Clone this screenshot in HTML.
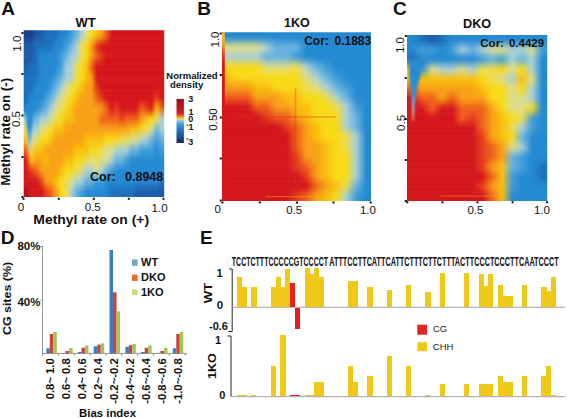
<!DOCTYPE html>
<html><head><meta charset="utf-8"><style>
html,body{margin:0;padding:0;background:#fff;}
svg{display:block;}
text{font-family:"Liberation Sans",sans-serif;}
</style></head><body>
<svg width="567" height="418" viewBox="0 0 567 418">
<rect width="567" height="418" fill="#fff"/>
<defs><linearGradient id="cbar" x1="0" y1="0" x2="0" y2="1"><stop offset="0" stop-color="#9c0e1e"/><stop offset="0.15" stop-color="#b41420"/><stop offset="0.30" stop-color="#cc1a20"/><stop offset="0.34" stop-color="#dc2820"/><stop offset="0.38" stop-color="#f06020"/><stop offset="0.42" stop-color="#f4a028"/><stop offset="0.445" stop-color="#f0d040"/><stop offset="0.47" stop-color="#c8dca0"/><stop offset="0.51" stop-color="#7cc0e4"/><stop offset="0.57" stop-color="#44a0dc"/><stop offset="0.66" stop-color="#2580c8"/><stop offset="0.75" stop-color="#1e6cb8"/><stop offset="0.84" stop-color="#1a56a0"/><stop offset="0.92" stop-color="#14387a"/><stop offset="1" stop-color="#102c68"/></linearGradient><linearGradient id="bstrip" x1="0" y1="0" x2="0" y2="1"><stop offset="0" stop-color="#f8c040"/><stop offset="0.08" stop-color="#f0a020"/><stop offset="0.14" stop-color="#e84018"/><stop offset="0.2" stop-color="#d8161a"/><stop offset="1" stop-color="#d8161a"/></linearGradient></defs>
<defs><linearGradient id="gA0" x1="23.7" x2="164.2" y1="0" y2="0" gradientUnits="userSpaceOnUse"><stop offset="0.018" stop-color="#173f86"/><stop offset="0.054" stop-color="#173f86"/><stop offset="0.089" stop-color="#1b5aa8"/><stop offset="0.125" stop-color="#1b5aa8"/><stop offset="0.161" stop-color="#1c70bc"/><stop offset="0.196" stop-color="#1c70bc"/><stop offset="0.232" stop-color="#1c70bc"/><stop offset="0.268" stop-color="#2489d2"/><stop offset="0.304" stop-color="#2489d2"/><stop offset="0.339" stop-color="#3e9cd8"/><stop offset="0.375" stop-color="#66b2e0"/><stop offset="0.411" stop-color="#a9d0d6"/><stop offset="0.446" stop-color="#dcdc8a"/><stop offset="0.482" stop-color="#f8da14"/><stop offset="0.518" stop-color="#f8c010"/><stop offset="0.554" stop-color="#f8a012"/><stop offset="0.589" stop-color="#f0601a"/><stop offset="0.625" stop-color="#d4141a"/><stop offset="0.661" stop-color="#d4141a"/><stop offset="0.696" stop-color="#d4141a"/><stop offset="0.732" stop-color="#d4141a"/><stop offset="0.768" stop-color="#d4141a"/><stop offset="0.804" stop-color="#d4141a"/><stop offset="0.839" stop-color="#d4141a"/><stop offset="0.875" stop-color="#d4141a"/><stop offset="0.911" stop-color="#d4141a"/><stop offset="0.946" stop-color="#d4141a"/><stop offset="0.982" stop-color="#d4141a"/></linearGradient><linearGradient id="gA1" x1="23.7" x2="164.2" y1="0" y2="0" gradientUnits="userSpaceOnUse"><stop offset="0.018" stop-color="#173f86"/><stop offset="0.054" stop-color="#173f86"/><stop offset="0.089" stop-color="#1b5aa8"/><stop offset="0.125" stop-color="#1b5aa8"/><stop offset="0.161" stop-color="#1c70bc"/><stop offset="0.196" stop-color="#1c70bc"/><stop offset="0.232" stop-color="#1c70bc"/><stop offset="0.268" stop-color="#2489d2"/><stop offset="0.304" stop-color="#2489d2"/><stop offset="0.339" stop-color="#3e9cd8"/><stop offset="0.375" stop-color="#66b2e0"/><stop offset="0.411" stop-color="#a9d0d6"/><stop offset="0.446" stop-color="#dcdc8a"/><stop offset="0.482" stop-color="#f8da14"/><stop offset="0.518" stop-color="#f8c010"/><stop offset="0.554" stop-color="#f8a012"/><stop offset="0.589" stop-color="#f0601a"/><stop offset="0.625" stop-color="#d4141a"/><stop offset="0.661" stop-color="#d4141a"/><stop offset="0.696" stop-color="#d4141a"/><stop offset="0.732" stop-color="#d4141a"/><stop offset="0.768" stop-color="#d4141a"/><stop offset="0.804" stop-color="#d4141a"/><stop offset="0.839" stop-color="#d4141a"/><stop offset="0.875" stop-color="#d4141a"/><stop offset="0.911" stop-color="#d4141a"/><stop offset="0.946" stop-color="#d4141a"/><stop offset="0.982" stop-color="#d4141a"/></linearGradient><linearGradient id="gA2" x1="23.7" x2="164.2" y1="0" y2="0" gradientUnits="userSpaceOnUse"><stop offset="0.018" stop-color="#18428a"/><stop offset="0.054" stop-color="#18428a"/><stop offset="0.089" stop-color="#1b5daa"/><stop offset="0.125" stop-color="#1b5daa"/><stop offset="0.161" stop-color="#1c70bc"/><stop offset="0.196" stop-color="#1c70bc"/><stop offset="0.232" stop-color="#1d73bf"/><stop offset="0.268" stop-color="#2489d2"/><stop offset="0.304" stop-color="#278bd3"/><stop offset="0.339" stop-color="#439fd9"/><stop offset="0.375" stop-color="#6eb6df"/><stop offset="0.411" stop-color="#b2d2c5"/><stop offset="0.446" stop-color="#e0dc7b"/><stop offset="0.482" stop-color="#f8d314"/><stop offset="0.518" stop-color="#f6b011"/><stop offset="0.554" stop-color="#f48e13"/><stop offset="0.589" stop-color="#ec561a"/><stop offset="0.625" stop-color="#d4141a"/><stop offset="0.661" stop-color="#d4141a"/><stop offset="0.696" stop-color="#d4141a"/><stop offset="0.732" stop-color="#d4141a"/><stop offset="0.768" stop-color="#d4141a"/><stop offset="0.804" stop-color="#d4141a"/><stop offset="0.839" stop-color="#d4141a"/><stop offset="0.875" stop-color="#d4141a"/><stop offset="0.911" stop-color="#d4141a"/><stop offset="0.946" stop-color="#d4141a"/><stop offset="0.982" stop-color="#d4141a"/></linearGradient><linearGradient id="gA3" x1="23.7" x2="164.2" y1="0" y2="0" gradientUnits="userSpaceOnUse"><stop offset="0.018" stop-color="#184993"/><stop offset="0.054" stop-color="#184993"/><stop offset="0.089" stop-color="#1b62b0"/><stop offset="0.125" stop-color="#1b62b0"/><stop offset="0.161" stop-color="#1c70bc"/><stop offset="0.196" stop-color="#1c70bc"/><stop offset="0.232" stop-color="#1f79c4"/><stop offset="0.268" stop-color="#2489d2"/><stop offset="0.304" stop-color="#2e90d4"/><stop offset="0.339" stop-color="#4da4db"/><stop offset="0.375" stop-color="#7fbddc"/><stop offset="0.411" stop-color="#c3d4a4"/><stop offset="0.446" stop-color="#e6db5e"/><stop offset="0.482" stop-color="#f8c413"/><stop offset="0.518" stop-color="#f08e14"/><stop offset="0.554" stop-color="#ea6c15"/><stop offset="0.589" stop-color="#e6441a"/><stop offset="0.625" stop-color="#d4141a"/><stop offset="0.661" stop-color="#d4141a"/><stop offset="0.696" stop-color="#d4141a"/><stop offset="0.732" stop-color="#d4141a"/><stop offset="0.768" stop-color="#d4141a"/><stop offset="0.804" stop-color="#d4141a"/><stop offset="0.839" stop-color="#d4141a"/><stop offset="0.875" stop-color="#d4141a"/><stop offset="0.911" stop-color="#d4141a"/><stop offset="0.946" stop-color="#d4141a"/><stop offset="0.982" stop-color="#d4141a"/></linearGradient><linearGradient id="gA4" x1="23.7" x2="164.2" y1="0" y2="0" gradientUnits="userSpaceOnUse"><stop offset="0.018" stop-color="#1a509b"/><stop offset="0.054" stop-color="#1a509b"/><stop offset="0.089" stop-color="#1c68b4"/><stop offset="0.125" stop-color="#1c68b4"/><stop offset="0.161" stop-color="#1c70bc"/><stop offset="0.196" stop-color="#1c70bc"/><stop offset="0.232" stop-color="#2180ca"/><stop offset="0.268" stop-color="#2489d2"/><stop offset="0.304" stop-color="#3495d6"/><stop offset="0.339" stop-color="#57aadd"/><stop offset="0.375" stop-color="#90c5da"/><stop offset="0.411" stop-color="#d4d882"/><stop offset="0.446" stop-color="#eedb40"/><stop offset="0.482" stop-color="#f8b613"/><stop offset="0.518" stop-color="#ec6e16"/><stop offset="0.554" stop-color="#e24817"/><stop offset="0.589" stop-color="#de301a"/><stop offset="0.625" stop-color="#d4141a"/><stop offset="0.661" stop-color="#d4141a"/><stop offset="0.696" stop-color="#d4141a"/><stop offset="0.732" stop-color="#d4141a"/><stop offset="0.768" stop-color="#d4141a"/><stop offset="0.804" stop-color="#d4141a"/><stop offset="0.839" stop-color="#d4141a"/><stop offset="0.875" stop-color="#d4141a"/><stop offset="0.911" stop-color="#d4141a"/><stop offset="0.946" stop-color="#d4141a"/><stop offset="0.982" stop-color="#d4141a"/></linearGradient><linearGradient id="gA5" x1="23.7" x2="164.2" y1="0" y2="0" gradientUnits="userSpaceOnUse"><stop offset="0.018" stop-color="#1a57a4"/><stop offset="0.054" stop-color="#1a57a4"/><stop offset="0.089" stop-color="#1c6dba"/><stop offset="0.125" stop-color="#1c6dba"/><stop offset="0.161" stop-color="#1c70bc"/><stop offset="0.196" stop-color="#1c70bc"/><stop offset="0.232" stop-color="#2386cf"/><stop offset="0.268" stop-color="#2489d2"/><stop offset="0.304" stop-color="#3b9ad7"/><stop offset="0.339" stop-color="#61afdf"/><stop offset="0.375" stop-color="#a1ccd7"/><stop offset="0.411" stop-color="#e5da61"/><stop offset="0.446" stop-color="#f4da23"/><stop offset="0.482" stop-color="#f8a712"/><stop offset="0.518" stop-color="#e64c19"/><stop offset="0.554" stop-color="#d82619"/><stop offset="0.589" stop-color="#d81e1a"/><stop offset="0.625" stop-color="#d4141a"/><stop offset="0.661" stop-color="#d4141a"/><stop offset="0.696" stop-color="#d4141a"/><stop offset="0.732" stop-color="#d4141a"/><stop offset="0.768" stop-color="#d4141a"/><stop offset="0.804" stop-color="#d4141a"/><stop offset="0.839" stop-color="#d4141a"/><stop offset="0.875" stop-color="#d4141a"/><stop offset="0.911" stop-color="#d4141a"/><stop offset="0.946" stop-color="#d4141a"/><stop offset="0.982" stop-color="#d4141a"/></linearGradient><linearGradient id="gA6" x1="23.7" x2="164.2" y1="0" y2="0" gradientUnits="userSpaceOnUse"><stop offset="0.018" stop-color="#1b5aa8"/><stop offset="0.054" stop-color="#1b5aa8"/><stop offset="0.089" stop-color="#1c70bc"/><stop offset="0.125" stop-color="#1d73bf"/><stop offset="0.161" stop-color="#1d73bf"/><stop offset="0.196" stop-color="#1d73bf"/><stop offset="0.232" stop-color="#2489d2"/><stop offset="0.268" stop-color="#278bd3"/><stop offset="0.304" stop-color="#439fd9"/><stop offset="0.339" stop-color="#6eb6df"/><stop offset="0.375" stop-color="#a9d0d6"/><stop offset="0.411" stop-color="#eedc50"/><stop offset="0.446" stop-color="#f8da14"/><stop offset="0.482" stop-color="#f8a012"/><stop offset="0.518" stop-color="#e6401a"/><stop offset="0.554" stop-color="#d6191a"/><stop offset="0.589" stop-color="#d4141a"/><stop offset="0.625" stop-color="#d4141a"/><stop offset="0.661" stop-color="#d4141a"/><stop offset="0.696" stop-color="#d4141a"/><stop offset="0.732" stop-color="#d4141a"/><stop offset="0.768" stop-color="#d4141a"/><stop offset="0.804" stop-color="#d4141a"/><stop offset="0.839" stop-color="#d4141a"/><stop offset="0.875" stop-color="#d4141a"/><stop offset="0.911" stop-color="#d4141a"/><stop offset="0.946" stop-color="#d4141a"/><stop offset="0.982" stop-color="#d4141a"/></linearGradient><linearGradient id="gA7" x1="23.7" x2="164.2" y1="0" y2="0" gradientUnits="userSpaceOnUse"><stop offset="0.018" stop-color="#1b5aa8"/><stop offset="0.054" stop-color="#1b5aa8"/><stop offset="0.089" stop-color="#1c70bc"/><stop offset="0.125" stop-color="#1f79c4"/><stop offset="0.161" stop-color="#1f79c4"/><stop offset="0.196" stop-color="#1f79c4"/><stop offset="0.232" stop-color="#2489d2"/><stop offset="0.268" stop-color="#2e90d4"/><stop offset="0.304" stop-color="#4da4db"/><stop offset="0.339" stop-color="#7fbddc"/><stop offset="0.375" stop-color="#a9d0d6"/><stop offset="0.411" stop-color="#eedc50"/><stop offset="0.446" stop-color="#f8da14"/><stop offset="0.482" stop-color="#f8a012"/><stop offset="0.518" stop-color="#e84a1a"/><stop offset="0.554" stop-color="#da231a"/><stop offset="0.589" stop-color="#d4141a"/><stop offset="0.625" stop-color="#d4141a"/><stop offset="0.661" stop-color="#d4141a"/><stop offset="0.696" stop-color="#d4141a"/><stop offset="0.732" stop-color="#d4141a"/><stop offset="0.768" stop-color="#d4141a"/><stop offset="0.804" stop-color="#d4141a"/><stop offset="0.839" stop-color="#d4141a"/><stop offset="0.875" stop-color="#d4141a"/><stop offset="0.911" stop-color="#d4141a"/><stop offset="0.946" stop-color="#d4141a"/><stop offset="0.982" stop-color="#d4141a"/></linearGradient><linearGradient id="gA8" x1="23.7" x2="164.2" y1="0" y2="0" gradientUnits="userSpaceOnUse"><stop offset="0.018" stop-color="#1b5aa8"/><stop offset="0.054" stop-color="#1b5aa8"/><stop offset="0.089" stop-color="#1c70bc"/><stop offset="0.125" stop-color="#2180ca"/><stop offset="0.161" stop-color="#2180ca"/><stop offset="0.196" stop-color="#2180ca"/><stop offset="0.232" stop-color="#2489d2"/><stop offset="0.268" stop-color="#3495d6"/><stop offset="0.304" stop-color="#57aadd"/><stop offset="0.339" stop-color="#90c5da"/><stop offset="0.375" stop-color="#a9d0d6"/><stop offset="0.411" stop-color="#eedc50"/><stop offset="0.446" stop-color="#f8da14"/><stop offset="0.482" stop-color="#f8a012"/><stop offset="0.518" stop-color="#ec521a"/><stop offset="0.554" stop-color="#de2d1a"/><stop offset="0.589" stop-color="#d4141a"/><stop offset="0.625" stop-color="#d4141a"/><stop offset="0.661" stop-color="#d4141a"/><stop offset="0.696" stop-color="#d4141a"/><stop offset="0.732" stop-color="#d4141a"/><stop offset="0.768" stop-color="#d4141a"/><stop offset="0.804" stop-color="#d4141a"/><stop offset="0.839" stop-color="#d4141a"/><stop offset="0.875" stop-color="#d4141a"/><stop offset="0.911" stop-color="#d4141a"/><stop offset="0.946" stop-color="#d4141a"/><stop offset="0.982" stop-color="#d4141a"/></linearGradient><linearGradient id="gA9" x1="23.7" x2="164.2" y1="0" y2="0" gradientUnits="userSpaceOnUse"><stop offset="0.018" stop-color="#1b5aa8"/><stop offset="0.054" stop-color="#1b5aa8"/><stop offset="0.089" stop-color="#1c70bc"/><stop offset="0.125" stop-color="#2386cf"/><stop offset="0.161" stop-color="#2386cf"/><stop offset="0.196" stop-color="#2386cf"/><stop offset="0.232" stop-color="#2489d2"/><stop offset="0.268" stop-color="#3b9ad7"/><stop offset="0.304" stop-color="#61afdf"/><stop offset="0.339" stop-color="#a1ccd7"/><stop offset="0.375" stop-color="#a9d0d6"/><stop offset="0.411" stop-color="#eedc50"/><stop offset="0.446" stop-color="#f8da14"/><stop offset="0.482" stop-color="#f8a012"/><stop offset="0.518" stop-color="#ee5c1a"/><stop offset="0.554" stop-color="#e2371a"/><stop offset="0.589" stop-color="#d4141a"/><stop offset="0.625" stop-color="#d4141a"/><stop offset="0.661" stop-color="#d4141a"/><stop offset="0.696" stop-color="#d4141a"/><stop offset="0.732" stop-color="#d4141a"/><stop offset="0.768" stop-color="#d4141a"/><stop offset="0.804" stop-color="#d4141a"/><stop offset="0.839" stop-color="#d4141a"/><stop offset="0.875" stop-color="#d4141a"/><stop offset="0.911" stop-color="#d4141a"/><stop offset="0.946" stop-color="#d4141a"/><stop offset="0.982" stop-color="#d4141a"/></linearGradient><linearGradient id="gA10" x1="23.7" x2="164.2" y1="0" y2="0" gradientUnits="userSpaceOnUse"><stop offset="0.018" stop-color="#1b5aa8"/><stop offset="0.054" stop-color="#1b5daa"/><stop offset="0.089" stop-color="#1c70bc"/><stop offset="0.125" stop-color="#2489d2"/><stop offset="0.161" stop-color="#2489d2"/><stop offset="0.196" stop-color="#2489d2"/><stop offset="0.232" stop-color="#2489d2"/><stop offset="0.268" stop-color="#3e9cd8"/><stop offset="0.304" stop-color="#6eb6df"/><stop offset="0.339" stop-color="#a9d0d6"/><stop offset="0.375" stop-color="#b2d2c5"/><stop offset="0.411" stop-color="#efdc48"/><stop offset="0.446" stop-color="#f8d714"/><stop offset="0.482" stop-color="#f79813"/><stop offset="0.518" stop-color="#ec561a"/><stop offset="0.554" stop-color="#e2371a"/><stop offset="0.589" stop-color="#d4141a"/><stop offset="0.625" stop-color="#d4141a"/><stop offset="0.661" stop-color="#d4141a"/><stop offset="0.696" stop-color="#d4141a"/><stop offset="0.732" stop-color="#d4141a"/><stop offset="0.768" stop-color="#d4141a"/><stop offset="0.804" stop-color="#d4141a"/><stop offset="0.839" stop-color="#d4141a"/><stop offset="0.875" stop-color="#d4141a"/><stop offset="0.911" stop-color="#d4141a"/><stop offset="0.946" stop-color="#d4141a"/><stop offset="0.982" stop-color="#d4141a"/></linearGradient><linearGradient id="gA11" x1="23.7" x2="164.2" y1="0" y2="0" gradientUnits="userSpaceOnUse"><stop offset="0.018" stop-color="#1b5aa8"/><stop offset="0.054" stop-color="#1b62b0"/><stop offset="0.089" stop-color="#1c70bc"/><stop offset="0.125" stop-color="#2489d2"/><stop offset="0.161" stop-color="#2489d2"/><stop offset="0.196" stop-color="#2489d2"/><stop offset="0.232" stop-color="#2489d2"/><stop offset="0.268" stop-color="#3e9cd8"/><stop offset="0.304" stop-color="#7fbddc"/><stop offset="0.339" stop-color="#a9d0d6"/><stop offset="0.375" stop-color="#c3d4a4"/><stop offset="0.411" stop-color="#f2db3a"/><stop offset="0.446" stop-color="#f8d012"/><stop offset="0.482" stop-color="#f58815"/><stop offset="0.518" stop-color="#e6441a"/><stop offset="0.554" stop-color="#de2d1a"/><stop offset="0.589" stop-color="#d4141a"/><stop offset="0.625" stop-color="#d4141a"/><stop offset="0.661" stop-color="#d4141a"/><stop offset="0.696" stop-color="#d4141a"/><stop offset="0.732" stop-color="#d4141a"/><stop offset="0.768" stop-color="#d4141a"/><stop offset="0.804" stop-color="#d4141a"/><stop offset="0.839" stop-color="#d4141a"/><stop offset="0.875" stop-color="#d4141a"/><stop offset="0.911" stop-color="#d4141a"/><stop offset="0.946" stop-color="#d4141a"/><stop offset="0.982" stop-color="#d4141a"/></linearGradient><linearGradient id="gA12" x1="23.7" x2="164.2" y1="0" y2="0" gradientUnits="userSpaceOnUse"><stop offset="0.018" stop-color="#1b5aa8"/><stop offset="0.054" stop-color="#1c68b4"/><stop offset="0.089" stop-color="#1c70bc"/><stop offset="0.125" stop-color="#2489d2"/><stop offset="0.161" stop-color="#2489d2"/><stop offset="0.196" stop-color="#2489d2"/><stop offset="0.232" stop-color="#2489d2"/><stop offset="0.268" stop-color="#3e9cd8"/><stop offset="0.304" stop-color="#90c5da"/><stop offset="0.339" stop-color="#a9d0d6"/><stop offset="0.375" stop-color="#d4d882"/><stop offset="0.411" stop-color="#f4db2a"/><stop offset="0.446" stop-color="#f8ca12"/><stop offset="0.482" stop-color="#f37817"/><stop offset="0.518" stop-color="#de301a"/><stop offset="0.554" stop-color="#da231a"/><stop offset="0.589" stop-color="#d4141a"/><stop offset="0.625" stop-color="#d4141a"/><stop offset="0.661" stop-color="#d4141a"/><stop offset="0.696" stop-color="#d4141a"/><stop offset="0.732" stop-color="#d4141a"/><stop offset="0.768" stop-color="#d4141a"/><stop offset="0.804" stop-color="#d4141a"/><stop offset="0.839" stop-color="#d4141a"/><stop offset="0.875" stop-color="#d4141a"/><stop offset="0.911" stop-color="#d4141a"/><stop offset="0.946" stop-color="#d4141a"/><stop offset="0.982" stop-color="#d4141a"/></linearGradient><linearGradient id="gA13" x1="23.7" x2="164.2" y1="0" y2="0" gradientUnits="userSpaceOnUse"><stop offset="0.018" stop-color="#1b5aa8"/><stop offset="0.054" stop-color="#1c6dba"/><stop offset="0.089" stop-color="#1c70bc"/><stop offset="0.125" stop-color="#2489d2"/><stop offset="0.161" stop-color="#2489d2"/><stop offset="0.196" stop-color="#2489d2"/><stop offset="0.232" stop-color="#2489d2"/><stop offset="0.268" stop-color="#3e9cd8"/><stop offset="0.304" stop-color="#a1ccd7"/><stop offset="0.339" stop-color="#a9d0d6"/><stop offset="0.375" stop-color="#e5da61"/><stop offset="0.411" stop-color="#f7da1c"/><stop offset="0.446" stop-color="#f8c310"/><stop offset="0.482" stop-color="#f16819"/><stop offset="0.518" stop-color="#d81e1a"/><stop offset="0.554" stop-color="#d6191a"/><stop offset="0.589" stop-color="#d4141a"/><stop offset="0.625" stop-color="#d4141a"/><stop offset="0.661" stop-color="#d4141a"/><stop offset="0.696" stop-color="#d4141a"/><stop offset="0.732" stop-color="#d4141a"/><stop offset="0.768" stop-color="#d4141a"/><stop offset="0.804" stop-color="#d4141a"/><stop offset="0.839" stop-color="#d4141a"/><stop offset="0.875" stop-color="#d4141a"/><stop offset="0.911" stop-color="#d4141a"/><stop offset="0.946" stop-color="#d4141a"/><stop offset="0.982" stop-color="#d4141a"/></linearGradient><linearGradient id="gA14" x1="23.7" x2="164.2" y1="0" y2="0" gradientUnits="userSpaceOnUse"><stop offset="0.018" stop-color="#1b5daa"/><stop offset="0.054" stop-color="#1c70bc"/><stop offset="0.089" stop-color="#1c70bc"/><stop offset="0.125" stop-color="#2489d2"/><stop offset="0.161" stop-color="#2489d2"/><stop offset="0.196" stop-color="#2489d2"/><stop offset="0.232" stop-color="#278bd3"/><stop offset="0.268" stop-color="#439fd9"/><stop offset="0.304" stop-color="#a9d0d6"/><stop offset="0.339" stop-color="#a9d0d6"/><stop offset="0.375" stop-color="#eedc50"/><stop offset="0.411" stop-color="#f8da14"/><stop offset="0.446" stop-color="#f8c010"/><stop offset="0.482" stop-color="#f16819"/><stop offset="0.518" stop-color="#d4141a"/><stop offset="0.554" stop-color="#d4141a"/><stop offset="0.589" stop-color="#d4141a"/><stop offset="0.625" stop-color="#d4141a"/><stop offset="0.661" stop-color="#d4141a"/><stop offset="0.696" stop-color="#d4141a"/><stop offset="0.732" stop-color="#d4141a"/><stop offset="0.768" stop-color="#d4141a"/><stop offset="0.804" stop-color="#d4141a"/><stop offset="0.839" stop-color="#d4141a"/><stop offset="0.875" stop-color="#d4141a"/><stop offset="0.911" stop-color="#d4141a"/><stop offset="0.946" stop-color="#d4141a"/><stop offset="0.982" stop-color="#d4141a"/></linearGradient><linearGradient id="gA15" x1="23.7" x2="164.2" y1="0" y2="0" gradientUnits="userSpaceOnUse"><stop offset="0.018" stop-color="#1b62b0"/><stop offset="0.054" stop-color="#1c70bc"/><stop offset="0.089" stop-color="#1c70bc"/><stop offset="0.125" stop-color="#2489d2"/><stop offset="0.161" stop-color="#2489d2"/><stop offset="0.196" stop-color="#2489d2"/><stop offset="0.232" stop-color="#2e90d4"/><stop offset="0.268" stop-color="#4da4db"/><stop offset="0.304" stop-color="#a9d0d6"/><stop offset="0.339" stop-color="#a9d0d6"/><stop offset="0.375" stop-color="#eedc50"/><stop offset="0.411" stop-color="#f8da14"/><stop offset="0.446" stop-color="#f8c010"/><stop offset="0.482" stop-color="#f37817"/><stop offset="0.518" stop-color="#d4141a"/><stop offset="0.554" stop-color="#d4141a"/><stop offset="0.589" stop-color="#d4141a"/><stop offset="0.625" stop-color="#d4141a"/><stop offset="0.661" stop-color="#d4141a"/><stop offset="0.696" stop-color="#d4141a"/><stop offset="0.732" stop-color="#d4141a"/><stop offset="0.768" stop-color="#d4141a"/><stop offset="0.804" stop-color="#d4141a"/><stop offset="0.839" stop-color="#d4141a"/><stop offset="0.875" stop-color="#d4141a"/><stop offset="0.911" stop-color="#d4141a"/><stop offset="0.946" stop-color="#d4141a"/><stop offset="0.982" stop-color="#d4141a"/></linearGradient><linearGradient id="gA16" x1="23.7" x2="164.2" y1="0" y2="0" gradientUnits="userSpaceOnUse"><stop offset="0.018" stop-color="#1c68b4"/><stop offset="0.054" stop-color="#1c70bc"/><stop offset="0.089" stop-color="#1c70bc"/><stop offset="0.125" stop-color="#2489d2"/><stop offset="0.161" stop-color="#2489d2"/><stop offset="0.196" stop-color="#2489d2"/><stop offset="0.232" stop-color="#3495d6"/><stop offset="0.268" stop-color="#57aadd"/><stop offset="0.304" stop-color="#a9d0d6"/><stop offset="0.339" stop-color="#a9d0d6"/><stop offset="0.375" stop-color="#eedc50"/><stop offset="0.411" stop-color="#f8da14"/><stop offset="0.446" stop-color="#f8c010"/><stop offset="0.482" stop-color="#f58815"/><stop offset="0.518" stop-color="#d4141a"/><stop offset="0.554" stop-color="#d4141a"/><stop offset="0.589" stop-color="#d4141a"/><stop offset="0.625" stop-color="#d4141a"/><stop offset="0.661" stop-color="#d4141a"/><stop offset="0.696" stop-color="#d4141a"/><stop offset="0.732" stop-color="#d4141a"/><stop offset="0.768" stop-color="#d4141a"/><stop offset="0.804" stop-color="#d4141a"/><stop offset="0.839" stop-color="#d4141a"/><stop offset="0.875" stop-color="#d4141a"/><stop offset="0.911" stop-color="#d4141a"/><stop offset="0.946" stop-color="#d4141a"/><stop offset="0.982" stop-color="#d4141a"/></linearGradient><linearGradient id="gA17" x1="23.7" x2="164.2" y1="0" y2="0" gradientUnits="userSpaceOnUse"><stop offset="0.018" stop-color="#1c6dba"/><stop offset="0.054" stop-color="#1c70bc"/><stop offset="0.089" stop-color="#1c70bc"/><stop offset="0.125" stop-color="#2489d2"/><stop offset="0.161" stop-color="#2489d2"/><stop offset="0.196" stop-color="#2489d2"/><stop offset="0.232" stop-color="#3b9ad7"/><stop offset="0.268" stop-color="#61afdf"/><stop offset="0.304" stop-color="#a9d0d6"/><stop offset="0.339" stop-color="#a9d0d6"/><stop offset="0.375" stop-color="#eedc50"/><stop offset="0.411" stop-color="#f8da14"/><stop offset="0.446" stop-color="#f8c010"/><stop offset="0.482" stop-color="#f79813"/><stop offset="0.518" stop-color="#d4141a"/><stop offset="0.554" stop-color="#d4141a"/><stop offset="0.589" stop-color="#d4141a"/><stop offset="0.625" stop-color="#d4141a"/><stop offset="0.661" stop-color="#d4141a"/><stop offset="0.696" stop-color="#d4141a"/><stop offset="0.732" stop-color="#d4141a"/><stop offset="0.768" stop-color="#d4141a"/><stop offset="0.804" stop-color="#d4141a"/><stop offset="0.839" stop-color="#d4141a"/><stop offset="0.875" stop-color="#d4141a"/><stop offset="0.911" stop-color="#d4141a"/><stop offset="0.946" stop-color="#d4141a"/><stop offset="0.982" stop-color="#d4141a"/></linearGradient><linearGradient id="gA18" x1="23.7" x2="164.2" y1="0" y2="0" gradientUnits="userSpaceOnUse"><stop offset="0.018" stop-color="#1c70bc"/><stop offset="0.054" stop-color="#1c70bc"/><stop offset="0.089" stop-color="#1d73bf"/><stop offset="0.125" stop-color="#2489d2"/><stop offset="0.161" stop-color="#2489d2"/><stop offset="0.196" stop-color="#278bd3"/><stop offset="0.232" stop-color="#439fd9"/><stop offset="0.268" stop-color="#6eb6df"/><stop offset="0.304" stop-color="#afd2cc"/><stop offset="0.339" stop-color="#b2d2c5"/><stop offset="0.375" stop-color="#efdc48"/><stop offset="0.411" stop-color="#f8d714"/><stop offset="0.446" stop-color="#f8bc10"/><stop offset="0.482" stop-color="#f8a012"/><stop offset="0.518" stop-color="#d6191a"/><stop offset="0.554" stop-color="#d4141a"/><stop offset="0.589" stop-color="#d4141a"/><stop offset="0.625" stop-color="#d4141a"/><stop offset="0.661" stop-color="#d4141a"/><stop offset="0.696" stop-color="#d4141a"/><stop offset="0.732" stop-color="#d4141a"/><stop offset="0.768" stop-color="#d4141a"/><stop offset="0.804" stop-color="#d4141a"/><stop offset="0.839" stop-color="#d4141a"/><stop offset="0.875" stop-color="#d4141a"/><stop offset="0.911" stop-color="#d4141a"/><stop offset="0.946" stop-color="#d4141a"/><stop offset="0.982" stop-color="#d4141a"/></linearGradient><linearGradient id="gA19" x1="23.7" x2="164.2" y1="0" y2="0" gradientUnits="userSpaceOnUse"><stop offset="0.018" stop-color="#1c70bc"/><stop offset="0.054" stop-color="#1c70bc"/><stop offset="0.089" stop-color="#1f79c4"/><stop offset="0.125" stop-color="#2489d2"/><stop offset="0.161" stop-color="#2489d2"/><stop offset="0.196" stop-color="#2e90d4"/><stop offset="0.232" stop-color="#4da4db"/><stop offset="0.268" stop-color="#7fbddc"/><stop offset="0.304" stop-color="#bcd4ba"/><stop offset="0.339" stop-color="#c3d4a4"/><stop offset="0.375" stop-color="#f2db3a"/><stop offset="0.411" stop-color="#f8d012"/><stop offset="0.446" stop-color="#f8b411"/><stop offset="0.482" stop-color="#f8a012"/><stop offset="0.518" stop-color="#da231a"/><stop offset="0.554" stop-color="#d4141a"/><stop offset="0.589" stop-color="#d4141a"/><stop offset="0.625" stop-color="#d4141a"/><stop offset="0.661" stop-color="#d4141a"/><stop offset="0.696" stop-color="#d4141a"/><stop offset="0.732" stop-color="#d4141a"/><stop offset="0.768" stop-color="#d4141a"/><stop offset="0.804" stop-color="#d4141a"/><stop offset="0.839" stop-color="#d4141a"/><stop offset="0.875" stop-color="#d4141a"/><stop offset="0.911" stop-color="#d4141a"/><stop offset="0.946" stop-color="#d4141a"/><stop offset="0.982" stop-color="#d4141a"/></linearGradient><linearGradient id="gA20" x1="23.7" x2="164.2" y1="0" y2="0" gradientUnits="userSpaceOnUse"><stop offset="0.018" stop-color="#1c70bc"/><stop offset="0.054" stop-color="#1c70bc"/><stop offset="0.089" stop-color="#2180ca"/><stop offset="0.125" stop-color="#2489d2"/><stop offset="0.161" stop-color="#2489d2"/><stop offset="0.196" stop-color="#3495d6"/><stop offset="0.232" stop-color="#57aadd"/><stop offset="0.268" stop-color="#90c5da"/><stop offset="0.304" stop-color="#c9d8a6"/><stop offset="0.339" stop-color="#d4d882"/><stop offset="0.375" stop-color="#f4db2a"/><stop offset="0.411" stop-color="#f8ca12"/><stop offset="0.446" stop-color="#f8ac11"/><stop offset="0.482" stop-color="#f8a012"/><stop offset="0.518" stop-color="#de2d1a"/><stop offset="0.554" stop-color="#d4141a"/><stop offset="0.589" stop-color="#d4141a"/><stop offset="0.625" stop-color="#d4141a"/><stop offset="0.661" stop-color="#d4141a"/><stop offset="0.696" stop-color="#d4141a"/><stop offset="0.732" stop-color="#d4141a"/><stop offset="0.768" stop-color="#d4141a"/><stop offset="0.804" stop-color="#d4141a"/><stop offset="0.839" stop-color="#d4141a"/><stop offset="0.875" stop-color="#d4141a"/><stop offset="0.911" stop-color="#d4141a"/><stop offset="0.946" stop-color="#d4141a"/><stop offset="0.982" stop-color="#d4141a"/></linearGradient><linearGradient id="gA21" x1="23.7" x2="164.2" y1="0" y2="0" gradientUnits="userSpaceOnUse"><stop offset="0.018" stop-color="#1c70bc"/><stop offset="0.054" stop-color="#1c70bc"/><stop offset="0.089" stop-color="#2386cf"/><stop offset="0.125" stop-color="#2489d2"/><stop offset="0.161" stop-color="#2489d2"/><stop offset="0.196" stop-color="#3b9ad7"/><stop offset="0.232" stop-color="#61afdf"/><stop offset="0.268" stop-color="#a1ccd7"/><stop offset="0.304" stop-color="#d6da94"/><stop offset="0.339" stop-color="#e5da61"/><stop offset="0.375" stop-color="#f7da1c"/><stop offset="0.411" stop-color="#f8c310"/><stop offset="0.446" stop-color="#f8a412"/><stop offset="0.482" stop-color="#f8a012"/><stop offset="0.518" stop-color="#e2371a"/><stop offset="0.554" stop-color="#d4141a"/><stop offset="0.589" stop-color="#d4141a"/><stop offset="0.625" stop-color="#d4141a"/><stop offset="0.661" stop-color="#d4141a"/><stop offset="0.696" stop-color="#d4141a"/><stop offset="0.732" stop-color="#d4141a"/><stop offset="0.768" stop-color="#d4141a"/><stop offset="0.804" stop-color="#d4141a"/><stop offset="0.839" stop-color="#d4141a"/><stop offset="0.875" stop-color="#d4141a"/><stop offset="0.911" stop-color="#d4141a"/><stop offset="0.946" stop-color="#d4141a"/><stop offset="0.982" stop-color="#d4141a"/></linearGradient><linearGradient id="gA22" x1="23.7" x2="164.2" y1="0" y2="0" gradientUnits="userSpaceOnUse"><stop offset="0.018" stop-color="#1c70bc"/><stop offset="0.054" stop-color="#1d73bf"/><stop offset="0.089" stop-color="#2489d2"/><stop offset="0.125" stop-color="#2489d2"/><stop offset="0.161" stop-color="#278bd3"/><stop offset="0.196" stop-color="#439fd9"/><stop offset="0.232" stop-color="#6eb6df"/><stop offset="0.268" stop-color="#afd2cc"/><stop offset="0.304" stop-color="#dedc83"/><stop offset="0.339" stop-color="#efdc48"/><stop offset="0.375" stop-color="#f8d714"/><stop offset="0.411" stop-color="#f8bc10"/><stop offset="0.446" stop-color="#f8a012"/><stop offset="0.482" stop-color="#f8a012"/><stop offset="0.518" stop-color="#e6401a"/><stop offset="0.554" stop-color="#d6191a"/><stop offset="0.589" stop-color="#d4141a"/><stop offset="0.625" stop-color="#d4141a"/><stop offset="0.661" stop-color="#d4141a"/><stop offset="0.696" stop-color="#d4141a"/><stop offset="0.732" stop-color="#d4141a"/><stop offset="0.768" stop-color="#d4141a"/><stop offset="0.804" stop-color="#d4141a"/><stop offset="0.839" stop-color="#d4141a"/><stop offset="0.875" stop-color="#d4141a"/><stop offset="0.911" stop-color="#d4141a"/><stop offset="0.946" stop-color="#d6191a"/><stop offset="0.982" stop-color="#d4141a"/></linearGradient><linearGradient id="gA23" x1="23.7" x2="164.2" y1="0" y2="0" gradientUnits="userSpaceOnUse"><stop offset="0.018" stop-color="#1c70bc"/><stop offset="0.054" stop-color="#1f79c4"/><stop offset="0.089" stop-color="#2489d2"/><stop offset="0.125" stop-color="#2489d2"/><stop offset="0.161" stop-color="#2e90d4"/><stop offset="0.196" stop-color="#4da4db"/><stop offset="0.232" stop-color="#7fbddc"/><stop offset="0.268" stop-color="#bcd4ba"/><stop offset="0.304" stop-color="#e3dc74"/><stop offset="0.339" stop-color="#f2db3a"/><stop offset="0.375" stop-color="#f8d012"/><stop offset="0.411" stop-color="#f8b411"/><stop offset="0.446" stop-color="#f8a012"/><stop offset="0.482" stop-color="#f8a012"/><stop offset="0.518" stop-color="#e84a1a"/><stop offset="0.554" stop-color="#da231a"/><stop offset="0.589" stop-color="#d4141a"/><stop offset="0.625" stop-color="#d4141a"/><stop offset="0.661" stop-color="#d4141a"/><stop offset="0.696" stop-color="#d4141a"/><stop offset="0.732" stop-color="#d4141a"/><stop offset="0.768" stop-color="#d4141a"/><stop offset="0.804" stop-color="#d4141a"/><stop offset="0.839" stop-color="#d4141a"/><stop offset="0.875" stop-color="#d4141a"/><stop offset="0.911" stop-color="#d4141a"/><stop offset="0.946" stop-color="#da231a"/><stop offset="0.982" stop-color="#d4141a"/></linearGradient><linearGradient id="gA24" x1="23.7" x2="164.2" y1="0" y2="0" gradientUnits="userSpaceOnUse"><stop offset="0.018" stop-color="#1c70bc"/><stop offset="0.054" stop-color="#2180ca"/><stop offset="0.089" stop-color="#2489d2"/><stop offset="0.125" stop-color="#2489d2"/><stop offset="0.161" stop-color="#3495d6"/><stop offset="0.196" stop-color="#57aadd"/><stop offset="0.232" stop-color="#90c5da"/><stop offset="0.268" stop-color="#c9d8a6"/><stop offset="0.304" stop-color="#e7dc66"/><stop offset="0.339" stop-color="#f4db2a"/><stop offset="0.375" stop-color="#f8ca12"/><stop offset="0.411" stop-color="#f8ac11"/><stop offset="0.446" stop-color="#f8a012"/><stop offset="0.482" stop-color="#f8a012"/><stop offset="0.518" stop-color="#ec521a"/><stop offset="0.554" stop-color="#de2d1a"/><stop offset="0.589" stop-color="#d4141a"/><stop offset="0.625" stop-color="#d4141a"/><stop offset="0.661" stop-color="#d4141a"/><stop offset="0.696" stop-color="#d4141a"/><stop offset="0.732" stop-color="#d4141a"/><stop offset="0.768" stop-color="#d4141a"/><stop offset="0.804" stop-color="#d4141a"/><stop offset="0.839" stop-color="#d4141a"/><stop offset="0.875" stop-color="#d4141a"/><stop offset="0.911" stop-color="#d4141a"/><stop offset="0.946" stop-color="#de2d1a"/><stop offset="0.982" stop-color="#d4141a"/></linearGradient><linearGradient id="gA25" x1="23.7" x2="164.2" y1="0" y2="0" gradientUnits="userSpaceOnUse"><stop offset="0.018" stop-color="#1c70bc"/><stop offset="0.054" stop-color="#2386cf"/><stop offset="0.089" stop-color="#2489d2"/><stop offset="0.125" stop-color="#2489d2"/><stop offset="0.161" stop-color="#3b9ad7"/><stop offset="0.196" stop-color="#61afdf"/><stop offset="0.232" stop-color="#a1ccd7"/><stop offset="0.268" stop-color="#d6da94"/><stop offset="0.304" stop-color="#ecdc57"/><stop offset="0.339" stop-color="#f7da1c"/><stop offset="0.375" stop-color="#f8c310"/><stop offset="0.411" stop-color="#f8a412"/><stop offset="0.446" stop-color="#f8a012"/><stop offset="0.482" stop-color="#f8a012"/><stop offset="0.518" stop-color="#ee5c1a"/><stop offset="0.554" stop-color="#e2371a"/><stop offset="0.589" stop-color="#d4141a"/><stop offset="0.625" stop-color="#d4141a"/><stop offset="0.661" stop-color="#d4141a"/><stop offset="0.696" stop-color="#d4141a"/><stop offset="0.732" stop-color="#d4141a"/><stop offset="0.768" stop-color="#d4141a"/><stop offset="0.804" stop-color="#d4141a"/><stop offset="0.839" stop-color="#d4141a"/><stop offset="0.875" stop-color="#d4141a"/><stop offset="0.911" stop-color="#d4141a"/><stop offset="0.946" stop-color="#e2371a"/><stop offset="0.982" stop-color="#d4141a"/></linearGradient><linearGradient id="gA26" x1="23.7" x2="164.2" y1="0" y2="0" gradientUnits="userSpaceOnUse"><stop offset="0.018" stop-color="#1c70bc"/><stop offset="0.054" stop-color="#2489d2"/><stop offset="0.089" stop-color="#2489d2"/><stop offset="0.125" stop-color="#278bd3"/><stop offset="0.161" stop-color="#439fd9"/><stop offset="0.196" stop-color="#6eb6df"/><stop offset="0.232" stop-color="#afd1cd"/><stop offset="0.268" stop-color="#dedc83"/><stop offset="0.304" stop-color="#efdc49"/><stop offset="0.339" stop-color="#f8d714"/><stop offset="0.375" stop-color="#f8bc10"/><stop offset="0.411" stop-color="#f8a012"/><stop offset="0.446" stop-color="#f8a012"/><stop offset="0.482" stop-color="#f8a012"/><stop offset="0.518" stop-color="#f16819"/><stop offset="0.554" stop-color="#e64819"/><stop offset="0.589" stop-color="#d81d1a"/><stop offset="0.625" stop-color="#d4141a"/><stop offset="0.661" stop-color="#d6191a"/><stop offset="0.696" stop-color="#d4141a"/><stop offset="0.732" stop-color="#d4141a"/><stop offset="0.768" stop-color="#d4141a"/><stop offset="0.804" stop-color="#d4141a"/><stop offset="0.839" stop-color="#d81d1a"/><stop offset="0.875" stop-color="#d6191a"/><stop offset="0.911" stop-color="#d4141a"/><stop offset="0.946" stop-color="#e64c19"/><stop offset="0.982" stop-color="#d81d1a"/></linearGradient><linearGradient id="gA27" x1="23.7" x2="164.2" y1="0" y2="0" gradientUnits="userSpaceOnUse"><stop offset="0.018" stop-color="#1c70bc"/><stop offset="0.054" stop-color="#2489d2"/><stop offset="0.089" stop-color="#2489d2"/><stop offset="0.125" stop-color="#2e90d4"/><stop offset="0.161" stop-color="#4da4db"/><stop offset="0.196" stop-color="#7fbddc"/><stop offset="0.232" stop-color="#bcd5b9"/><stop offset="0.268" stop-color="#e3dc74"/><stop offset="0.304" stop-color="#f2db39"/><stop offset="0.339" stop-color="#f8d012"/><stop offset="0.375" stop-color="#f8b411"/><stop offset="0.411" stop-color="#f8a012"/><stop offset="0.446" stop-color="#f8a012"/><stop offset="0.482" stop-color="#f8a012"/><stop offset="0.518" stop-color="#f37817"/><stop offset="0.554" stop-color="#ec6217"/><stop offset="0.589" stop-color="#de311a"/><stop offset="0.625" stop-color="#d4141a"/><stop offset="0.661" stop-color="#da231a"/><stop offset="0.696" stop-color="#d4141a"/><stop offset="0.732" stop-color="#d4141a"/><stop offset="0.768" stop-color="#d4141a"/><stop offset="0.804" stop-color="#d4141a"/><stop offset="0.839" stop-color="#de311a"/><stop offset="0.875" stop-color="#da231a"/><stop offset="0.911" stop-color="#d4141a"/><stop offset="0.946" stop-color="#ec6e16"/><stop offset="0.982" stop-color="#de311a"/></linearGradient><linearGradient id="gA28" x1="23.7" x2="164.2" y1="0" y2="0" gradientUnits="userSpaceOnUse"><stop offset="0.018" stop-color="#1c70bc"/><stop offset="0.054" stop-color="#2489d2"/><stop offset="0.089" stop-color="#2489d2"/><stop offset="0.125" stop-color="#3495d6"/><stop offset="0.161" stop-color="#57aadd"/><stop offset="0.196" stop-color="#90c5da"/><stop offset="0.232" stop-color="#c9d8a6"/><stop offset="0.268" stop-color="#e7dc66"/><stop offset="0.304" stop-color="#f4db2a"/><stop offset="0.339" stop-color="#f8ca12"/><stop offset="0.375" stop-color="#f8ac11"/><stop offset="0.411" stop-color="#f8a012"/><stop offset="0.446" stop-color="#f8a012"/><stop offset="0.482" stop-color="#f8a012"/><stop offset="0.518" stop-color="#f58815"/><stop offset="0.554" stop-color="#f07a15"/><stop offset="0.589" stop-color="#e6441a"/><stop offset="0.625" stop-color="#d4141a"/><stop offset="0.661" stop-color="#de2d1a"/><stop offset="0.696" stop-color="#d4141a"/><stop offset="0.732" stop-color="#d4141a"/><stop offset="0.768" stop-color="#d4141a"/><stop offset="0.804" stop-color="#d4141a"/><stop offset="0.839" stop-color="#e6441a"/><stop offset="0.875" stop-color="#de2d1a"/><stop offset="0.911" stop-color="#d4141a"/><stop offset="0.946" stop-color="#f08e14"/><stop offset="0.982" stop-color="#e6441a"/></linearGradient><linearGradient id="gA29" x1="23.7" x2="164.2" y1="0" y2="0" gradientUnits="userSpaceOnUse"><stop offset="0.018" stop-color="#1c70bc"/><stop offset="0.054" stop-color="#2489d2"/><stop offset="0.089" stop-color="#2489d2"/><stop offset="0.125" stop-color="#3b9ad7"/><stop offset="0.161" stop-color="#61afdf"/><stop offset="0.196" stop-color="#a1ccd7"/><stop offset="0.232" stop-color="#d6da94"/><stop offset="0.268" stop-color="#ecdc57"/><stop offset="0.304" stop-color="#f7da1c"/><stop offset="0.339" stop-color="#f8c310"/><stop offset="0.375" stop-color="#f8a412"/><stop offset="0.411" stop-color="#f8a012"/><stop offset="0.446" stop-color="#f8a012"/><stop offset="0.482" stop-color="#f8a012"/><stop offset="0.518" stop-color="#f79813"/><stop offset="0.554" stop-color="#f69413"/><stop offset="0.589" stop-color="#ec561a"/><stop offset="0.625" stop-color="#d4141a"/><stop offset="0.661" stop-color="#e2371a"/><stop offset="0.696" stop-color="#d4141a"/><stop offset="0.732" stop-color="#d4141a"/><stop offset="0.768" stop-color="#d4141a"/><stop offset="0.804" stop-color="#d4141a"/><stop offset="0.839" stop-color="#ec561a"/><stop offset="0.875" stop-color="#e2371a"/><stop offset="0.911" stop-color="#d4141a"/><stop offset="0.946" stop-color="#f6b011"/><stop offset="0.982" stop-color="#ec561a"/></linearGradient><linearGradient id="gA30" x1="23.7" x2="164.2" y1="0" y2="0" gradientUnits="userSpaceOnUse"><stop offset="0.018" stop-color="#2e7cbf"/><stop offset="0.054" stop-color="#2c8ed4"/><stop offset="0.089" stop-color="#2c8ed4"/><stop offset="0.125" stop-color="#4ba2d8"/><stop offset="0.161" stop-color="#6eb6df"/><stop offset="0.196" stop-color="#afd2cc"/><stop offset="0.232" stop-color="#dedc83"/><stop offset="0.268" stop-color="#efdc48"/><stop offset="0.304" stop-color="#f8d714"/><stop offset="0.339" stop-color="#f8c010"/><stop offset="0.375" stop-color="#f8a012"/><stop offset="0.411" stop-color="#f8a012"/><stop offset="0.446" stop-color="#f8a012"/><stop offset="0.482" stop-color="#f8a012"/><stop offset="0.518" stop-color="#f8a012"/><stop offset="0.554" stop-color="#f79813"/><stop offset="0.589" stop-color="#f0601a"/><stop offset="0.625" stop-color="#d81e1a"/><stop offset="0.661" stop-color="#e6401a"/><stop offset="0.696" stop-color="#d6191a"/><stop offset="0.732" stop-color="#d81e1a"/><stop offset="0.768" stop-color="#d81e1a"/><stop offset="0.804" stop-color="#d81e1a"/><stop offset="0.839" stop-color="#f16819"/><stop offset="0.875" stop-color="#e64c19"/><stop offset="0.911" stop-color="#d82d19"/><stop offset="0.946" stop-color="#f7c418"/><stop offset="0.982" stop-color="#e76e32"/></linearGradient><linearGradient id="gA31" x1="23.7" x2="164.2" y1="0" y2="0" gradientUnits="userSpaceOnUse"><stop offset="0.018" stop-color="#5194c6"/><stop offset="0.054" stop-color="#3d98d7"/><stop offset="0.089" stop-color="#3d98d7"/><stop offset="0.125" stop-color="#66afd7"/><stop offset="0.161" stop-color="#7fbddc"/><stop offset="0.196" stop-color="#bcd4ba"/><stop offset="0.232" stop-color="#e3dc74"/><stop offset="0.268" stop-color="#f2db3a"/><stop offset="0.304" stop-color="#f8d013"/><stop offset="0.339" stop-color="#f8c010"/><stop offset="0.375" stop-color="#f8a012"/><stop offset="0.411" stop-color="#f8a012"/><stop offset="0.446" stop-color="#f8a012"/><stop offset="0.482" stop-color="#f8a012"/><stop offset="0.518" stop-color="#f8a012"/><stop offset="0.554" stop-color="#f58815"/><stop offset="0.589" stop-color="#f0601a"/><stop offset="0.625" stop-color="#de301a"/><stop offset="0.661" stop-color="#e8491a"/><stop offset="0.696" stop-color="#da231a"/><stop offset="0.732" stop-color="#de301a"/><stop offset="0.768" stop-color="#de301a"/><stop offset="0.804" stop-color="#de301a"/><stop offset="0.839" stop-color="#f37817"/><stop offset="0.875" stop-color="#eb6d16"/><stop offset="0.911" stop-color="#e15e18"/><stop offset="0.946" stop-color="#f4ca28"/><stop offset="0.982" stop-color="#d58a60"/></linearGradient><linearGradient id="gA32" x1="23.7" x2="164.2" y1="0" y2="0" gradientUnits="userSpaceOnUse"><stop offset="0.018" stop-color="#74accc"/><stop offset="0.054" stop-color="#4da3db"/><stop offset="0.089" stop-color="#4da3db"/><stop offset="0.125" stop-color="#81bcd7"/><stop offset="0.161" stop-color="#90c5da"/><stop offset="0.196" stop-color="#c9d8a6"/><stop offset="0.232" stop-color="#e7dc66"/><stop offset="0.268" stop-color="#f4db2a"/><stop offset="0.304" stop-color="#f8ca12"/><stop offset="0.339" stop-color="#f8c010"/><stop offset="0.375" stop-color="#f8a012"/><stop offset="0.411" stop-color="#f8a012"/><stop offset="0.446" stop-color="#f8a012"/><stop offset="0.482" stop-color="#f8a012"/><stop offset="0.518" stop-color="#f8a012"/><stop offset="0.554" stop-color="#f37817"/><stop offset="0.589" stop-color="#f0601a"/><stop offset="0.625" stop-color="#e6441a"/><stop offset="0.661" stop-color="#ec521a"/><stop offset="0.696" stop-color="#de2d1a"/><stop offset="0.732" stop-color="#e6441a"/><stop offset="0.768" stop-color="#e6441a"/><stop offset="0.804" stop-color="#e6441a"/><stop offset="0.839" stop-color="#f58815"/><stop offset="0.875" stop-color="#f08e14"/><stop offset="0.911" stop-color="#ea9016"/><stop offset="0.946" stop-color="#f2d238"/><stop offset="0.982" stop-color="#c4a690"/></linearGradient><linearGradient id="gA33" x1="23.7" x2="164.2" y1="0" y2="0" gradientUnits="userSpaceOnUse"><stop offset="0.018" stop-color="#97c4d3"/><stop offset="0.054" stop-color="#5eadde"/><stop offset="0.089" stop-color="#5eadde"/><stop offset="0.125" stop-color="#9ccad6"/><stop offset="0.161" stop-color="#a1ccd7"/><stop offset="0.196" stop-color="#d6da94"/><stop offset="0.232" stop-color="#ecdc57"/><stop offset="0.268" stop-color="#f7da1c"/><stop offset="0.304" stop-color="#f8c310"/><stop offset="0.339" stop-color="#f8c010"/><stop offset="0.375" stop-color="#f8a012"/><stop offset="0.411" stop-color="#f8a012"/><stop offset="0.446" stop-color="#f8a012"/><stop offset="0.482" stop-color="#f8a012"/><stop offset="0.518" stop-color="#f8a012"/><stop offset="0.554" stop-color="#f16819"/><stop offset="0.589" stop-color="#f0601a"/><stop offset="0.625" stop-color="#ec561a"/><stop offset="0.661" stop-color="#ee5c1a"/><stop offset="0.696" stop-color="#e2371a"/><stop offset="0.732" stop-color="#ec561a"/><stop offset="0.768" stop-color="#ec561a"/><stop offset="0.804" stop-color="#ec561a"/><stop offset="0.839" stop-color="#f79813"/><stop offset="0.875" stop-color="#f6b011"/><stop offset="0.911" stop-color="#f4c115"/><stop offset="0.946" stop-color="#efd848"/><stop offset="0.982" stop-color="#b2c2be"/></linearGradient><linearGradient id="gA34" x1="23.7" x2="164.2" y1="0" y2="0" gradientUnits="userSpaceOnUse"><stop offset="0.018" stop-color="#b2d2c5"/><stop offset="0.054" stop-color="#6eb6df"/><stop offset="0.089" stop-color="#6eb6df"/><stop offset="0.125" stop-color="#afd2cc"/><stop offset="0.161" stop-color="#b2d2c5"/><stop offset="0.196" stop-color="#e0dc7b"/><stop offset="0.232" stop-color="#efd848"/><stop offset="0.268" stop-color="#f8d714"/><stop offset="0.304" stop-color="#f8bc10"/><stop offset="0.339" stop-color="#f8bc10"/><stop offset="0.375" stop-color="#f8a012"/><stop offset="0.411" stop-color="#f8a012"/><stop offset="0.446" stop-color="#f8a012"/><stop offset="0.482" stop-color="#f8a012"/><stop offset="0.518" stop-color="#f8a012"/><stop offset="0.554" stop-color="#f16819"/><stop offset="0.589" stop-color="#f16819"/><stop offset="0.625" stop-color="#f16819"/><stop offset="0.661" stop-color="#f16819"/><stop offset="0.696" stop-color="#e64819"/><stop offset="0.732" stop-color="#f16819"/><stop offset="0.768" stop-color="#f16c19"/><stop offset="0.804" stop-color="#f16c19"/><stop offset="0.839" stop-color="#f8a712"/><stop offset="0.875" stop-color="#f7c418"/><stop offset="0.911" stop-color="#f4da23"/><stop offset="0.946" stop-color="#ddd762"/><stop offset="0.982" stop-color="#a9d0d6"/></linearGradient><linearGradient id="gA35" x1="23.7" x2="164.2" y1="0" y2="0" gradientUnits="userSpaceOnUse"><stop offset="0.018" stop-color="#c3d4a4"/><stop offset="0.054" stop-color="#7fbddc"/><stop offset="0.089" stop-color="#7fbddc"/><stop offset="0.125" stop-color="#bcd4ba"/><stop offset="0.161" stop-color="#c3d4a4"/><stop offset="0.196" stop-color="#e6db5e"/><stop offset="0.232" stop-color="#f2d238"/><stop offset="0.268" stop-color="#f8d012"/><stop offset="0.304" stop-color="#f8b411"/><stop offset="0.339" stop-color="#f8b411"/><stop offset="0.375" stop-color="#f8a012"/><stop offset="0.411" stop-color="#f8a012"/><stop offset="0.446" stop-color="#f8a012"/><stop offset="0.482" stop-color="#f8a012"/><stop offset="0.518" stop-color="#f8a012"/><stop offset="0.554" stop-color="#f37817"/><stop offset="0.589" stop-color="#f37817"/><stop offset="0.625" stop-color="#f37817"/><stop offset="0.661" stop-color="#f37817"/><stop offset="0.696" stop-color="#ec6217"/><stop offset="0.732" stop-color="#f37817"/><stop offset="0.768" stop-color="#f38416"/><stop offset="0.804" stop-color="#f38416"/><stop offset="0.839" stop-color="#f8b613"/><stop offset="0.875" stop-color="#f4ca28"/><stop offset="0.911" stop-color="#eedb40"/><stop offset="0.946" stop-color="#bbcc86"/><stop offset="0.982" stop-color="#a9d0d6"/></linearGradient><linearGradient id="gA36" x1="23.7" x2="164.2" y1="0" y2="0" gradientUnits="userSpaceOnUse"><stop offset="0.018" stop-color="#d4d882"/><stop offset="0.054" stop-color="#90c5da"/><stop offset="0.089" stop-color="#90c5da"/><stop offset="0.125" stop-color="#c9d8a6"/><stop offset="0.161" stop-color="#d4d882"/><stop offset="0.196" stop-color="#eedb40"/><stop offset="0.232" stop-color="#f4ca28"/><stop offset="0.268" stop-color="#f8ca12"/><stop offset="0.304" stop-color="#f8ac11"/><stop offset="0.339" stop-color="#f8ac11"/><stop offset="0.375" stop-color="#f8a012"/><stop offset="0.411" stop-color="#f8a012"/><stop offset="0.446" stop-color="#f8a012"/><stop offset="0.482" stop-color="#f8a012"/><stop offset="0.518" stop-color="#f8a012"/><stop offset="0.554" stop-color="#f58815"/><stop offset="0.589" stop-color="#f58815"/><stop offset="0.625" stop-color="#f58815"/><stop offset="0.661" stop-color="#f58815"/><stop offset="0.696" stop-color="#f07a15"/><stop offset="0.732" stop-color="#f58815"/><stop offset="0.768" stop-color="#f59c14"/><stop offset="0.804" stop-color="#f59c14"/><stop offset="0.839" stop-color="#f8c413"/><stop offset="0.875" stop-color="#f2d238"/><stop offset="0.911" stop-color="#e6db5e"/><stop offset="0.946" stop-color="#99c2aa"/><stop offset="0.982" stop-color="#a9d0d6"/></linearGradient><linearGradient id="gA37" x1="23.7" x2="164.2" y1="0" y2="0" gradientUnits="userSpaceOnUse"><stop offset="0.018" stop-color="#e5da61"/><stop offset="0.054" stop-color="#a1ccd7"/><stop offset="0.089" stop-color="#a1ccd7"/><stop offset="0.125" stop-color="#d6da94"/><stop offset="0.161" stop-color="#e5da61"/><stop offset="0.196" stop-color="#f4da23"/><stop offset="0.232" stop-color="#f7c418"/><stop offset="0.268" stop-color="#f8c310"/><stop offset="0.304" stop-color="#f8a412"/><stop offset="0.339" stop-color="#f8a412"/><stop offset="0.375" stop-color="#f8a012"/><stop offset="0.411" stop-color="#f8a012"/><stop offset="0.446" stop-color="#f8a012"/><stop offset="0.482" stop-color="#f8a012"/><stop offset="0.518" stop-color="#f8a012"/><stop offset="0.554" stop-color="#f79813"/><stop offset="0.589" stop-color="#f79813"/><stop offset="0.625" stop-color="#f79813"/><stop offset="0.661" stop-color="#f79813"/><stop offset="0.696" stop-color="#f69413"/><stop offset="0.732" stop-color="#f79813"/><stop offset="0.768" stop-color="#f7b411"/><stop offset="0.804" stop-color="#f7b411"/><stop offset="0.839" stop-color="#f8d314"/><stop offset="0.875" stop-color="#efd848"/><stop offset="0.911" stop-color="#e0dc7b"/><stop offset="0.946" stop-color="#77b7ce"/><stop offset="0.982" stop-color="#a9d0d6"/></linearGradient><linearGradient id="gA38" x1="23.7" x2="164.2" y1="0" y2="0" gradientUnits="userSpaceOnUse"><stop offset="0.018" stop-color="#efd848"/><stop offset="0.054" stop-color="#afd2cc"/><stop offset="0.089" stop-color="#afd2cc"/><stop offset="0.125" stop-color="#e0dc7b"/><stop offset="0.161" stop-color="#efdc48"/><stop offset="0.196" stop-color="#f8d714"/><stop offset="0.232" stop-color="#f8bc10"/><stop offset="0.268" stop-color="#f8bc10"/><stop offset="0.304" stop-color="#f8a012"/><stop offset="0.339" stop-color="#f8a012"/><stop offset="0.375" stop-color="#f8a012"/><stop offset="0.411" stop-color="#f8a012"/><stop offset="0.446" stop-color="#f8a412"/><stop offset="0.482" stop-color="#f8a412"/><stop offset="0.518" stop-color="#f8a412"/><stop offset="0.554" stop-color="#f8a412"/><stop offset="0.589" stop-color="#f8a712"/><stop offset="0.625" stop-color="#f8a712"/><stop offset="0.661" stop-color="#f8a712"/><stop offset="0.696" stop-color="#f7a81a"/><stop offset="0.732" stop-color="#f7a81a"/><stop offset="0.768" stop-color="#f4c41f"/><stop offset="0.804" stop-color="#f4c41f"/><stop offset="0.839" stop-color="#eed92c"/><stop offset="0.875" stop-color="#e5da61"/><stop offset="0.911" stop-color="#cdd795"/><stop offset="0.946" stop-color="#61afdf"/><stop offset="0.982" stop-color="#a1ccd7"/></linearGradient><linearGradient id="gA39" x1="23.7" x2="164.2" y1="0" y2="0" gradientUnits="userSpaceOnUse"><stop offset="0.018" stop-color="#f2d238"/><stop offset="0.054" stop-color="#bcd4ba"/><stop offset="0.089" stop-color="#bcd4ba"/><stop offset="0.125" stop-color="#e6db5e"/><stop offset="0.161" stop-color="#f2db3a"/><stop offset="0.196" stop-color="#f8d012"/><stop offset="0.232" stop-color="#f8b411"/><stop offset="0.268" stop-color="#f8b411"/><stop offset="0.304" stop-color="#f8a012"/><stop offset="0.339" stop-color="#f8a012"/><stop offset="0.375" stop-color="#f8a012"/><stop offset="0.411" stop-color="#f8a012"/><stop offset="0.446" stop-color="#f8ac11"/><stop offset="0.482" stop-color="#f8ac11"/><stop offset="0.518" stop-color="#f8ac11"/><stop offset="0.554" stop-color="#f8ac11"/><stop offset="0.589" stop-color="#f8b613"/><stop offset="0.625" stop-color="#f8b613"/><stop offset="0.661" stop-color="#f8b613"/><stop offset="0.696" stop-color="#f4b629"/><stop offset="0.732" stop-color="#f4b629"/><stop offset="0.768" stop-color="#eeca3e"/><stop offset="0.804" stop-color="#eeca3e"/><stop offset="0.839" stop-color="#dad65d"/><stop offset="0.875" stop-color="#d4d882"/><stop offset="0.911" stop-color="#b0ccaa"/><stop offset="0.946" stop-color="#57aadd"/><stop offset="0.982" stop-color="#90c5da"/></linearGradient><linearGradient id="gA40" x1="23.7" x2="164.2" y1="0" y2="0" gradientUnits="userSpaceOnUse"><stop offset="0.018" stop-color="#f4ca28"/><stop offset="0.054" stop-color="#c9d8a6"/><stop offset="0.089" stop-color="#c9d8a6"/><stop offset="0.125" stop-color="#eedb40"/><stop offset="0.161" stop-color="#f4db2a"/><stop offset="0.196" stop-color="#f8ca12"/><stop offset="0.232" stop-color="#f8ac11"/><stop offset="0.268" stop-color="#f8ac11"/><stop offset="0.304" stop-color="#f8a012"/><stop offset="0.339" stop-color="#f8a012"/><stop offset="0.375" stop-color="#f8a012"/><stop offset="0.411" stop-color="#f8a012"/><stop offset="0.446" stop-color="#f8b411"/><stop offset="0.482" stop-color="#f8b411"/><stop offset="0.518" stop-color="#f8b411"/><stop offset="0.554" stop-color="#f8b411"/><stop offset="0.589" stop-color="#f8c413"/><stop offset="0.625" stop-color="#f8c413"/><stop offset="0.661" stop-color="#f8c413"/><stop offset="0.696" stop-color="#f2c639"/><stop offset="0.732" stop-color="#f2c639"/><stop offset="0.768" stop-color="#e6d25c"/><stop offset="0.804" stop-color="#e6d25c"/><stop offset="0.839" stop-color="#c7d48d"/><stop offset="0.875" stop-color="#c3d4a4"/><stop offset="0.911" stop-color="#92c2c0"/><stop offset="0.946" stop-color="#4da4db"/><stop offset="0.982" stop-color="#7fbddc"/></linearGradient><linearGradient id="gA41" x1="23.7" x2="164.2" y1="0" y2="0" gradientUnits="userSpaceOnUse"><stop offset="0.018" stop-color="#f7c418"/><stop offset="0.054" stop-color="#d6da94"/><stop offset="0.089" stop-color="#d6da94"/><stop offset="0.125" stop-color="#f4da23"/><stop offset="0.161" stop-color="#f7da1c"/><stop offset="0.196" stop-color="#f8c310"/><stop offset="0.232" stop-color="#f8a412"/><stop offset="0.268" stop-color="#f8a412"/><stop offset="0.304" stop-color="#f8a012"/><stop offset="0.339" stop-color="#f8a012"/><stop offset="0.375" stop-color="#f8a012"/><stop offset="0.411" stop-color="#f8a012"/><stop offset="0.446" stop-color="#f8bc10"/><stop offset="0.482" stop-color="#f8bc10"/><stop offset="0.518" stop-color="#f8bc10"/><stop offset="0.554" stop-color="#f8bc10"/><stop offset="0.589" stop-color="#f8d314"/><stop offset="0.625" stop-color="#f8d314"/><stop offset="0.661" stop-color="#f8d314"/><stop offset="0.696" stop-color="#efd448"/><stop offset="0.732" stop-color="#efd448"/><stop offset="0.768" stop-color="#e0d87b"/><stop offset="0.804" stop-color="#e0d87b"/><stop offset="0.839" stop-color="#b3d1be"/><stop offset="0.875" stop-color="#b2d2c5"/><stop offset="0.911" stop-color="#75b7d5"/><stop offset="0.946" stop-color="#439fd9"/><stop offset="0.982" stop-color="#6eb6df"/></linearGradient><linearGradient id="gA42" x1="23.7" x2="164.2" y1="0" y2="0" gradientUnits="userSpaceOnUse"><stop offset="0.018" stop-color="#f7b411"/><stop offset="0.054" stop-color="#dedc83"/><stop offset="0.089" stop-color="#e0d87b"/><stop offset="0.125" stop-color="#f8d714"/><stop offset="0.161" stop-color="#f8d314"/><stop offset="0.196" stop-color="#f8bc10"/><stop offset="0.232" stop-color="#f8a012"/><stop offset="0.268" stop-color="#f8a012"/><stop offset="0.304" stop-color="#f8a012"/><stop offset="0.339" stop-color="#f8a012"/><stop offset="0.375" stop-color="#f8a412"/><stop offset="0.411" stop-color="#f8a412"/><stop offset="0.446" stop-color="#f8c010"/><stop offset="0.482" stop-color="#f8c310"/><stop offset="0.518" stop-color="#f8c310"/><stop offset="0.554" stop-color="#f7c418"/><stop offset="0.589" stop-color="#f4da23"/><stop offset="0.625" stop-color="#f4da23"/><stop offset="0.661" stop-color="#eed92c"/><stop offset="0.696" stop-color="#e5da61"/><stop offset="0.732" stop-color="#e5da61"/><stop offset="0.768" stop-color="#cdd795"/><stop offset="0.804" stop-color="#cdd795"/><stop offset="0.839" stop-color="#9ccad6"/><stop offset="0.875" stop-color="#9ccad6"/><stop offset="0.911" stop-color="#61afdf"/><stop offset="0.946" stop-color="#3b9ad7"/><stop offset="0.982" stop-color="#61afdf"/></linearGradient><linearGradient id="gA43" x1="23.7" x2="164.2" y1="0" y2="0" gradientUnits="userSpaceOnUse"><stop offset="0.018" stop-color="#f59c14"/><stop offset="0.054" stop-color="#e3dc74"/><stop offset="0.089" stop-color="#e6d25c"/><stop offset="0.125" stop-color="#f8d012"/><stop offset="0.161" stop-color="#f8c413"/><stop offset="0.196" stop-color="#f8b411"/><stop offset="0.232" stop-color="#f8a012"/><stop offset="0.268" stop-color="#f8a012"/><stop offset="0.304" stop-color="#f8a012"/><stop offset="0.339" stop-color="#f8a012"/><stop offset="0.375" stop-color="#f8ac11"/><stop offset="0.411" stop-color="#f8ac11"/><stop offset="0.446" stop-color="#f8c010"/><stop offset="0.482" stop-color="#f8ca12"/><stop offset="0.518" stop-color="#f8ca12"/><stop offset="0.554" stop-color="#f4ca28"/><stop offset="0.589" stop-color="#eedb40"/><stop offset="0.625" stop-color="#eedb40"/><stop offset="0.661" stop-color="#dad65d"/><stop offset="0.696" stop-color="#d4d882"/><stop offset="0.732" stop-color="#d4d882"/><stop offset="0.768" stop-color="#b0ccaa"/><stop offset="0.804" stop-color="#b0ccaa"/><stop offset="0.839" stop-color="#81bcd7"/><stop offset="0.875" stop-color="#81bcd7"/><stop offset="0.911" stop-color="#57aadd"/><stop offset="0.946" stop-color="#3495d6"/><stop offset="0.982" stop-color="#57aadd"/></linearGradient><linearGradient id="gA44" x1="23.7" x2="164.2" y1="0" y2="0" gradientUnits="userSpaceOnUse"><stop offset="0.018" stop-color="#f38416"/><stop offset="0.054" stop-color="#e7dc66"/><stop offset="0.089" stop-color="#eeca3e"/><stop offset="0.125" stop-color="#f8ca12"/><stop offset="0.161" stop-color="#f8b613"/><stop offset="0.196" stop-color="#f8ac11"/><stop offset="0.232" stop-color="#f8a012"/><stop offset="0.268" stop-color="#f8a012"/><stop offset="0.304" stop-color="#f8a012"/><stop offset="0.339" stop-color="#f8a012"/><stop offset="0.375" stop-color="#f8b411"/><stop offset="0.411" stop-color="#f8b411"/><stop offset="0.446" stop-color="#f8c010"/><stop offset="0.482" stop-color="#f8d012"/><stop offset="0.518" stop-color="#f8d012"/><stop offset="0.554" stop-color="#f2d238"/><stop offset="0.589" stop-color="#e6db5e"/><stop offset="0.625" stop-color="#e6db5e"/><stop offset="0.661" stop-color="#c7d48d"/><stop offset="0.696" stop-color="#c3d4a4"/><stop offset="0.732" stop-color="#c3d4a4"/><stop offset="0.768" stop-color="#92c2c0"/><stop offset="0.804" stop-color="#92c2c0"/><stop offset="0.839" stop-color="#66b0d7"/><stop offset="0.875" stop-color="#66b0d7"/><stop offset="0.911" stop-color="#4da4db"/><stop offset="0.946" stop-color="#2e90d4"/><stop offset="0.982" stop-color="#4da4db"/></linearGradient><linearGradient id="gA45" x1="23.7" x2="164.2" y1="0" y2="0" gradientUnits="userSpaceOnUse"><stop offset="0.018" stop-color="#f16c19"/><stop offset="0.054" stop-color="#ecdc57"/><stop offset="0.089" stop-color="#f4c41f"/><stop offset="0.125" stop-color="#f8c310"/><stop offset="0.161" stop-color="#f8a712"/><stop offset="0.196" stop-color="#f8a412"/><stop offset="0.232" stop-color="#f8a012"/><stop offset="0.268" stop-color="#f8a012"/><stop offset="0.304" stop-color="#f8a012"/><stop offset="0.339" stop-color="#f8a012"/><stop offset="0.375" stop-color="#f8bc10"/><stop offset="0.411" stop-color="#f8bc10"/><stop offset="0.446" stop-color="#f8c010"/><stop offset="0.482" stop-color="#f8d714"/><stop offset="0.518" stop-color="#f8d714"/><stop offset="0.554" stop-color="#efd848"/><stop offset="0.589" stop-color="#e0dc7b"/><stop offset="0.625" stop-color="#e0dc7b"/><stop offset="0.661" stop-color="#b3d1be"/><stop offset="0.696" stop-color="#b2d2c5"/><stop offset="0.732" stop-color="#b2d2c5"/><stop offset="0.768" stop-color="#75b7d5"/><stop offset="0.804" stop-color="#75b7d5"/><stop offset="0.839" stop-color="#4ba2d8"/><stop offset="0.875" stop-color="#4ba2d8"/><stop offset="0.911" stop-color="#439fd9"/><stop offset="0.946" stop-color="#278bd3"/><stop offset="0.982" stop-color="#439fd9"/></linearGradient><linearGradient id="gA46" x1="23.7" x2="164.2" y1="0" y2="0" gradientUnits="userSpaceOnUse"><stop offset="0.018" stop-color="#ec561a"/><stop offset="0.054" stop-color="#efd848"/><stop offset="0.089" stop-color="#f8bc10"/><stop offset="0.125" stop-color="#f8bc10"/><stop offset="0.161" stop-color="#f8a412"/><stop offset="0.196" stop-color="#f8a012"/><stop offset="0.232" stop-color="#f8a012"/><stop offset="0.268" stop-color="#f8a012"/><stop offset="0.304" stop-color="#f8a412"/><stop offset="0.339" stop-color="#f8a412"/><stop offset="0.375" stop-color="#f8c310"/><stop offset="0.411" stop-color="#f8c310"/><stop offset="0.446" stop-color="#f7c418"/><stop offset="0.482" stop-color="#f4da23"/><stop offset="0.518" stop-color="#f7da1c"/><stop offset="0.554" stop-color="#ecdc57"/><stop offset="0.589" stop-color="#dcdc8a"/><stop offset="0.625" stop-color="#d6da94"/><stop offset="0.661" stop-color="#a1ccd7"/><stop offset="0.696" stop-color="#a1ccd7"/><stop offset="0.732" stop-color="#9ccad6"/><stop offset="0.768" stop-color="#5eadde"/><stop offset="0.804" stop-color="#5eadde"/><stop offset="0.839" stop-color="#3b9ad7"/><stop offset="0.875" stop-color="#3b9ad7"/><stop offset="0.911" stop-color="#3b9ad7"/><stop offset="0.946" stop-color="#2489d2"/><stop offset="0.982" stop-color="#3b9ad7"/></linearGradient><linearGradient id="gA47" x1="23.7" x2="164.2" y1="0" y2="0" gradientUnits="userSpaceOnUse"><stop offset="0.018" stop-color="#e6441a"/><stop offset="0.054" stop-color="#f2d238"/><stop offset="0.089" stop-color="#f8b411"/><stop offset="0.125" stop-color="#f8b411"/><stop offset="0.161" stop-color="#f8ac11"/><stop offset="0.196" stop-color="#f8a012"/><stop offset="0.232" stop-color="#f8a012"/><stop offset="0.268" stop-color="#f8a012"/><stop offset="0.304" stop-color="#f8ac11"/><stop offset="0.339" stop-color="#f8ac11"/><stop offset="0.375" stop-color="#f8ca12"/><stop offset="0.411" stop-color="#f8ca12"/><stop offset="0.446" stop-color="#f4ca28"/><stop offset="0.482" stop-color="#eedb40"/><stop offset="0.518" stop-color="#f4db2a"/><stop offset="0.554" stop-color="#e7dc66"/><stop offset="0.589" stop-color="#dcdc8a"/><stop offset="0.625" stop-color="#c9d8a6"/><stop offset="0.661" stop-color="#90c5da"/><stop offset="0.696" stop-color="#90c5da"/><stop offset="0.732" stop-color="#81bcd7"/><stop offset="0.768" stop-color="#4da3db"/><stop offset="0.804" stop-color="#4da3db"/><stop offset="0.839" stop-color="#3495d6"/><stop offset="0.875" stop-color="#3495d6"/><stop offset="0.911" stop-color="#3495d6"/><stop offset="0.946" stop-color="#2489d2"/><stop offset="0.982" stop-color="#3495d6"/></linearGradient><linearGradient id="gA48" x1="23.7" x2="164.2" y1="0" y2="0" gradientUnits="userSpaceOnUse"><stop offset="0.018" stop-color="#de301a"/><stop offset="0.054" stop-color="#f4ca28"/><stop offset="0.089" stop-color="#f8ac11"/><stop offset="0.125" stop-color="#f8ac11"/><stop offset="0.161" stop-color="#f8b411"/><stop offset="0.196" stop-color="#f8a012"/><stop offset="0.232" stop-color="#f8a012"/><stop offset="0.268" stop-color="#f8a012"/><stop offset="0.304" stop-color="#f8b411"/><stop offset="0.339" stop-color="#f8b411"/><stop offset="0.375" stop-color="#f8d012"/><stop offset="0.411" stop-color="#f8d012"/><stop offset="0.446" stop-color="#f2d238"/><stop offset="0.482" stop-color="#e6db5e"/><stop offset="0.518" stop-color="#f2db3a"/><stop offset="0.554" stop-color="#e3dc74"/><stop offset="0.589" stop-color="#dcdc8a"/><stop offset="0.625" stop-color="#bcd4ba"/><stop offset="0.661" stop-color="#7fbddc"/><stop offset="0.696" stop-color="#7fbddc"/><stop offset="0.732" stop-color="#66b0d7"/><stop offset="0.768" stop-color="#3d98d7"/><stop offset="0.804" stop-color="#3d98d7"/><stop offset="0.839" stop-color="#2e90d4"/><stop offset="0.875" stop-color="#2e90d4"/><stop offset="0.911" stop-color="#2e90d4"/><stop offset="0.946" stop-color="#2489d2"/><stop offset="0.982" stop-color="#2e90d4"/></linearGradient><linearGradient id="gA49" x1="23.7" x2="164.2" y1="0" y2="0" gradientUnits="userSpaceOnUse"><stop offset="0.018" stop-color="#d81e1a"/><stop offset="0.054" stop-color="#f7c418"/><stop offset="0.089" stop-color="#f8a412"/><stop offset="0.125" stop-color="#f8a412"/><stop offset="0.161" stop-color="#f8bc10"/><stop offset="0.196" stop-color="#f8a012"/><stop offset="0.232" stop-color="#f8a012"/><stop offset="0.268" stop-color="#f8a012"/><stop offset="0.304" stop-color="#f8bc10"/><stop offset="0.339" stop-color="#f8bc10"/><stop offset="0.375" stop-color="#f8d714"/><stop offset="0.411" stop-color="#f8d714"/><stop offset="0.446" stop-color="#efd848"/><stop offset="0.482" stop-color="#e0dc7b"/><stop offset="0.518" stop-color="#efdc48"/><stop offset="0.554" stop-color="#dedc83"/><stop offset="0.589" stop-color="#dcdc8a"/><stop offset="0.625" stop-color="#afd2cc"/><stop offset="0.661" stop-color="#6eb6df"/><stop offset="0.696" stop-color="#6eb6df"/><stop offset="0.732" stop-color="#4ba2d8"/><stop offset="0.768" stop-color="#2c8ed4"/><stop offset="0.804" stop-color="#2c8ed4"/><stop offset="0.839" stop-color="#278bd3"/><stop offset="0.875" stop-color="#278bd3"/><stop offset="0.911" stop-color="#278bd3"/><stop offset="0.946" stop-color="#2489d2"/><stop offset="0.982" stop-color="#278bd3"/></linearGradient><linearGradient id="gA50" x1="23.7" x2="164.2" y1="0" y2="0" gradientUnits="userSpaceOnUse"><stop offset="0.018" stop-color="#d4141a"/><stop offset="0.054" stop-color="#f6b011"/><stop offset="0.089" stop-color="#f79813"/><stop offset="0.125" stop-color="#f8a012"/><stop offset="0.161" stop-color="#f8bc10"/><stop offset="0.196" stop-color="#f8a012"/><stop offset="0.232" stop-color="#f8a012"/><stop offset="0.268" stop-color="#f8a412"/><stop offset="0.304" stop-color="#f8c310"/><stop offset="0.339" stop-color="#f8c310"/><stop offset="0.375" stop-color="#f7da1b"/><stop offset="0.411" stop-color="#f5da23"/><stop offset="0.446" stop-color="#e5db61"/><stop offset="0.482" stop-color="#d6db93"/><stop offset="0.518" stop-color="#ecdc57"/><stop offset="0.554" stop-color="#d6db93"/><stop offset="0.589" stop-color="#cdd795"/><stop offset="0.625" stop-color="#9ccad6"/><stop offset="0.661" stop-color="#5eadde"/><stop offset="0.696" stop-color="#5eadde"/><stop offset="0.732" stop-color="#3b9ad7"/><stop offset="0.768" stop-color="#2489d2"/><stop offset="0.804" stop-color="#2489d2"/><stop offset="0.839" stop-color="#2489d2"/><stop offset="0.875" stop-color="#2489d2"/><stop offset="0.911" stop-color="#2489d2"/><stop offset="0.946" stop-color="#2489d2"/><stop offset="0.982" stop-color="#2489d2"/></linearGradient><linearGradient id="gA51" x1="23.7" x2="164.2" y1="0" y2="0" gradientUnits="userSpaceOnUse"><stop offset="0.018" stop-color="#d4141a"/><stop offset="0.054" stop-color="#f08e14"/><stop offset="0.089" stop-color="#f58815"/><stop offset="0.125" stop-color="#f8a012"/><stop offset="0.161" stop-color="#f8b411"/><stop offset="0.196" stop-color="#f8a012"/><stop offset="0.232" stop-color="#f8a012"/><stop offset="0.268" stop-color="#f8ac11"/><stop offset="0.304" stop-color="#f8ca12"/><stop offset="0.339" stop-color="#f8ca12"/><stop offset="0.375" stop-color="#f4db2a"/><stop offset="0.411" stop-color="#eedb40"/><stop offset="0.446" stop-color="#d4d882"/><stop offset="0.482" stop-color="#c9d8a6"/><stop offset="0.518" stop-color="#e7dc66"/><stop offset="0.554" stop-color="#c9d8a6"/><stop offset="0.589" stop-color="#b0ccaa"/><stop offset="0.625" stop-color="#81bcd7"/><stop offset="0.661" stop-color="#4da3db"/><stop offset="0.696" stop-color="#4da3db"/><stop offset="0.732" stop-color="#3495d6"/><stop offset="0.768" stop-color="#2489d2"/><stop offset="0.804" stop-color="#2489d2"/><stop offset="0.839" stop-color="#2489d2"/><stop offset="0.875" stop-color="#2489d2"/><stop offset="0.911" stop-color="#2489d2"/><stop offset="0.946" stop-color="#2489d2"/><stop offset="0.982" stop-color="#2489d2"/></linearGradient><linearGradient id="gA52" x1="23.7" x2="164.2" y1="0" y2="0" gradientUnits="userSpaceOnUse"><stop offset="0.018" stop-color="#d4141a"/><stop offset="0.054" stop-color="#eb6d16"/><stop offset="0.089" stop-color="#f37817"/><stop offset="0.125" stop-color="#f8a012"/><stop offset="0.161" stop-color="#f8ac11"/><stop offset="0.196" stop-color="#f8a012"/><stop offset="0.232" stop-color="#f8a012"/><stop offset="0.268" stop-color="#f8b411"/><stop offset="0.304" stop-color="#f8d013"/><stop offset="0.339" stop-color="#f8d013"/><stop offset="0.375" stop-color="#f2db3a"/><stop offset="0.411" stop-color="#e6db5e"/><stop offset="0.446" stop-color="#c3d4a4"/><stop offset="0.482" stop-color="#bcd4ba"/><stop offset="0.518" stop-color="#e3dc74"/><stop offset="0.554" stop-color="#bcd4ba"/><stop offset="0.589" stop-color="#92c2c0"/><stop offset="0.625" stop-color="#66afd7"/><stop offset="0.661" stop-color="#3d98d7"/><stop offset="0.696" stop-color="#3d98d7"/><stop offset="0.732" stop-color="#2e90d4"/><stop offset="0.768" stop-color="#2489d2"/><stop offset="0.804" stop-color="#2489d2"/><stop offset="0.839" stop-color="#2489d2"/><stop offset="0.875" stop-color="#2489d2"/><stop offset="0.911" stop-color="#2489d2"/><stop offset="0.946" stop-color="#2489d2"/><stop offset="0.982" stop-color="#2489d2"/></linearGradient><linearGradient id="gA53" x1="23.7" x2="164.2" y1="0" y2="0" gradientUnits="userSpaceOnUse"><stop offset="0.018" stop-color="#d4141a"/><stop offset="0.054" stop-color="#e64c19"/><stop offset="0.089" stop-color="#f16819"/><stop offset="0.125" stop-color="#f8a012"/><stop offset="0.161" stop-color="#f8a412"/><stop offset="0.196" stop-color="#f8a012"/><stop offset="0.232" stop-color="#f8a012"/><stop offset="0.268" stop-color="#f8bc10"/><stop offset="0.304" stop-color="#f8d714"/><stop offset="0.339" stop-color="#f8d714"/><stop offset="0.375" stop-color="#efdc48"/><stop offset="0.411" stop-color="#e0dc7b"/><stop offset="0.446" stop-color="#b2d2c5"/><stop offset="0.482" stop-color="#afd2cc"/><stop offset="0.518" stop-color="#dedc83"/><stop offset="0.554" stop-color="#afd2cc"/><stop offset="0.589" stop-color="#75b7d5"/><stop offset="0.625" stop-color="#4ba2d8"/><stop offset="0.661" stop-color="#2c8ed4"/><stop offset="0.696" stop-color="#2c8ed4"/><stop offset="0.732" stop-color="#278bd3"/><stop offset="0.768" stop-color="#2489d2"/><stop offset="0.804" stop-color="#2489d2"/><stop offset="0.839" stop-color="#2489d2"/><stop offset="0.875" stop-color="#2489d2"/><stop offset="0.911" stop-color="#2489d2"/><stop offset="0.946" stop-color="#2489d2"/><stop offset="0.982" stop-color="#2489d2"/></linearGradient><linearGradient id="gA54" x1="23.7" x2="164.2" y1="0" y2="0" gradientUnits="userSpaceOnUse"><stop offset="0.018" stop-color="#d4141a"/><stop offset="0.054" stop-color="#e2371a"/><stop offset="0.089" stop-color="#ec561a"/><stop offset="0.125" stop-color="#f69413"/><stop offset="0.161" stop-color="#f8a012"/><stop offset="0.196" stop-color="#f8a012"/><stop offset="0.232" stop-color="#f8a412"/><stop offset="0.268" stop-color="#f8c310"/><stop offset="0.304" stop-color="#f7da1c"/><stop offset="0.339" stop-color="#f4da23"/><stop offset="0.375" stop-color="#e5da61"/><stop offset="0.411" stop-color="#d6da94"/><stop offset="0.446" stop-color="#a1ccd7"/><stop offset="0.482" stop-color="#a1ccd7"/><stop offset="0.518" stop-color="#c8d494"/><stop offset="0.554" stop-color="#9ccad6"/><stop offset="0.589" stop-color="#5eadde"/><stop offset="0.625" stop-color="#3b9ad7"/><stop offset="0.661" stop-color="#2489d2"/><stop offset="0.696" stop-color="#2489d2"/><stop offset="0.732" stop-color="#2489d2"/><stop offset="0.768" stop-color="#2489d2"/><stop offset="0.804" stop-color="#2489d2"/><stop offset="0.839" stop-color="#2489d2"/><stop offset="0.875" stop-color="#2489d2"/><stop offset="0.911" stop-color="#2489d2"/><stop offset="0.946" stop-color="#2489d2"/><stop offset="0.982" stop-color="#2386cf"/></linearGradient><linearGradient id="gA55" x1="23.7" x2="164.2" y1="0" y2="0" gradientUnits="userSpaceOnUse"><stop offset="0.018" stop-color="#d4141a"/><stop offset="0.054" stop-color="#de2d1a"/><stop offset="0.089" stop-color="#e6441a"/><stop offset="0.125" stop-color="#f17b15"/><stop offset="0.161" stop-color="#f8a012"/><stop offset="0.196" stop-color="#f8a012"/><stop offset="0.232" stop-color="#f8ac11"/><stop offset="0.268" stop-color="#f8ca11"/><stop offset="0.304" stop-color="#f4db2a"/><stop offset="0.339" stop-color="#eedb40"/><stop offset="0.375" stop-color="#d4d882"/><stop offset="0.411" stop-color="#c9d8a6"/><stop offset="0.446" stop-color="#90c5da"/><stop offset="0.482" stop-color="#90c5da"/><stop offset="0.518" stop-color="#a1c4a7"/><stop offset="0.554" stop-color="#81bdd7"/><stop offset="0.589" stop-color="#4da3db"/><stop offset="0.625" stop-color="#3495d6"/><stop offset="0.661" stop-color="#2489d2"/><stop offset="0.696" stop-color="#2489d2"/><stop offset="0.732" stop-color="#2489d2"/><stop offset="0.768" stop-color="#2489d2"/><stop offset="0.804" stop-color="#2489d2"/><stop offset="0.839" stop-color="#2489d2"/><stop offset="0.875" stop-color="#2489d2"/><stop offset="0.911" stop-color="#2489d2"/><stop offset="0.946" stop-color="#2489d2"/><stop offset="0.982" stop-color="#2180ca"/></linearGradient><linearGradient id="gA56" x1="23.7" x2="164.2" y1="0" y2="0" gradientUnits="userSpaceOnUse"><stop offset="0.018" stop-color="#d4141a"/><stop offset="0.054" stop-color="#da231a"/><stop offset="0.089" stop-color="#de301a"/><stop offset="0.125" stop-color="#ec6217"/><stop offset="0.161" stop-color="#f8a012"/><stop offset="0.196" stop-color="#f8a012"/><stop offset="0.232" stop-color="#f8b411"/><stop offset="0.268" stop-color="#f8d012"/><stop offset="0.304" stop-color="#f2db3a"/><stop offset="0.339" stop-color="#e6db5e"/><stop offset="0.375" stop-color="#c3d4a4"/><stop offset="0.411" stop-color="#bcd4ba"/><stop offset="0.446" stop-color="#7fbddc"/><stop offset="0.482" stop-color="#7fbddc"/><stop offset="0.518" stop-color="#79b4bb"/><stop offset="0.554" stop-color="#66b0d7"/><stop offset="0.589" stop-color="#3d98d7"/><stop offset="0.625" stop-color="#2e90d4"/><stop offset="0.661" stop-color="#2489d2"/><stop offset="0.696" stop-color="#2489d2"/><stop offset="0.732" stop-color="#2489d2"/><stop offset="0.768" stop-color="#2489d2"/><stop offset="0.804" stop-color="#2489d2"/><stop offset="0.839" stop-color="#2489d2"/><stop offset="0.875" stop-color="#2489d2"/><stop offset="0.911" stop-color="#2489d2"/><stop offset="0.946" stop-color="#2489d2"/><stop offset="0.982" stop-color="#1f79c4"/></linearGradient><linearGradient id="gA57" x1="23.7" x2="164.2" y1="0" y2="0" gradientUnits="userSpaceOnUse"><stop offset="0.018" stop-color="#d4141a"/><stop offset="0.054" stop-color="#d6191a"/><stop offset="0.089" stop-color="#d71d1a"/><stop offset="0.125" stop-color="#e64819"/><stop offset="0.161" stop-color="#f8a012"/><stop offset="0.196" stop-color="#f8a012"/><stop offset="0.232" stop-color="#f8bc10"/><stop offset="0.268" stop-color="#f8d714"/><stop offset="0.304" stop-color="#efdc49"/><stop offset="0.339" stop-color="#dfdc7b"/><stop offset="0.375" stop-color="#b2d1c5"/><stop offset="0.411" stop-color="#afd1cd"/><stop offset="0.446" stop-color="#6eb6df"/><stop offset="0.482" stop-color="#6eb6df"/><stop offset="0.518" stop-color="#52a4ce"/><stop offset="0.554" stop-color="#4ba2d8"/><stop offset="0.589" stop-color="#2c8ed4"/><stop offset="0.625" stop-color="#278bd3"/><stop offset="0.661" stop-color="#2489d2"/><stop offset="0.696" stop-color="#2489d2"/><stop offset="0.732" stop-color="#2489d2"/><stop offset="0.768" stop-color="#2489d2"/><stop offset="0.804" stop-color="#2489d2"/><stop offset="0.839" stop-color="#2489d2"/><stop offset="0.875" stop-color="#2489d2"/><stop offset="0.911" stop-color="#2489d2"/><stop offset="0.946" stop-color="#2489d2"/><stop offset="0.982" stop-color="#1d73bf"/></linearGradient><linearGradient id="gA58" x1="23.7" x2="164.2" y1="0" y2="0" gradientUnits="userSpaceOnUse"><stop offset="0.018" stop-color="#d0141b"/><stop offset="0.054" stop-color="#d4141a"/><stop offset="0.089" stop-color="#d4141a"/><stop offset="0.125" stop-color="#e2371a"/><stop offset="0.161" stop-color="#f69413"/><stop offset="0.196" stop-color="#f79813"/><stop offset="0.232" stop-color="#f8bc10"/><stop offset="0.268" stop-color="#f8da14"/><stop offset="0.304" stop-color="#eedc50"/><stop offset="0.339" stop-color="#d6da94"/><stop offset="0.375" stop-color="#a1ccd7"/><stop offset="0.411" stop-color="#9ccad6"/><stop offset="0.446" stop-color="#5eadde"/><stop offset="0.482" stop-color="#5eadde"/><stop offset="0.518" stop-color="#3b9ad7"/><stop offset="0.554" stop-color="#3b9ad7"/><stop offset="0.589" stop-color="#2489d2"/><stop offset="0.625" stop-color="#2386cf"/><stop offset="0.661" stop-color="#2386cf"/><stop offset="0.696" stop-color="#2386cf"/><stop offset="0.732" stop-color="#2386cf"/><stop offset="0.768" stop-color="#2386cf"/><stop offset="0.804" stop-color="#2383cd"/><stop offset="0.839" stop-color="#2383cd"/><stop offset="0.875" stop-color="#2383cd"/><stop offset="0.911" stop-color="#2383cd"/><stop offset="0.946" stop-color="#2383cd"/><stop offset="0.982" stop-color="#1c6dba"/></linearGradient><linearGradient id="gA59" x1="23.7" x2="164.2" y1="0" y2="0" gradientUnits="userSpaceOnUse"><stop offset="0.018" stop-color="#c8121c"/><stop offset="0.054" stop-color="#d4141a"/><stop offset="0.089" stop-color="#d4141a"/><stop offset="0.125" stop-color="#de2d1a"/><stop offset="0.161" stop-color="#f07a15"/><stop offset="0.196" stop-color="#f58815"/><stop offset="0.232" stop-color="#f8b411"/><stop offset="0.268" stop-color="#f8da14"/><stop offset="0.304" stop-color="#eedc50"/><stop offset="0.339" stop-color="#c9d8a6"/><stop offset="0.375" stop-color="#90c5da"/><stop offset="0.411" stop-color="#81bcd7"/><stop offset="0.446" stop-color="#4da3db"/><stop offset="0.482" stop-color="#4da3db"/><stop offset="0.518" stop-color="#3495d6"/><stop offset="0.554" stop-color="#3495d6"/><stop offset="0.589" stop-color="#2489d2"/><stop offset="0.625" stop-color="#2180ca"/><stop offset="0.661" stop-color="#2180ca"/><stop offset="0.696" stop-color="#2180ca"/><stop offset="0.732" stop-color="#2180ca"/><stop offset="0.768" stop-color="#2180ca"/><stop offset="0.804" stop-color="#2177c2"/><stop offset="0.839" stop-color="#2177c2"/><stop offset="0.875" stop-color="#2177c2"/><stop offset="0.911" stop-color="#2177c2"/><stop offset="0.946" stop-color="#2177c2"/><stop offset="0.982" stop-color="#1c68b4"/></linearGradient><linearGradient id="gA60" x1="23.7" x2="164.2" y1="0" y2="0" gradientUnits="userSpaceOnUse"><stop offset="0.018" stop-color="#c1121e"/><stop offset="0.054" stop-color="#d4141a"/><stop offset="0.089" stop-color="#d4141a"/><stop offset="0.125" stop-color="#da231a"/><stop offset="0.161" stop-color="#ec6217"/><stop offset="0.196" stop-color="#f37817"/><stop offset="0.232" stop-color="#f8ac11"/><stop offset="0.268" stop-color="#f8da14"/><stop offset="0.304" stop-color="#eedc50"/><stop offset="0.339" stop-color="#bcd5b9"/><stop offset="0.375" stop-color="#7fbddc"/><stop offset="0.411" stop-color="#66b0d7"/><stop offset="0.446" stop-color="#3d98d7"/><stop offset="0.482" stop-color="#3d98d7"/><stop offset="0.518" stop-color="#2e90d4"/><stop offset="0.554" stop-color="#2e90d4"/><stop offset="0.589" stop-color="#2489d2"/><stop offset="0.625" stop-color="#1f79c4"/><stop offset="0.661" stop-color="#1f79c4"/><stop offset="0.696" stop-color="#1f79c4"/><stop offset="0.732" stop-color="#1f79c4"/><stop offset="0.768" stop-color="#1f79c4"/><stop offset="0.804" stop-color="#1e6cb8"/><stop offset="0.839" stop-color="#1e6cb8"/><stop offset="0.875" stop-color="#1e6cb8"/><stop offset="0.911" stop-color="#1e6cb8"/><stop offset="0.946" stop-color="#1e6cb8"/><stop offset="0.982" stop-color="#1b62b0"/></linearGradient><linearGradient id="gA61" x1="23.7" x2="164.2" y1="0" y2="0" gradientUnits="userSpaceOnUse"><stop offset="0.018" stop-color="#b9101f"/><stop offset="0.054" stop-color="#d4141a"/><stop offset="0.089" stop-color="#d4141a"/><stop offset="0.125" stop-color="#d6191a"/><stop offset="0.161" stop-color="#e64819"/><stop offset="0.196" stop-color="#f16819"/><stop offset="0.232" stop-color="#f8a412"/><stop offset="0.268" stop-color="#f8da14"/><stop offset="0.304" stop-color="#eedc50"/><stop offset="0.339" stop-color="#afd2cc"/><stop offset="0.375" stop-color="#6eb6df"/><stop offset="0.411" stop-color="#4ba2d8"/><stop offset="0.446" stop-color="#2c8ed4"/><stop offset="0.482" stop-color="#2c8ed4"/><stop offset="0.518" stop-color="#278bd3"/><stop offset="0.554" stop-color="#278bd3"/><stop offset="0.589" stop-color="#2489d2"/><stop offset="0.625" stop-color="#1d73bf"/><stop offset="0.661" stop-color="#1d73bf"/><stop offset="0.696" stop-color="#1d73bf"/><stop offset="0.732" stop-color="#1d73bf"/><stop offset="0.768" stop-color="#1d73bf"/><stop offset="0.804" stop-color="#1c60ad"/><stop offset="0.839" stop-color="#1c60ad"/><stop offset="0.875" stop-color="#1c60ad"/><stop offset="0.911" stop-color="#1c60ad"/><stop offset="0.946" stop-color="#1c60ad"/><stop offset="0.982" stop-color="#1b5daa"/></linearGradient><linearGradient id="gA62" x1="23.7" x2="164.2" y1="0" y2="0" gradientUnits="userSpaceOnUse"><stop offset="0.018" stop-color="#b51020"/><stop offset="0.054" stop-color="#d4141a"/><stop offset="0.089" stop-color="#d4141a"/><stop offset="0.125" stop-color="#d4141a"/><stop offset="0.161" stop-color="#e43c1a"/><stop offset="0.196" stop-color="#f0601a"/><stop offset="0.232" stop-color="#f8a012"/><stop offset="0.268" stop-color="#f8da14"/><stop offset="0.304" stop-color="#eedc50"/><stop offset="0.339" stop-color="#a9d0d6"/><stop offset="0.375" stop-color="#66b2e0"/><stop offset="0.411" stop-color="#3e9cd8"/><stop offset="0.446" stop-color="#2489d2"/><stop offset="0.482" stop-color="#2489d2"/><stop offset="0.518" stop-color="#2489d2"/><stop offset="0.554" stop-color="#2489d2"/><stop offset="0.589" stop-color="#2489d2"/><stop offset="0.625" stop-color="#1c70bc"/><stop offset="0.661" stop-color="#1c70bc"/><stop offset="0.696" stop-color="#1c70bc"/><stop offset="0.732" stop-color="#1c70bc"/><stop offset="0.768" stop-color="#1c70bc"/><stop offset="0.804" stop-color="#1b5aa8"/><stop offset="0.839" stop-color="#1b5aa8"/><stop offset="0.875" stop-color="#1b5aa8"/><stop offset="0.911" stop-color="#1b5aa8"/><stop offset="0.946" stop-color="#1b5aa8"/><stop offset="0.982" stop-color="#1b5aa8"/></linearGradient><linearGradient id="gA63" x1="23.7" x2="164.2" y1="0" y2="0" gradientUnits="userSpaceOnUse"><stop offset="0.018" stop-color="#b51020"/><stop offset="0.054" stop-color="#d4141a"/><stop offset="0.089" stop-color="#d4141a"/><stop offset="0.125" stop-color="#d4141a"/><stop offset="0.161" stop-color="#e43c1a"/><stop offset="0.196" stop-color="#f0601a"/><stop offset="0.232" stop-color="#f8a012"/><stop offset="0.268" stop-color="#f8da14"/><stop offset="0.304" stop-color="#eedc50"/><stop offset="0.339" stop-color="#a9d0d6"/><stop offset="0.375" stop-color="#66b2e0"/><stop offset="0.411" stop-color="#3e9cd8"/><stop offset="0.446" stop-color="#2489d2"/><stop offset="0.482" stop-color="#2489d2"/><stop offset="0.518" stop-color="#2489d2"/><stop offset="0.554" stop-color="#2489d2"/><stop offset="0.589" stop-color="#2489d2"/><stop offset="0.625" stop-color="#1c70bc"/><stop offset="0.661" stop-color="#1c70bc"/><stop offset="0.696" stop-color="#1c70bc"/><stop offset="0.732" stop-color="#1c70bc"/><stop offset="0.768" stop-color="#1c70bc"/><stop offset="0.804" stop-color="#1b5aa8"/><stop offset="0.839" stop-color="#1b5aa8"/><stop offset="0.875" stop-color="#1b5aa8"/><stop offset="0.911" stop-color="#1b5aa8"/><stop offset="0.946" stop-color="#1b5aa8"/><stop offset="0.982" stop-color="#1b5aa8"/></linearGradient><filter id="blurA" x="3.6999999999999993" y="10.3" width="180.5" height="206.7" filterUnits="userSpaceOnUse"><feGaussianBlur stdDeviation="1 1"/></filter></defs>
<clipPath id="cA"><rect x="23.7" y="30.3" width="140.5" height="166.7"/></clipPath>
<g clip-path="url(#cA)"><g filter="url(#blurA)">
<rect x="17.7" y="24.30" width="152.5" height="9.10" fill="url(#gA0)"/>
<rect x="17.7" y="32.90" width="152.5" height="3.10" fill="url(#gA1)"/>
<rect x="17.7" y="35.51" width="152.5" height="3.10" fill="url(#gA2)"/>
<rect x="17.7" y="38.11" width="152.5" height="3.10" fill="url(#gA3)"/>
<rect x="17.7" y="40.72" width="152.5" height="3.10" fill="url(#gA4)"/>
<rect x="17.7" y="43.32" width="152.5" height="3.10" fill="url(#gA5)"/>
<rect x="17.7" y="45.93" width="152.5" height="3.10" fill="url(#gA6)"/>
<rect x="17.7" y="48.53" width="152.5" height="3.10" fill="url(#gA7)"/>
<rect x="17.7" y="51.14" width="152.5" height="3.10" fill="url(#gA8)"/>
<rect x="17.7" y="53.74" width="152.5" height="3.10" fill="url(#gA9)"/>
<rect x="17.7" y="56.35" width="152.5" height="3.10" fill="url(#gA10)"/>
<rect x="17.7" y="58.95" width="152.5" height="3.10" fill="url(#gA11)"/>
<rect x="17.7" y="61.56" width="152.5" height="3.10" fill="url(#gA12)"/>
<rect x="17.7" y="64.16" width="152.5" height="3.10" fill="url(#gA13)"/>
<rect x="17.7" y="66.77" width="152.5" height="3.10" fill="url(#gA14)"/>
<rect x="17.7" y="69.37" width="152.5" height="3.10" fill="url(#gA15)"/>
<rect x="17.7" y="71.97" width="152.5" height="3.10" fill="url(#gA16)"/>
<rect x="17.7" y="74.58" width="152.5" height="3.10" fill="url(#gA17)"/>
<rect x="17.7" y="77.18" width="152.5" height="3.10" fill="url(#gA18)"/>
<rect x="17.7" y="79.79" width="152.5" height="3.10" fill="url(#gA19)"/>
<rect x="17.7" y="82.39" width="152.5" height="3.10" fill="url(#gA20)"/>
<rect x="17.7" y="85.00" width="152.5" height="3.10" fill="url(#gA21)"/>
<rect x="17.7" y="87.60" width="152.5" height="3.10" fill="url(#gA22)"/>
<rect x="17.7" y="90.21" width="152.5" height="3.10" fill="url(#gA23)"/>
<rect x="17.7" y="92.81" width="152.5" height="3.10" fill="url(#gA24)"/>
<rect x="17.7" y="95.42" width="152.5" height="3.10" fill="url(#gA25)"/>
<rect x="17.7" y="98.02" width="152.5" height="3.10" fill="url(#gA26)"/>
<rect x="17.7" y="100.63" width="152.5" height="3.10" fill="url(#gA27)"/>
<rect x="17.7" y="103.23" width="152.5" height="3.10" fill="url(#gA28)"/>
<rect x="17.7" y="105.84" width="152.5" height="3.10" fill="url(#gA29)"/>
<rect x="17.7" y="108.44" width="152.5" height="3.10" fill="url(#gA30)"/>
<rect x="17.7" y="111.05" width="152.5" height="3.10" fill="url(#gA31)"/>
<rect x="17.7" y="113.65" width="152.5" height="3.10" fill="url(#gA32)"/>
<rect x="17.7" y="116.25" width="152.5" height="3.10" fill="url(#gA33)"/>
<rect x="17.7" y="118.86" width="152.5" height="3.10" fill="url(#gA34)"/>
<rect x="17.7" y="121.46" width="152.5" height="3.10" fill="url(#gA35)"/>
<rect x="17.7" y="124.07" width="152.5" height="3.10" fill="url(#gA36)"/>
<rect x="17.7" y="126.67" width="152.5" height="3.10" fill="url(#gA37)"/>
<rect x="17.7" y="129.28" width="152.5" height="3.10" fill="url(#gA38)"/>
<rect x="17.7" y="131.88" width="152.5" height="3.10" fill="url(#gA39)"/>
<rect x="17.7" y="134.49" width="152.5" height="3.10" fill="url(#gA40)"/>
<rect x="17.7" y="137.09" width="152.5" height="3.10" fill="url(#gA41)"/>
<rect x="17.7" y="139.70" width="152.5" height="3.10" fill="url(#gA42)"/>
<rect x="17.7" y="142.30" width="152.5" height="3.10" fill="url(#gA43)"/>
<rect x="17.7" y="144.91" width="152.5" height="3.10" fill="url(#gA44)"/>
<rect x="17.7" y="147.51" width="152.5" height="3.10" fill="url(#gA45)"/>
<rect x="17.7" y="150.12" width="152.5" height="3.10" fill="url(#gA46)"/>
<rect x="17.7" y="152.72" width="152.5" height="3.10" fill="url(#gA47)"/>
<rect x="17.7" y="155.32" width="152.5" height="3.10" fill="url(#gA48)"/>
<rect x="17.7" y="157.93" width="152.5" height="3.10" fill="url(#gA49)"/>
<rect x="17.7" y="160.53" width="152.5" height="3.10" fill="url(#gA50)"/>
<rect x="17.7" y="163.14" width="152.5" height="3.10" fill="url(#gA51)"/>
<rect x="17.7" y="165.74" width="152.5" height="3.10" fill="url(#gA52)"/>
<rect x="17.7" y="168.35" width="152.5" height="3.10" fill="url(#gA53)"/>
<rect x="17.7" y="170.95" width="152.5" height="3.10" fill="url(#gA54)"/>
<rect x="17.7" y="173.56" width="152.5" height="3.10" fill="url(#gA55)"/>
<rect x="17.7" y="176.16" width="152.5" height="3.10" fill="url(#gA56)"/>
<rect x="17.7" y="178.77" width="152.5" height="3.10" fill="url(#gA57)"/>
<rect x="17.7" y="181.37" width="152.5" height="3.10" fill="url(#gA58)"/>
<rect x="17.7" y="183.98" width="152.5" height="3.10" fill="url(#gA59)"/>
<rect x="17.7" y="186.58" width="152.5" height="3.10" fill="url(#gA60)"/>
<rect x="17.7" y="189.19" width="152.5" height="3.10" fill="url(#gA61)"/>
<rect x="17.7" y="191.79" width="152.5" height="3.10" fill="url(#gA62)"/>
<rect x="17.7" y="194.40" width="152.5" height="9.10" fill="url(#gA63)"/>
</g>
<linearGradient id="vA" x1="0" y1="105" x2="0" y2="153" gradientUnits="userSpaceOnUse"><stop offset="0" stop-color="#2489d2"/><stop offset="0.45" stop-color="#2e90d4"/><stop offset="0.7" stop-color="#66b2e0"/><stop offset="0.88" stop-color="#a9d0d6"/><stop offset="1" stop-color="#e8dc70"/></linearGradient><filter id="fv"><feGaussianBlur stdDeviation="0.8"/></filter><polygon points="25,104 34,104 30.2,153 29,153" fill="url(#vA)" filter="url(#fv)"/>
</g>
<defs><linearGradient id="gB0" x1="222.0" x2="371.0" y1="0" y2="0" gradientUnits="userSpaceOnUse"><stop offset="0.033" stop-color="#2489d2"/><stop offset="0.100" stop-color="#2489d2"/><stop offset="0.167" stop-color="#2489d2"/><stop offset="0.233" stop-color="#2489d2"/><stop offset="0.300" stop-color="#2489d2"/><stop offset="0.367" stop-color="#2489d2"/><stop offset="0.433" stop-color="#2489d2"/><stop offset="0.500" stop-color="#2489d2"/><stop offset="0.567" stop-color="#2489d2"/><stop offset="0.633" stop-color="#2489d2"/><stop offset="0.700" stop-color="#2489d2"/><stop offset="0.767" stop-color="#2489d2"/><stop offset="0.833" stop-color="#2489d2"/><stop offset="0.900" stop-color="#2489d2"/><stop offset="0.967" stop-color="#2489d2"/></linearGradient><linearGradient id="gB1" x1="222.0" x2="371.0" y1="0" y2="0" gradientUnits="userSpaceOnUse"><stop offset="0.033" stop-color="#2489d2"/><stop offset="0.100" stop-color="#2489d2"/><stop offset="0.167" stop-color="#2489d2"/><stop offset="0.233" stop-color="#2489d2"/><stop offset="0.300" stop-color="#2489d2"/><stop offset="0.367" stop-color="#2489d2"/><stop offset="0.433" stop-color="#2489d2"/><stop offset="0.500" stop-color="#2489d2"/><stop offset="0.567" stop-color="#2489d2"/><stop offset="0.633" stop-color="#2489d2"/><stop offset="0.700" stop-color="#2489d2"/><stop offset="0.767" stop-color="#2489d2"/><stop offset="0.833" stop-color="#2489d2"/><stop offset="0.900" stop-color="#2489d2"/><stop offset="0.967" stop-color="#2489d2"/></linearGradient><linearGradient id="gB2" x1="222.0" x2="371.0" y1="0" y2="0" gradientUnits="userSpaceOnUse"><stop offset="0.033" stop-color="#3b93c9"/><stop offset="0.100" stop-color="#3b93c9"/><stop offset="0.167" stop-color="#3b93c9"/><stop offset="0.233" stop-color="#3b93c9"/><stop offset="0.300" stop-color="#3592d2"/><stop offset="0.367" stop-color="#2c8ed4"/><stop offset="0.433" stop-color="#2c8ed4"/><stop offset="0.500" stop-color="#2c8ed4"/><stop offset="0.567" stop-color="#2489d2"/><stop offset="0.633" stop-color="#2489d2"/><stop offset="0.700" stop-color="#2489d2"/><stop offset="0.767" stop-color="#2489d2"/><stop offset="0.833" stop-color="#2489d2"/><stop offset="0.900" stop-color="#2489d2"/><stop offset="0.967" stop-color="#2489d2"/></linearGradient><linearGradient id="gB3" x1="222.0" x2="371.0" y1="0" y2="0" gradientUnits="userSpaceOnUse"><stop offset="0.033" stop-color="#69a8b7"/><stop offset="0.100" stop-color="#69a8b7"/><stop offset="0.167" stop-color="#69a8b7"/><stop offset="0.233" stop-color="#69a8b7"/><stop offset="0.300" stop-color="#56a4d4"/><stop offset="0.367" stop-color="#3d98d7"/><stop offset="0.433" stop-color="#3d98d7"/><stop offset="0.500" stop-color="#3d98d7"/><stop offset="0.567" stop-color="#2489d2"/><stop offset="0.633" stop-color="#2489d2"/><stop offset="0.700" stop-color="#2489d2"/><stop offset="0.767" stop-color="#2489d2"/><stop offset="0.833" stop-color="#2489d2"/><stop offset="0.900" stop-color="#2489d2"/><stop offset="0.967" stop-color="#2489d2"/></linearGradient><linearGradient id="gB4" x1="222.0" x2="371.0" y1="0" y2="0" gradientUnits="userSpaceOnUse"><stop offset="0.033" stop-color="#97bda5"/><stop offset="0.100" stop-color="#97bda5"/><stop offset="0.167" stop-color="#97bda5"/><stop offset="0.233" stop-color="#97bda5"/><stop offset="0.300" stop-color="#77b5d4"/><stop offset="0.367" stop-color="#4da3db"/><stop offset="0.433" stop-color="#4da3db"/><stop offset="0.500" stop-color="#4da3db"/><stop offset="0.567" stop-color="#2489d2"/><stop offset="0.633" stop-color="#2489d2"/><stop offset="0.700" stop-color="#2489d2"/><stop offset="0.767" stop-color="#2489d2"/><stop offset="0.833" stop-color="#2489d2"/><stop offset="0.900" stop-color="#2489d2"/><stop offset="0.967" stop-color="#2489d2"/></linearGradient><linearGradient id="gB5" x1="222.0" x2="371.0" y1="0" y2="0" gradientUnits="userSpaceOnUse"><stop offset="0.033" stop-color="#c5d293"/><stop offset="0.100" stop-color="#c5d293"/><stop offset="0.167" stop-color="#c5d293"/><stop offset="0.233" stop-color="#c5d293"/><stop offset="0.300" stop-color="#98c7d6"/><stop offset="0.367" stop-color="#5eadde"/><stop offset="0.433" stop-color="#5eadde"/><stop offset="0.500" stop-color="#5eadde"/><stop offset="0.567" stop-color="#2489d2"/><stop offset="0.633" stop-color="#2489d2"/><stop offset="0.700" stop-color="#2489d2"/><stop offset="0.767" stop-color="#2489d2"/><stop offset="0.833" stop-color="#2489d2"/><stop offset="0.900" stop-color="#2489d2"/><stop offset="0.967" stop-color="#2489d2"/></linearGradient><linearGradient id="gB6" x1="222.0" x2="371.0" y1="0" y2="0" gradientUnits="userSpaceOnUse"><stop offset="0.033" stop-color="#d6da94"/><stop offset="0.100" stop-color="#d6da94"/><stop offset="0.167" stop-color="#d6da94"/><stop offset="0.233" stop-color="#d6da94"/><stop offset="0.300" stop-color="#a1ccd7"/><stop offset="0.367" stop-color="#66b2e0"/><stop offset="0.433" stop-color="#66b2e0"/><stop offset="0.500" stop-color="#61afdf"/><stop offset="0.567" stop-color="#2489d2"/><stop offset="0.633" stop-color="#2489d2"/><stop offset="0.700" stop-color="#2489d2"/><stop offset="0.767" stop-color="#2489d2"/><stop offset="0.833" stop-color="#2489d2"/><stop offset="0.900" stop-color="#2489d2"/><stop offset="0.967" stop-color="#2489d2"/></linearGradient><linearGradient id="gB7" x1="222.0" x2="371.0" y1="0" y2="0" gradientUnits="userSpaceOnUse"><stop offset="0.033" stop-color="#c9d8a6"/><stop offset="0.100" stop-color="#c9d8a6"/><stop offset="0.167" stop-color="#c9d8a6"/><stop offset="0.233" stop-color="#c9d8a6"/><stop offset="0.300" stop-color="#90c5da"/><stop offset="0.367" stop-color="#66b2e0"/><stop offset="0.433" stop-color="#66b2e0"/><stop offset="0.500" stop-color="#57aadd"/><stop offset="0.567" stop-color="#2489d2"/><stop offset="0.633" stop-color="#2489d2"/><stop offset="0.700" stop-color="#2489d2"/><stop offset="0.767" stop-color="#2489d2"/><stop offset="0.833" stop-color="#2489d2"/><stop offset="0.900" stop-color="#2489d2"/><stop offset="0.967" stop-color="#2489d2"/></linearGradient><linearGradient id="gB8" x1="222.0" x2="371.0" y1="0" y2="0" gradientUnits="userSpaceOnUse"><stop offset="0.033" stop-color="#bcd4ba"/><stop offset="0.100" stop-color="#bcd4ba"/><stop offset="0.167" stop-color="#bcd4ba"/><stop offset="0.233" stop-color="#bcd4ba"/><stop offset="0.300" stop-color="#7fbddc"/><stop offset="0.367" stop-color="#66b2e0"/><stop offset="0.433" stop-color="#66b2e0"/><stop offset="0.500" stop-color="#4da4db"/><stop offset="0.567" stop-color="#2489d2"/><stop offset="0.633" stop-color="#2489d2"/><stop offset="0.700" stop-color="#2489d2"/><stop offset="0.767" stop-color="#2489d2"/><stop offset="0.833" stop-color="#2489d2"/><stop offset="0.900" stop-color="#2489d2"/><stop offset="0.967" stop-color="#2489d2"/></linearGradient><linearGradient id="gB9" x1="222.0" x2="371.0" y1="0" y2="0" gradientUnits="userSpaceOnUse"><stop offset="0.033" stop-color="#afd2cc"/><stop offset="0.100" stop-color="#afd2cc"/><stop offset="0.167" stop-color="#afd2cc"/><stop offset="0.233" stop-color="#afd2cc"/><stop offset="0.300" stop-color="#6eb6df"/><stop offset="0.367" stop-color="#66b2e0"/><stop offset="0.433" stop-color="#66b2e0"/><stop offset="0.500" stop-color="#439fd9"/><stop offset="0.567" stop-color="#2489d2"/><stop offset="0.633" stop-color="#2489d2"/><stop offset="0.700" stop-color="#2489d2"/><stop offset="0.767" stop-color="#2489d2"/><stop offset="0.833" stop-color="#2489d2"/><stop offset="0.900" stop-color="#2489d2"/><stop offset="0.967" stop-color="#2489d2"/></linearGradient><linearGradient id="gB10" x1="222.0" x2="371.0" y1="0" y2="0" gradientUnits="userSpaceOnUse"><stop offset="0.033" stop-color="#b3d1be"/><stop offset="0.100" stop-color="#b3d1be"/><stop offset="0.167" stop-color="#b3d1be"/><stop offset="0.233" stop-color="#b3d1be"/><stop offset="0.300" stop-color="#75b7d5"/><stop offset="0.367" stop-color="#75b7d5"/><stop offset="0.433" stop-color="#75b7d5"/><stop offset="0.500" stop-color="#54a4c7"/><stop offset="0.567" stop-color="#3592d2"/><stop offset="0.633" stop-color="#2c8ed4"/><stop offset="0.700" stop-color="#278bd3"/><stop offset="0.767" stop-color="#2489d2"/><stop offset="0.833" stop-color="#2489d2"/><stop offset="0.900" stop-color="#2489d2"/><stop offset="0.967" stop-color="#2489d2"/></linearGradient><linearGradient id="gB11" x1="222.0" x2="371.0" y1="0" y2="0" gradientUnits="userSpaceOnUse"><stop offset="0.033" stop-color="#c7d48d"/><stop offset="0.100" stop-color="#c7d48d"/><stop offset="0.167" stop-color="#c7d48d"/><stop offset="0.233" stop-color="#c7d48d"/><stop offset="0.300" stop-color="#92c2c0"/><stop offset="0.367" stop-color="#92c2c0"/><stop offset="0.433" stop-color="#92c2c0"/><stop offset="0.500" stop-color="#80b4a5"/><stop offset="0.567" stop-color="#56a4d4"/><stop offset="0.633" stop-color="#3d98d7"/><stop offset="0.700" stop-color="#2e90d4"/><stop offset="0.767" stop-color="#2489d2"/><stop offset="0.833" stop-color="#2489d2"/><stop offset="0.900" stop-color="#2489d2"/><stop offset="0.967" stop-color="#2489d2"/></linearGradient><linearGradient id="gB12" x1="222.0" x2="371.0" y1="0" y2="0" gradientUnits="userSpaceOnUse"><stop offset="0.033" stop-color="#dad65d"/><stop offset="0.100" stop-color="#dad65d"/><stop offset="0.167" stop-color="#dad65d"/><stop offset="0.233" stop-color="#dad65d"/><stop offset="0.300" stop-color="#b0ccaa"/><stop offset="0.367" stop-color="#b0ccaa"/><stop offset="0.433" stop-color="#b0ccaa"/><stop offset="0.500" stop-color="#acc483"/><stop offset="0.567" stop-color="#77b5d4"/><stop offset="0.633" stop-color="#4da3db"/><stop offset="0.700" stop-color="#3495d6"/><stop offset="0.767" stop-color="#2489d2"/><stop offset="0.833" stop-color="#2489d2"/><stop offset="0.900" stop-color="#2489d2"/><stop offset="0.967" stop-color="#2489d2"/></linearGradient><linearGradient id="gB13" x1="222.0" x2="371.0" y1="0" y2="0" gradientUnits="userSpaceOnUse"><stop offset="0.033" stop-color="#eed92c"/><stop offset="0.100" stop-color="#eed92c"/><stop offset="0.167" stop-color="#eed92c"/><stop offset="0.233" stop-color="#eed92c"/><stop offset="0.300" stop-color="#cdd795"/><stop offset="0.367" stop-color="#cdd795"/><stop offset="0.433" stop-color="#cdd795"/><stop offset="0.500" stop-color="#d8d461"/><stop offset="0.567" stop-color="#98c7d6"/><stop offset="0.633" stop-color="#5eadde"/><stop offset="0.700" stop-color="#3b9ad7"/><stop offset="0.767" stop-color="#2489d2"/><stop offset="0.833" stop-color="#2489d2"/><stop offset="0.900" stop-color="#2489d2"/><stop offset="0.967" stop-color="#2489d2"/></linearGradient><linearGradient id="gB14" x1="222.0" x2="371.0" y1="0" y2="0" gradientUnits="userSpaceOnUse"><stop offset="0.033" stop-color="#f8d714"/><stop offset="0.100" stop-color="#f8da14"/><stop offset="0.167" stop-color="#f8da14"/><stop offset="0.233" stop-color="#f8da14"/><stop offset="0.300" stop-color="#dfdc7b"/><stop offset="0.367" stop-color="#dfdc7b"/><stop offset="0.433" stop-color="#dfdc7b"/><stop offset="0.500" stop-color="#efdc49"/><stop offset="0.567" stop-color="#afd2cd"/><stop offset="0.633" stop-color="#6eb6df"/><stop offset="0.700" stop-color="#439fd9"/><stop offset="0.767" stop-color="#278bd3"/><stop offset="0.833" stop-color="#2489d2"/><stop offset="0.900" stop-color="#2489d2"/><stop offset="0.967" stop-color="#2489d2"/></linearGradient><linearGradient id="gB15" x1="222.0" x2="371.0" y1="0" y2="0" gradientUnits="userSpaceOnUse"><stop offset="0.033" stop-color="#f8d012"/><stop offset="0.100" stop-color="#f8da14"/><stop offset="0.167" stop-color="#f8da14"/><stop offset="0.233" stop-color="#f8da14"/><stop offset="0.300" stop-color="#e6db5e"/><stop offset="0.367" stop-color="#e6db5e"/><stop offset="0.433" stop-color="#e6db5e"/><stop offset="0.500" stop-color="#f2db3a"/><stop offset="0.567" stop-color="#bcd4ba"/><stop offset="0.633" stop-color="#7fbddc"/><stop offset="0.700" stop-color="#4da4db"/><stop offset="0.767" stop-color="#2e90d4"/><stop offset="0.833" stop-color="#2489d2"/><stop offset="0.900" stop-color="#2489d2"/><stop offset="0.967" stop-color="#2489d2"/></linearGradient><linearGradient id="gB16" x1="222.0" x2="371.0" y1="0" y2="0" gradientUnits="userSpaceOnUse"><stop offset="0.033" stop-color="#f8ca12"/><stop offset="0.100" stop-color="#f8da14"/><stop offset="0.167" stop-color="#f8da14"/><stop offset="0.233" stop-color="#f8da14"/><stop offset="0.300" stop-color="#eedb40"/><stop offset="0.367" stop-color="#eedb40"/><stop offset="0.433" stop-color="#eedb40"/><stop offset="0.500" stop-color="#f4db2a"/><stop offset="0.567" stop-color="#c9d8a6"/><stop offset="0.633" stop-color="#90c5da"/><stop offset="0.700" stop-color="#57aadd"/><stop offset="0.767" stop-color="#3495d6"/><stop offset="0.833" stop-color="#2489d2"/><stop offset="0.900" stop-color="#2489d2"/><stop offset="0.967" stop-color="#2489d2"/></linearGradient><linearGradient id="gB17" x1="222.0" x2="371.0" y1="0" y2="0" gradientUnits="userSpaceOnUse"><stop offset="0.033" stop-color="#f8c310"/><stop offset="0.100" stop-color="#f8da14"/><stop offset="0.167" stop-color="#f8da14"/><stop offset="0.233" stop-color="#f8da14"/><stop offset="0.300" stop-color="#f4da23"/><stop offset="0.367" stop-color="#f4da23"/><stop offset="0.433" stop-color="#f4da23"/><stop offset="0.500" stop-color="#f7da1c"/><stop offset="0.567" stop-color="#d6da94"/><stop offset="0.633" stop-color="#a1ccd7"/><stop offset="0.700" stop-color="#61afdf"/><stop offset="0.767" stop-color="#3b9ad7"/><stop offset="0.833" stop-color="#2489d2"/><stop offset="0.900" stop-color="#2489d2"/><stop offset="0.967" stop-color="#2489d2"/></linearGradient><linearGradient id="gB18" x1="222.0" x2="371.0" y1="0" y2="0" gradientUnits="userSpaceOnUse"><stop offset="0.033" stop-color="#f8bc10"/><stop offset="0.100" stop-color="#f8d314"/><stop offset="0.167" stop-color="#f8d314"/><stop offset="0.233" stop-color="#f8d714"/><stop offset="0.300" stop-color="#f8d714"/><stop offset="0.367" stop-color="#f8da14"/><stop offset="0.433" stop-color="#f8da14"/><stop offset="0.500" stop-color="#f8da14"/><stop offset="0.567" stop-color="#dedc83"/><stop offset="0.633" stop-color="#afd2cc"/><stop offset="0.700" stop-color="#6eb6df"/><stop offset="0.767" stop-color="#439fd9"/><stop offset="0.833" stop-color="#278bd3"/><stop offset="0.900" stop-color="#2489d2"/><stop offset="0.967" stop-color="#2489d2"/></linearGradient><linearGradient id="gB19" x1="222.0" x2="371.0" y1="0" y2="0" gradientUnits="userSpaceOnUse"><stop offset="0.033" stop-color="#f8b411"/><stop offset="0.100" stop-color="#f8c413"/><stop offset="0.167" stop-color="#f8c413"/><stop offset="0.233" stop-color="#f8d012"/><stop offset="0.300" stop-color="#f8d012"/><stop offset="0.367" stop-color="#f8da14"/><stop offset="0.433" stop-color="#f8da14"/><stop offset="0.500" stop-color="#f8da14"/><stop offset="0.567" stop-color="#e3dc74"/><stop offset="0.633" stop-color="#bcd4ba"/><stop offset="0.700" stop-color="#7fbddc"/><stop offset="0.767" stop-color="#4da4db"/><stop offset="0.833" stop-color="#2e90d4"/><stop offset="0.900" stop-color="#2489d2"/><stop offset="0.967" stop-color="#2489d2"/></linearGradient><linearGradient id="gB20" x1="222.0" x2="371.0" y1="0" y2="0" gradientUnits="userSpaceOnUse"><stop offset="0.033" stop-color="#f8ac11"/><stop offset="0.100" stop-color="#f8b613"/><stop offset="0.167" stop-color="#f8b613"/><stop offset="0.233" stop-color="#f8ca12"/><stop offset="0.300" stop-color="#f8ca12"/><stop offset="0.367" stop-color="#f8da14"/><stop offset="0.433" stop-color="#f8da14"/><stop offset="0.500" stop-color="#f8da14"/><stop offset="0.567" stop-color="#e7dc66"/><stop offset="0.633" stop-color="#c9d8a6"/><stop offset="0.700" stop-color="#90c5da"/><stop offset="0.767" stop-color="#57aadd"/><stop offset="0.833" stop-color="#3495d6"/><stop offset="0.900" stop-color="#2489d2"/><stop offset="0.967" stop-color="#2489d2"/></linearGradient><linearGradient id="gB21" x1="222.0" x2="371.0" y1="0" y2="0" gradientUnits="userSpaceOnUse"><stop offset="0.033" stop-color="#f8a412"/><stop offset="0.100" stop-color="#f8a712"/><stop offset="0.167" stop-color="#f8a712"/><stop offset="0.233" stop-color="#f8c310"/><stop offset="0.300" stop-color="#f8c310"/><stop offset="0.367" stop-color="#f8da14"/><stop offset="0.433" stop-color="#f8da14"/><stop offset="0.500" stop-color="#f8da14"/><stop offset="0.567" stop-color="#ecdc57"/><stop offset="0.633" stop-color="#d6da94"/><stop offset="0.700" stop-color="#a1ccd7"/><stop offset="0.767" stop-color="#61afdf"/><stop offset="0.833" stop-color="#3b9ad7"/><stop offset="0.900" stop-color="#2489d2"/><stop offset="0.967" stop-color="#2489d2"/></linearGradient><linearGradient id="gB22" x1="222.0" x2="371.0" y1="0" y2="0" gradientUnits="userSpaceOnUse"><stop offset="0.033" stop-color="#f79813"/><stop offset="0.100" stop-color="#f79813"/><stop offset="0.167" stop-color="#f79813"/><stop offset="0.233" stop-color="#f8bc10"/><stop offset="0.300" stop-color="#f8bc10"/><stop offset="0.367" stop-color="#f8d314"/><stop offset="0.433" stop-color="#f8d714"/><stop offset="0.500" stop-color="#f8d714"/><stop offset="0.567" stop-color="#efdc48"/><stop offset="0.633" stop-color="#e0dc7b"/><stop offset="0.700" stop-color="#b2d2c5"/><stop offset="0.767" stop-color="#6eb6df"/><stop offset="0.833" stop-color="#439fd9"/><stop offset="0.900" stop-color="#2489d2"/><stop offset="0.967" stop-color="#2489d2"/></linearGradient><linearGradient id="gB23" x1="222.0" x2="371.0" y1="0" y2="0" gradientUnits="userSpaceOnUse"><stop offset="0.033" stop-color="#f58815"/><stop offset="0.100" stop-color="#f58815"/><stop offset="0.167" stop-color="#f58815"/><stop offset="0.233" stop-color="#f8b411"/><stop offset="0.300" stop-color="#f8b411"/><stop offset="0.367" stop-color="#f8c413"/><stop offset="0.433" stop-color="#f8d012"/><stop offset="0.500" stop-color="#f8d012"/><stop offset="0.567" stop-color="#f2db3a"/><stop offset="0.633" stop-color="#e6db5e"/><stop offset="0.700" stop-color="#c3d4a4"/><stop offset="0.767" stop-color="#7fbddc"/><stop offset="0.833" stop-color="#4da4db"/><stop offset="0.900" stop-color="#2489d2"/><stop offset="0.967" stop-color="#2489d2"/></linearGradient><linearGradient id="gB24" x1="222.0" x2="371.0" y1="0" y2="0" gradientUnits="userSpaceOnUse"><stop offset="0.033" stop-color="#f37817"/><stop offset="0.100" stop-color="#f37817"/><stop offset="0.167" stop-color="#f37817"/><stop offset="0.233" stop-color="#f8ac11"/><stop offset="0.300" stop-color="#f8ac11"/><stop offset="0.367" stop-color="#f8b613"/><stop offset="0.433" stop-color="#f8ca12"/><stop offset="0.500" stop-color="#f8ca12"/><stop offset="0.567" stop-color="#f4db2a"/><stop offset="0.633" stop-color="#eedb40"/><stop offset="0.700" stop-color="#d4d882"/><stop offset="0.767" stop-color="#90c5da"/><stop offset="0.833" stop-color="#57aadd"/><stop offset="0.900" stop-color="#2489d2"/><stop offset="0.967" stop-color="#2489d2"/></linearGradient><linearGradient id="gB25" x1="222.0" x2="371.0" y1="0" y2="0" gradientUnits="userSpaceOnUse"><stop offset="0.033" stop-color="#f16819"/><stop offset="0.100" stop-color="#f16819"/><stop offset="0.167" stop-color="#f16819"/><stop offset="0.233" stop-color="#f8a412"/><stop offset="0.300" stop-color="#f8a412"/><stop offset="0.367" stop-color="#f8a712"/><stop offset="0.433" stop-color="#f8c310"/><stop offset="0.500" stop-color="#f8c310"/><stop offset="0.567" stop-color="#f7da1c"/><stop offset="0.633" stop-color="#f4da23"/><stop offset="0.700" stop-color="#e5da61"/><stop offset="0.767" stop-color="#a1ccd7"/><stop offset="0.833" stop-color="#61afdf"/><stop offset="0.900" stop-color="#2489d2"/><stop offset="0.967" stop-color="#2489d2"/></linearGradient><linearGradient id="gB26" x1="222.0" x2="371.0" y1="0" y2="0" gradientUnits="userSpaceOnUse"><stop offset="0.033" stop-color="#ec561a"/><stop offset="0.100" stop-color="#ec561a"/><stop offset="0.167" stop-color="#ec561a"/><stop offset="0.233" stop-color="#f79813"/><stop offset="0.300" stop-color="#f79813"/><stop offset="0.367" stop-color="#f8a012"/><stop offset="0.433" stop-color="#f8bc10"/><stop offset="0.500" stop-color="#f8c010"/><stop offset="0.567" stop-color="#f8d714"/><stop offset="0.633" stop-color="#f8da14"/><stop offset="0.700" stop-color="#efdc48"/><stop offset="0.767" stop-color="#b2d2c5"/><stop offset="0.833" stop-color="#6eb6df"/><stop offset="0.900" stop-color="#278bd3"/><stop offset="0.967" stop-color="#2489d2"/></linearGradient><linearGradient id="gB27" x1="222.0" x2="371.0" y1="0" y2="0" gradientUnits="userSpaceOnUse"><stop offset="0.033" stop-color="#e6441a"/><stop offset="0.100" stop-color="#e6441a"/><stop offset="0.167" stop-color="#e6441a"/><stop offset="0.233" stop-color="#f58815"/><stop offset="0.300" stop-color="#f58815"/><stop offset="0.367" stop-color="#f8a012"/><stop offset="0.433" stop-color="#f8b411"/><stop offset="0.500" stop-color="#f8c010"/><stop offset="0.567" stop-color="#f8d012"/><stop offset="0.633" stop-color="#f8da14"/><stop offset="0.700" stop-color="#f2db3a"/><stop offset="0.767" stop-color="#c3d4a4"/><stop offset="0.833" stop-color="#7fbddc"/><stop offset="0.900" stop-color="#2e90d4"/><stop offset="0.967" stop-color="#2489d2"/></linearGradient><linearGradient id="gB28" x1="222.0" x2="371.0" y1="0" y2="0" gradientUnits="userSpaceOnUse"><stop offset="0.033" stop-color="#de301a"/><stop offset="0.100" stop-color="#de301a"/><stop offset="0.167" stop-color="#de301a"/><stop offset="0.233" stop-color="#f37817"/><stop offset="0.300" stop-color="#f37817"/><stop offset="0.367" stop-color="#f8a012"/><stop offset="0.433" stop-color="#f8ac11"/><stop offset="0.500" stop-color="#f8c010"/><stop offset="0.567" stop-color="#f8ca12"/><stop offset="0.633" stop-color="#f8da14"/><stop offset="0.700" stop-color="#f4db2a"/><stop offset="0.767" stop-color="#d4d882"/><stop offset="0.833" stop-color="#90c5da"/><stop offset="0.900" stop-color="#3495d6"/><stop offset="0.967" stop-color="#2489d2"/></linearGradient><linearGradient id="gB29" x1="222.0" x2="371.0" y1="0" y2="0" gradientUnits="userSpaceOnUse"><stop offset="0.033" stop-color="#d81e1a"/><stop offset="0.100" stop-color="#d81e1a"/><stop offset="0.167" stop-color="#d81e1a"/><stop offset="0.233" stop-color="#f16819"/><stop offset="0.300" stop-color="#f16819"/><stop offset="0.367" stop-color="#f8a012"/><stop offset="0.433" stop-color="#f8a412"/><stop offset="0.500" stop-color="#f8c010"/><stop offset="0.567" stop-color="#f8c310"/><stop offset="0.633" stop-color="#f8da14"/><stop offset="0.700" stop-color="#f7da1c"/><stop offset="0.767" stop-color="#e5da61"/><stop offset="0.833" stop-color="#a1ccd7"/><stop offset="0.900" stop-color="#3b9ad7"/><stop offset="0.967" stop-color="#2489d2"/></linearGradient><linearGradient id="gB30" x1="222.0" x2="371.0" y1="0" y2="0" gradientUnits="userSpaceOnUse"><stop offset="0.033" stop-color="#d4141a"/><stop offset="0.100" stop-color="#d4141a"/><stop offset="0.167" stop-color="#d4141a"/><stop offset="0.233" stop-color="#ec561a"/><stop offset="0.300" stop-color="#ee5b1a"/><stop offset="0.367" stop-color="#f79813"/><stop offset="0.433" stop-color="#f79813"/><stop offset="0.500" stop-color="#f8bc10"/><stop offset="0.567" stop-color="#f8c010"/><stop offset="0.633" stop-color="#f8da14"/><stop offset="0.700" stop-color="#f8da14"/><stop offset="0.767" stop-color="#efdc48"/><stop offset="0.833" stop-color="#a9d0d6"/><stop offset="0.900" stop-color="#439fd9"/><stop offset="0.967" stop-color="#2489d2"/></linearGradient><linearGradient id="gB31" x1="222.0" x2="371.0" y1="0" y2="0" gradientUnits="userSpaceOnUse"><stop offset="0.033" stop-color="#d4141a"/><stop offset="0.100" stop-color="#d4141a"/><stop offset="0.167" stop-color="#d4141a"/><stop offset="0.233" stop-color="#e5431a"/><stop offset="0.300" stop-color="#eb521a"/><stop offset="0.367" stop-color="#f58815"/><stop offset="0.433" stop-color="#f58815"/><stop offset="0.500" stop-color="#f8b411"/><stop offset="0.567" stop-color="#f8c010"/><stop offset="0.633" stop-color="#f8da14"/><stop offset="0.700" stop-color="#f8da14"/><stop offset="0.767" stop-color="#f2db39"/><stop offset="0.833" stop-color="#a9d0d6"/><stop offset="0.900" stop-color="#4da4db"/><stop offset="0.967" stop-color="#2489d2"/></linearGradient><linearGradient id="gB32" x1="222.0" x2="371.0" y1="0" y2="0" gradientUnits="userSpaceOnUse"><stop offset="0.033" stop-color="#d4141a"/><stop offset="0.100" stop-color="#d4141a"/><stop offset="0.167" stop-color="#d4141a"/><stop offset="0.233" stop-color="#de301a"/><stop offset="0.300" stop-color="#e84a1a"/><stop offset="0.367" stop-color="#f37817"/><stop offset="0.433" stop-color="#f37817"/><stop offset="0.500" stop-color="#f8ac11"/><stop offset="0.567" stop-color="#f8c010"/><stop offset="0.633" stop-color="#f8da14"/><stop offset="0.700" stop-color="#f8da14"/><stop offset="0.767" stop-color="#f4db2a"/><stop offset="0.833" stop-color="#a9d0d6"/><stop offset="0.900" stop-color="#57aadd"/><stop offset="0.967" stop-color="#2489d2"/></linearGradient><linearGradient id="gB33" x1="222.0" x2="371.0" y1="0" y2="0" gradientUnits="userSpaceOnUse"><stop offset="0.033" stop-color="#d4141a"/><stop offset="0.100" stop-color="#d4141a"/><stop offset="0.167" stop-color="#d4141a"/><stop offset="0.233" stop-color="#d81e1a"/><stop offset="0.300" stop-color="#e6401a"/><stop offset="0.367" stop-color="#f16819"/><stop offset="0.433" stop-color="#f16819"/><stop offset="0.500" stop-color="#f8a412"/><stop offset="0.567" stop-color="#f8c010"/><stop offset="0.633" stop-color="#f8da14"/><stop offset="0.700" stop-color="#f8da14"/><stop offset="0.767" stop-color="#f7da1c"/><stop offset="0.833" stop-color="#a9d0d6"/><stop offset="0.900" stop-color="#61afdf"/><stop offset="0.967" stop-color="#2489d2"/></linearGradient><linearGradient id="gB34" x1="222.0" x2="371.0" y1="0" y2="0" gradientUnits="userSpaceOnUse"><stop offset="0.033" stop-color="#d4141a"/><stop offset="0.100" stop-color="#d4141a"/><stop offset="0.167" stop-color="#d4141a"/><stop offset="0.233" stop-color="#d4141a"/><stop offset="0.300" stop-color="#e2371a"/><stop offset="0.367" stop-color="#ec561a"/><stop offset="0.433" stop-color="#ee5c1a"/><stop offset="0.500" stop-color="#f79813"/><stop offset="0.567" stop-color="#f8bc10"/><stop offset="0.633" stop-color="#f8d714"/><stop offset="0.700" stop-color="#f8da14"/><stop offset="0.767" stop-color="#f8da14"/><stop offset="0.833" stop-color="#a9d0d6"/><stop offset="0.900" stop-color="#66b2e0"/><stop offset="0.967" stop-color="#2489d2"/></linearGradient><linearGradient id="gB35" x1="222.0" x2="371.0" y1="0" y2="0" gradientUnits="userSpaceOnUse"><stop offset="0.033" stop-color="#d4141a"/><stop offset="0.100" stop-color="#d4141a"/><stop offset="0.167" stop-color="#d4141a"/><stop offset="0.233" stop-color="#d4141a"/><stop offset="0.300" stop-color="#de2d1a"/><stop offset="0.367" stop-color="#e6441a"/><stop offset="0.433" stop-color="#ec521a"/><stop offset="0.500" stop-color="#f58815"/><stop offset="0.567" stop-color="#f8b411"/><stop offset="0.633" stop-color="#f8d012"/><stop offset="0.700" stop-color="#f8da14"/><stop offset="0.767" stop-color="#f8da14"/><stop offset="0.833" stop-color="#a9d0d6"/><stop offset="0.900" stop-color="#66b2e0"/><stop offset="0.967" stop-color="#2489d2"/></linearGradient><linearGradient id="gB36" x1="222.0" x2="371.0" y1="0" y2="0" gradientUnits="userSpaceOnUse"><stop offset="0.033" stop-color="#d4141a"/><stop offset="0.100" stop-color="#d4141a"/><stop offset="0.167" stop-color="#d4141a"/><stop offset="0.233" stop-color="#d4141a"/><stop offset="0.300" stop-color="#da231a"/><stop offset="0.367" stop-color="#de301a"/><stop offset="0.433" stop-color="#e84a1a"/><stop offset="0.500" stop-color="#f37817"/><stop offset="0.567" stop-color="#f8ac11"/><stop offset="0.633" stop-color="#f8ca12"/><stop offset="0.700" stop-color="#f8da14"/><stop offset="0.767" stop-color="#f8da14"/><stop offset="0.833" stop-color="#a9d0d6"/><stop offset="0.900" stop-color="#66b2e0"/><stop offset="0.967" stop-color="#2489d2"/></linearGradient><linearGradient id="gB37" x1="222.0" x2="371.0" y1="0" y2="0" gradientUnits="userSpaceOnUse"><stop offset="0.033" stop-color="#d4141a"/><stop offset="0.100" stop-color="#d4141a"/><stop offset="0.167" stop-color="#d4141a"/><stop offset="0.233" stop-color="#d4141a"/><stop offset="0.300" stop-color="#d6191a"/><stop offset="0.367" stop-color="#d81e1a"/><stop offset="0.433" stop-color="#e6401a"/><stop offset="0.500" stop-color="#f16819"/><stop offset="0.567" stop-color="#f8a412"/><stop offset="0.633" stop-color="#f8c310"/><stop offset="0.700" stop-color="#f8da14"/><stop offset="0.767" stop-color="#f8da14"/><stop offset="0.833" stop-color="#a9d0d6"/><stop offset="0.900" stop-color="#66b2e0"/><stop offset="0.967" stop-color="#2489d2"/></linearGradient><linearGradient id="gB38" x1="222.0" x2="371.0" y1="0" y2="0" gradientUnits="userSpaceOnUse"><stop offset="0.033" stop-color="#d4141a"/><stop offset="0.100" stop-color="#d4141a"/><stop offset="0.167" stop-color="#d4141a"/><stop offset="0.233" stop-color="#d4141a"/><stop offset="0.300" stop-color="#d4141a"/><stop offset="0.367" stop-color="#d4141a"/><stop offset="0.433" stop-color="#e2371a"/><stop offset="0.500" stop-color="#f0601a"/><stop offset="0.567" stop-color="#f8a012"/><stop offset="0.633" stop-color="#f8c010"/><stop offset="0.700" stop-color="#f8da14"/><stop offset="0.767" stop-color="#f8da14"/><stop offset="0.833" stop-color="#b2d2c5"/><stop offset="0.900" stop-color="#6eb6df"/><stop offset="0.967" stop-color="#2489d2"/></linearGradient><linearGradient id="gB39" x1="222.0" x2="371.0" y1="0" y2="0" gradientUnits="userSpaceOnUse"><stop offset="0.033" stop-color="#d4141a"/><stop offset="0.100" stop-color="#d4141a"/><stop offset="0.167" stop-color="#d4141a"/><stop offset="0.233" stop-color="#d4141a"/><stop offset="0.300" stop-color="#d4141a"/><stop offset="0.367" stop-color="#d4141a"/><stop offset="0.433" stop-color="#de2d1a"/><stop offset="0.500" stop-color="#f0601a"/><stop offset="0.567" stop-color="#f8a012"/><stop offset="0.633" stop-color="#f8c010"/><stop offset="0.700" stop-color="#f8da14"/><stop offset="0.767" stop-color="#f8da14"/><stop offset="0.833" stop-color="#c3d4a4"/><stop offset="0.900" stop-color="#7fbddc"/><stop offset="0.967" stop-color="#2489d2"/></linearGradient><linearGradient id="gB40" x1="222.0" x2="371.0" y1="0" y2="0" gradientUnits="userSpaceOnUse"><stop offset="0.033" stop-color="#d4141a"/><stop offset="0.100" stop-color="#d4141a"/><stop offset="0.167" stop-color="#d4141a"/><stop offset="0.233" stop-color="#d4141a"/><stop offset="0.300" stop-color="#d4141a"/><stop offset="0.367" stop-color="#d4141a"/><stop offset="0.433" stop-color="#da231a"/><stop offset="0.500" stop-color="#f0601a"/><stop offset="0.567" stop-color="#f8a012"/><stop offset="0.633" stop-color="#f8c010"/><stop offset="0.700" stop-color="#f8da14"/><stop offset="0.767" stop-color="#f8da14"/><stop offset="0.833" stop-color="#d4d882"/><stop offset="0.900" stop-color="#90c5da"/><stop offset="0.967" stop-color="#2489d2"/></linearGradient><linearGradient id="gB41" x1="222.0" x2="371.0" y1="0" y2="0" gradientUnits="userSpaceOnUse"><stop offset="0.033" stop-color="#d4141a"/><stop offset="0.100" stop-color="#d4141a"/><stop offset="0.167" stop-color="#d4141a"/><stop offset="0.233" stop-color="#d4141a"/><stop offset="0.300" stop-color="#d4141a"/><stop offset="0.367" stop-color="#d4141a"/><stop offset="0.433" stop-color="#d6191a"/><stop offset="0.500" stop-color="#f0601a"/><stop offset="0.567" stop-color="#f8a012"/><stop offset="0.633" stop-color="#f8c010"/><stop offset="0.700" stop-color="#f8da14"/><stop offset="0.767" stop-color="#f8da14"/><stop offset="0.833" stop-color="#e5da61"/><stop offset="0.900" stop-color="#a1ccd7"/><stop offset="0.967" stop-color="#2489d2"/></linearGradient><linearGradient id="gB42" x1="222.0" x2="371.0" y1="0" y2="0" gradientUnits="userSpaceOnUse"><stop offset="0.033" stop-color="#d4141a"/><stop offset="0.100" stop-color="#d4141a"/><stop offset="0.167" stop-color="#d4141a"/><stop offset="0.233" stop-color="#d4141a"/><stop offset="0.300" stop-color="#d4141a"/><stop offset="0.367" stop-color="#d4141a"/><stop offset="0.433" stop-color="#d4141a"/><stop offset="0.500" stop-color="#f0601a"/><stop offset="0.567" stop-color="#f8a012"/><stop offset="0.633" stop-color="#f8bc10"/><stop offset="0.700" stop-color="#f8d714"/><stop offset="0.767" stop-color="#f8da14"/><stop offset="0.833" stop-color="#eedc50"/><stop offset="0.900" stop-color="#a9d0d6"/><stop offset="0.967" stop-color="#2489d2"/></linearGradient><linearGradient id="gB43" x1="222.0" x2="371.0" y1="0" y2="0" gradientUnits="userSpaceOnUse"><stop offset="0.033" stop-color="#d4141a"/><stop offset="0.100" stop-color="#d4141a"/><stop offset="0.167" stop-color="#d4141a"/><stop offset="0.233" stop-color="#d4141a"/><stop offset="0.300" stop-color="#d4141a"/><stop offset="0.367" stop-color="#d4141a"/><stop offset="0.433" stop-color="#d4141a"/><stop offset="0.500" stop-color="#f0601a"/><stop offset="0.567" stop-color="#f8a012"/><stop offset="0.633" stop-color="#f8b411"/><stop offset="0.700" stop-color="#f8d012"/><stop offset="0.767" stop-color="#f8da14"/><stop offset="0.833" stop-color="#eedc50"/><stop offset="0.900" stop-color="#a9d0d6"/><stop offset="0.967" stop-color="#2489d2"/></linearGradient><linearGradient id="gB44" x1="222.0" x2="371.0" y1="0" y2="0" gradientUnits="userSpaceOnUse"><stop offset="0.033" stop-color="#d4141a"/><stop offset="0.100" stop-color="#d4141a"/><stop offset="0.167" stop-color="#d4141a"/><stop offset="0.233" stop-color="#d4141a"/><stop offset="0.300" stop-color="#d4141a"/><stop offset="0.367" stop-color="#d4141a"/><stop offset="0.433" stop-color="#d4141a"/><stop offset="0.500" stop-color="#f0601a"/><stop offset="0.567" stop-color="#f8a012"/><stop offset="0.633" stop-color="#f8ac11"/><stop offset="0.700" stop-color="#f8ca12"/><stop offset="0.767" stop-color="#f8da14"/><stop offset="0.833" stop-color="#eedc50"/><stop offset="0.900" stop-color="#a9d0d6"/><stop offset="0.967" stop-color="#2489d2"/></linearGradient><linearGradient id="gB45" x1="222.0" x2="371.0" y1="0" y2="0" gradientUnits="userSpaceOnUse"><stop offset="0.033" stop-color="#d4141a"/><stop offset="0.100" stop-color="#d4141a"/><stop offset="0.167" stop-color="#d4141a"/><stop offset="0.233" stop-color="#d4141a"/><stop offset="0.300" stop-color="#d4141a"/><stop offset="0.367" stop-color="#d4141a"/><stop offset="0.433" stop-color="#d4141a"/><stop offset="0.500" stop-color="#f0601a"/><stop offset="0.567" stop-color="#f8a012"/><stop offset="0.633" stop-color="#f8a412"/><stop offset="0.700" stop-color="#f8c310"/><stop offset="0.767" stop-color="#f8da14"/><stop offset="0.833" stop-color="#eedc50"/><stop offset="0.900" stop-color="#a9d0d6"/><stop offset="0.967" stop-color="#2489d2"/></linearGradient><linearGradient id="gB46" x1="222.0" x2="371.0" y1="0" y2="0" gradientUnits="userSpaceOnUse"><stop offset="0.033" stop-color="#d4141a"/><stop offset="0.100" stop-color="#d4141a"/><stop offset="0.167" stop-color="#d4141a"/><stop offset="0.233" stop-color="#d4141a"/><stop offset="0.300" stop-color="#d4141a"/><stop offset="0.367" stop-color="#d4141a"/><stop offset="0.433" stop-color="#d4141a"/><stop offset="0.500" stop-color="#ee5c1a"/><stop offset="0.567" stop-color="#f8a012"/><stop offset="0.633" stop-color="#f8a012"/><stop offset="0.700" stop-color="#f8c010"/><stop offset="0.767" stop-color="#f8da14"/><stop offset="0.833" stop-color="#efdc48"/><stop offset="0.900" stop-color="#a9d0d6"/><stop offset="0.967" stop-color="#2489d2"/></linearGradient><linearGradient id="gB47" x1="222.0" x2="371.0" y1="0" y2="0" gradientUnits="userSpaceOnUse"><stop offset="0.033" stop-color="#d4141a"/><stop offset="0.100" stop-color="#d4141a"/><stop offset="0.167" stop-color="#d4141a"/><stop offset="0.233" stop-color="#d4141a"/><stop offset="0.300" stop-color="#d4141a"/><stop offset="0.367" stop-color="#d4141a"/><stop offset="0.433" stop-color="#d4141a"/><stop offset="0.500" stop-color="#ec521a"/><stop offset="0.567" stop-color="#f8a012"/><stop offset="0.633" stop-color="#f8a012"/><stop offset="0.700" stop-color="#f8c010"/><stop offset="0.767" stop-color="#f8da14"/><stop offset="0.833" stop-color="#f2db3a"/><stop offset="0.900" stop-color="#a9d0d6"/><stop offset="0.967" stop-color="#2489d2"/></linearGradient><linearGradient id="gB48" x1="222.0" x2="371.0" y1="0" y2="0" gradientUnits="userSpaceOnUse"><stop offset="0.033" stop-color="#d4141a"/><stop offset="0.100" stop-color="#d4141a"/><stop offset="0.167" stop-color="#d4141a"/><stop offset="0.233" stop-color="#d4141a"/><stop offset="0.300" stop-color="#d4141a"/><stop offset="0.367" stop-color="#d4141a"/><stop offset="0.433" stop-color="#d4141a"/><stop offset="0.500" stop-color="#e84a1a"/><stop offset="0.567" stop-color="#f8a012"/><stop offset="0.633" stop-color="#f8a012"/><stop offset="0.700" stop-color="#f8c010"/><stop offset="0.767" stop-color="#f8da14"/><stop offset="0.833" stop-color="#f4db2a"/><stop offset="0.900" stop-color="#a9d0d6"/><stop offset="0.967" stop-color="#2489d2"/></linearGradient><linearGradient id="gB49" x1="222.0" x2="371.0" y1="0" y2="0" gradientUnits="userSpaceOnUse"><stop offset="0.033" stop-color="#d4141a"/><stop offset="0.100" stop-color="#d4141a"/><stop offset="0.167" stop-color="#d4141a"/><stop offset="0.233" stop-color="#d4141a"/><stop offset="0.300" stop-color="#d4141a"/><stop offset="0.367" stop-color="#d4141a"/><stop offset="0.433" stop-color="#d4141a"/><stop offset="0.500" stop-color="#e6401a"/><stop offset="0.567" stop-color="#f8a012"/><stop offset="0.633" stop-color="#f8a012"/><stop offset="0.700" stop-color="#f8c010"/><stop offset="0.767" stop-color="#f8da14"/><stop offset="0.833" stop-color="#f7da1c"/><stop offset="0.900" stop-color="#a9d0d6"/><stop offset="0.967" stop-color="#2489d2"/></linearGradient><linearGradient id="gB50" x1="222.0" x2="371.0" y1="0" y2="0" gradientUnits="userSpaceOnUse"><stop offset="0.033" stop-color="#d4141a"/><stop offset="0.100" stop-color="#d4141a"/><stop offset="0.167" stop-color="#d4141a"/><stop offset="0.233" stop-color="#d4141a"/><stop offset="0.300" stop-color="#d4141a"/><stop offset="0.367" stop-color="#d4141a"/><stop offset="0.433" stop-color="#d4141a"/><stop offset="0.500" stop-color="#e43c1a"/><stop offset="0.567" stop-color="#f79813"/><stop offset="0.633" stop-color="#f8a012"/><stop offset="0.700" stop-color="#f8c010"/><stop offset="0.767" stop-color="#f8da14"/><stop offset="0.833" stop-color="#f8da14"/><stop offset="0.900" stop-color="#a9d0d6"/><stop offset="0.967" stop-color="#2489d2"/></linearGradient><linearGradient id="gB51" x1="222.0" x2="371.0" y1="0" y2="0" gradientUnits="userSpaceOnUse"><stop offset="0.033" stop-color="#d4141a"/><stop offset="0.100" stop-color="#d4141a"/><stop offset="0.167" stop-color="#d4141a"/><stop offset="0.233" stop-color="#d4141a"/><stop offset="0.300" stop-color="#d4141a"/><stop offset="0.367" stop-color="#d4141a"/><stop offset="0.433" stop-color="#d4141a"/><stop offset="0.500" stop-color="#e43c1a"/><stop offset="0.567" stop-color="#f58815"/><stop offset="0.633" stop-color="#f8a012"/><stop offset="0.700" stop-color="#f8c010"/><stop offset="0.767" stop-color="#f8da14"/><stop offset="0.833" stop-color="#f8da14"/><stop offset="0.900" stop-color="#a9d0d6"/><stop offset="0.967" stop-color="#2489d2"/></linearGradient><linearGradient id="gB52" x1="222.0" x2="371.0" y1="0" y2="0" gradientUnits="userSpaceOnUse"><stop offset="0.033" stop-color="#d4141a"/><stop offset="0.100" stop-color="#d4141a"/><stop offset="0.167" stop-color="#d4141a"/><stop offset="0.233" stop-color="#d4141a"/><stop offset="0.300" stop-color="#d4141a"/><stop offset="0.367" stop-color="#d4141a"/><stop offset="0.433" stop-color="#d4141a"/><stop offset="0.500" stop-color="#e43c1a"/><stop offset="0.567" stop-color="#f37817"/><stop offset="0.633" stop-color="#f8a012"/><stop offset="0.700" stop-color="#f8c010"/><stop offset="0.767" stop-color="#f8da14"/><stop offset="0.833" stop-color="#f8da14"/><stop offset="0.900" stop-color="#a9d0d6"/><stop offset="0.967" stop-color="#2489d2"/></linearGradient><linearGradient id="gB53" x1="222.0" x2="371.0" y1="0" y2="0" gradientUnits="userSpaceOnUse"><stop offset="0.033" stop-color="#d4141a"/><stop offset="0.100" stop-color="#d4141a"/><stop offset="0.167" stop-color="#d4141a"/><stop offset="0.233" stop-color="#d4141a"/><stop offset="0.300" stop-color="#d4141a"/><stop offset="0.367" stop-color="#d4141a"/><stop offset="0.433" stop-color="#d4141a"/><stop offset="0.500" stop-color="#e43c1a"/><stop offset="0.567" stop-color="#f16819"/><stop offset="0.633" stop-color="#f8a012"/><stop offset="0.700" stop-color="#f8c010"/><stop offset="0.767" stop-color="#f8da14"/><stop offset="0.833" stop-color="#f8da14"/><stop offset="0.900" stop-color="#a9d0d6"/><stop offset="0.967" stop-color="#2489d2"/></linearGradient><linearGradient id="gB54" x1="222.0" x2="371.0" y1="0" y2="0" gradientUnits="userSpaceOnUse"><stop offset="0.033" stop-color="#d4141a"/><stop offset="0.100" stop-color="#d4141a"/><stop offset="0.167" stop-color="#d4141a"/><stop offset="0.233" stop-color="#d4141a"/><stop offset="0.300" stop-color="#d4141a"/><stop offset="0.367" stop-color="#d4141a"/><stop offset="0.433" stop-color="#d4141a"/><stop offset="0.500" stop-color="#e2371a"/><stop offset="0.567" stop-color="#ef5c1a"/><stop offset="0.633" stop-color="#f8a012"/><stop offset="0.700" stop-color="#f8c010"/><stop offset="0.767" stop-color="#f8da14"/><stop offset="0.833" stop-color="#f8da14"/><stop offset="0.900" stop-color="#a9d0d6"/><stop offset="0.967" stop-color="#2489d2"/></linearGradient><linearGradient id="gB55" x1="222.0" x2="371.0" y1="0" y2="0" gradientUnits="userSpaceOnUse"><stop offset="0.033" stop-color="#d4141a"/><stop offset="0.100" stop-color="#d4141a"/><stop offset="0.167" stop-color="#d4141a"/><stop offset="0.233" stop-color="#d4141a"/><stop offset="0.300" stop-color="#d4141a"/><stop offset="0.367" stop-color="#d4141a"/><stop offset="0.433" stop-color="#d4141a"/><stop offset="0.500" stop-color="#de2d1a"/><stop offset="0.567" stop-color="#ec521a"/><stop offset="0.633" stop-color="#f8a012"/><stop offset="0.700" stop-color="#f8c010"/><stop offset="0.767" stop-color="#f8da14"/><stop offset="0.833" stop-color="#f8da14"/><stop offset="0.900" stop-color="#a9d0d6"/><stop offset="0.967" stop-color="#2489d2"/></linearGradient><linearGradient id="gB56" x1="222.0" x2="371.0" y1="0" y2="0" gradientUnits="userSpaceOnUse"><stop offset="0.033" stop-color="#d4141a"/><stop offset="0.100" stop-color="#d4141a"/><stop offset="0.167" stop-color="#d4141a"/><stop offset="0.233" stop-color="#d4141a"/><stop offset="0.300" stop-color="#d4141a"/><stop offset="0.367" stop-color="#d4141a"/><stop offset="0.433" stop-color="#d4141a"/><stop offset="0.500" stop-color="#da231a"/><stop offset="0.567" stop-color="#e84a1a"/><stop offset="0.633" stop-color="#f8a012"/><stop offset="0.700" stop-color="#f8c010"/><stop offset="0.767" stop-color="#f8da14"/><stop offset="0.833" stop-color="#f8da14"/><stop offset="0.900" stop-color="#a9d0d6"/><stop offset="0.967" stop-color="#2489d2"/></linearGradient><linearGradient id="gB57" x1="222.0" x2="371.0" y1="0" y2="0" gradientUnits="userSpaceOnUse"><stop offset="0.033" stop-color="#d4141a"/><stop offset="0.100" stop-color="#d4141a"/><stop offset="0.167" stop-color="#d4141a"/><stop offset="0.233" stop-color="#d4141a"/><stop offset="0.300" stop-color="#d4141a"/><stop offset="0.367" stop-color="#d4141a"/><stop offset="0.433" stop-color="#d4141a"/><stop offset="0.500" stop-color="#d6191a"/><stop offset="0.567" stop-color="#e5401a"/><stop offset="0.633" stop-color="#f8a012"/><stop offset="0.700" stop-color="#f8c010"/><stop offset="0.767" stop-color="#f8da14"/><stop offset="0.833" stop-color="#f8da14"/><stop offset="0.900" stop-color="#a9d0d6"/><stop offset="0.967" stop-color="#2489d2"/></linearGradient><linearGradient id="gB58" x1="222.0" x2="371.0" y1="0" y2="0" gradientUnits="userSpaceOnUse"><stop offset="0.033" stop-color="#d4141a"/><stop offset="0.100" stop-color="#d4141a"/><stop offset="0.167" stop-color="#d4141a"/><stop offset="0.233" stop-color="#d4141a"/><stop offset="0.300" stop-color="#d4141a"/><stop offset="0.367" stop-color="#d4141a"/><stop offset="0.433" stop-color="#d4141a"/><stop offset="0.500" stop-color="#d4141a"/><stop offset="0.567" stop-color="#e2371a"/><stop offset="0.633" stop-color="#f79813"/><stop offset="0.700" stop-color="#f8bc10"/><stop offset="0.767" stop-color="#f8d714"/><stop offset="0.833" stop-color="#f7da1c"/><stop offset="0.900" stop-color="#a1ccd7"/><stop offset="0.967" stop-color="#2489d2"/></linearGradient><linearGradient id="gB59" x1="222.0" x2="371.0" y1="0" y2="0" gradientUnits="userSpaceOnUse"><stop offset="0.033" stop-color="#d4141a"/><stop offset="0.100" stop-color="#d4141a"/><stop offset="0.167" stop-color="#d4141a"/><stop offset="0.233" stop-color="#d4141a"/><stop offset="0.300" stop-color="#d4141a"/><stop offset="0.367" stop-color="#d4141a"/><stop offset="0.433" stop-color="#d4141a"/><stop offset="0.500" stop-color="#d4141a"/><stop offset="0.567" stop-color="#de2d1a"/><stop offset="0.633" stop-color="#f58815"/><stop offset="0.700" stop-color="#f8b411"/><stop offset="0.767" stop-color="#f8d012"/><stop offset="0.833" stop-color="#f4db2b"/><stop offset="0.900" stop-color="#90c5da"/><stop offset="0.967" stop-color="#2489d2"/></linearGradient><linearGradient id="gB60" x1="222.0" x2="371.0" y1="0" y2="0" gradientUnits="userSpaceOnUse"><stop offset="0.033" stop-color="#d4141a"/><stop offset="0.100" stop-color="#d4141a"/><stop offset="0.167" stop-color="#d4141a"/><stop offset="0.233" stop-color="#d4141a"/><stop offset="0.300" stop-color="#d4141a"/><stop offset="0.367" stop-color="#d4141a"/><stop offset="0.433" stop-color="#d4141a"/><stop offset="0.500" stop-color="#d4141a"/><stop offset="0.567" stop-color="#da231a"/><stop offset="0.633" stop-color="#f37817"/><stop offset="0.700" stop-color="#f8ac11"/><stop offset="0.767" stop-color="#f8ca12"/><stop offset="0.833" stop-color="#f2db3a"/><stop offset="0.900" stop-color="#7fbddc"/><stop offset="0.967" stop-color="#2489d2"/></linearGradient><linearGradient id="gB61" x1="222.0" x2="371.0" y1="0" y2="0" gradientUnits="userSpaceOnUse"><stop offset="0.033" stop-color="#d4141a"/><stop offset="0.100" stop-color="#d4141a"/><stop offset="0.167" stop-color="#d4141a"/><stop offset="0.233" stop-color="#d4141a"/><stop offset="0.300" stop-color="#d4141a"/><stop offset="0.367" stop-color="#d4141a"/><stop offset="0.433" stop-color="#d4141a"/><stop offset="0.500" stop-color="#d4141a"/><stop offset="0.567" stop-color="#d6191a"/><stop offset="0.633" stop-color="#f16819"/><stop offset="0.700" stop-color="#f8a412"/><stop offset="0.767" stop-color="#f8c311"/><stop offset="0.833" stop-color="#efdc48"/><stop offset="0.900" stop-color="#6eb6df"/><stop offset="0.967" stop-color="#2489d2"/></linearGradient><linearGradient id="gB62" x1="222.0" x2="371.0" y1="0" y2="0" gradientUnits="userSpaceOnUse"><stop offset="0.033" stop-color="#d4141a"/><stop offset="0.100" stop-color="#d4141a"/><stop offset="0.167" stop-color="#d4141a"/><stop offset="0.233" stop-color="#d4141a"/><stop offset="0.300" stop-color="#d4141a"/><stop offset="0.367" stop-color="#d4141a"/><stop offset="0.433" stop-color="#d4141a"/><stop offset="0.500" stop-color="#d6191a"/><stop offset="0.567" stop-color="#d81e1a"/><stop offset="0.633" stop-color="#f16819"/><stop offset="0.700" stop-color="#f8a412"/><stop offset="0.767" stop-color="#f8c310"/><stop offset="0.833" stop-color="#e5da61"/><stop offset="0.900" stop-color="#61afdf"/><stop offset="0.967" stop-color="#2489d2"/></linearGradient><linearGradient id="gB63" x1="222.0" x2="371.0" y1="0" y2="0" gradientUnits="userSpaceOnUse"><stop offset="0.033" stop-color="#d4141a"/><stop offset="0.100" stop-color="#d4141a"/><stop offset="0.167" stop-color="#d4141a"/><stop offset="0.233" stop-color="#d4141a"/><stop offset="0.300" stop-color="#d4141a"/><stop offset="0.367" stop-color="#d4141a"/><stop offset="0.433" stop-color="#d4141a"/><stop offset="0.500" stop-color="#da231a"/><stop offset="0.567" stop-color="#de301a"/><stop offset="0.633" stop-color="#f37817"/><stop offset="0.700" stop-color="#f8ac11"/><stop offset="0.767" stop-color="#f8ca12"/><stop offset="0.833" stop-color="#d4d882"/><stop offset="0.900" stop-color="#57aadd"/><stop offset="0.967" stop-color="#2489d2"/></linearGradient><linearGradient id="gB64" x1="222.0" x2="371.0" y1="0" y2="0" gradientUnits="userSpaceOnUse"><stop offset="0.033" stop-color="#d4141a"/><stop offset="0.100" stop-color="#d4141a"/><stop offset="0.167" stop-color="#d4141a"/><stop offset="0.233" stop-color="#d4141a"/><stop offset="0.300" stop-color="#d4141a"/><stop offset="0.367" stop-color="#d4141a"/><stop offset="0.433" stop-color="#d4141a"/><stop offset="0.500" stop-color="#de2d1a"/><stop offset="0.567" stop-color="#e6441a"/><stop offset="0.633" stop-color="#f58815"/><stop offset="0.700" stop-color="#f8b411"/><stop offset="0.767" stop-color="#f8d012"/><stop offset="0.833" stop-color="#c3d4a4"/><stop offset="0.900" stop-color="#4da4db"/><stop offset="0.967" stop-color="#2489d2"/></linearGradient><linearGradient id="gB65" x1="222.0" x2="371.0" y1="0" y2="0" gradientUnits="userSpaceOnUse"><stop offset="0.033" stop-color="#d4141a"/><stop offset="0.100" stop-color="#d4141a"/><stop offset="0.167" stop-color="#d4141a"/><stop offset="0.233" stop-color="#d4141a"/><stop offset="0.300" stop-color="#d4141a"/><stop offset="0.367" stop-color="#d4141a"/><stop offset="0.433" stop-color="#d4141a"/><stop offset="0.500" stop-color="#e2371a"/><stop offset="0.567" stop-color="#ec561a"/><stop offset="0.633" stop-color="#f79813"/><stop offset="0.700" stop-color="#f8bc10"/><stop offset="0.767" stop-color="#f8d714"/><stop offset="0.833" stop-color="#b2d2c5"/><stop offset="0.900" stop-color="#439fd9"/><stop offset="0.967" stop-color="#2489d2"/></linearGradient><linearGradient id="gB66" x1="222.0" x2="371.0" y1="0" y2="0" gradientUnits="userSpaceOnUse"><stop offset="0.033" stop-color="#d4141a"/><stop offset="0.100" stop-color="#d4141a"/><stop offset="0.167" stop-color="#d4141a"/><stop offset="0.233" stop-color="#d4141a"/><stop offset="0.300" stop-color="#d4141a"/><stop offset="0.367" stop-color="#d4141a"/><stop offset="0.433" stop-color="#d4141a"/><stop offset="0.500" stop-color="#e43c1a"/><stop offset="0.567" stop-color="#f0601a"/><stop offset="0.633" stop-color="#f8a012"/><stop offset="0.700" stop-color="#f8c010"/><stop offset="0.767" stop-color="#f8da14"/><stop offset="0.833" stop-color="#a9d0d6"/><stop offset="0.900" stop-color="#3e9cd8"/><stop offset="0.967" stop-color="#2489d2"/></linearGradient><linearGradient id="gB67" x1="222.0" x2="371.0" y1="0" y2="0" gradientUnits="userSpaceOnUse"><stop offset="0.033" stop-color="#d4141a"/><stop offset="0.100" stop-color="#d4141a"/><stop offset="0.167" stop-color="#d4141a"/><stop offset="0.233" stop-color="#d4141a"/><stop offset="0.300" stop-color="#d4141a"/><stop offset="0.367" stop-color="#d4141a"/><stop offset="0.433" stop-color="#d4141a"/><stop offset="0.500" stop-color="#e43c1a"/><stop offset="0.567" stop-color="#f0601a"/><stop offset="0.633" stop-color="#f8a012"/><stop offset="0.700" stop-color="#f8c010"/><stop offset="0.767" stop-color="#f8da14"/><stop offset="0.833" stop-color="#a9d0d6"/><stop offset="0.900" stop-color="#3e9cd8"/><stop offset="0.967" stop-color="#2489d2"/></linearGradient><filter id="blurB" x="202.0" y="12.200000000000003" width="189.0" height="208.8" filterUnits="userSpaceOnUse"><feGaussianBlur stdDeviation="0.8 0.8"/></filter></defs>
<clipPath id="cB"><rect x="222.0" y="32.2" width="149.0" height="168.8"/></clipPath>
<g clip-path="url(#cB)"><g filter="url(#blurB)">
<rect x="216.0" y="26.20" width="161.0" height="8.98" fill="url(#gB0)"/>
<rect x="216.0" y="34.68" width="161.0" height="2.98" fill="url(#gB1)"/>
<rect x="216.0" y="37.16" width="161.0" height="2.98" fill="url(#gB2)"/>
<rect x="216.0" y="39.65" width="161.0" height="2.98" fill="url(#gB3)"/>
<rect x="216.0" y="42.13" width="161.0" height="2.98" fill="url(#gB4)"/>
<rect x="216.0" y="44.61" width="161.0" height="2.98" fill="url(#gB5)"/>
<rect x="216.0" y="47.09" width="161.0" height="2.98" fill="url(#gB6)"/>
<rect x="216.0" y="49.58" width="161.0" height="2.98" fill="url(#gB7)"/>
<rect x="216.0" y="52.06" width="161.0" height="2.98" fill="url(#gB8)"/>
<rect x="216.0" y="54.54" width="161.0" height="2.98" fill="url(#gB9)"/>
<rect x="216.0" y="57.02" width="161.0" height="2.98" fill="url(#gB10)"/>
<rect x="216.0" y="59.51" width="161.0" height="2.98" fill="url(#gB11)"/>
<rect x="216.0" y="61.99" width="161.0" height="2.98" fill="url(#gB12)"/>
<rect x="216.0" y="64.47" width="161.0" height="2.98" fill="url(#gB13)"/>
<rect x="216.0" y="66.95" width="161.0" height="2.98" fill="url(#gB14)"/>
<rect x="216.0" y="69.44" width="161.0" height="2.98" fill="url(#gB15)"/>
<rect x="216.0" y="71.92" width="161.0" height="2.98" fill="url(#gB16)"/>
<rect x="216.0" y="74.40" width="161.0" height="2.98" fill="url(#gB17)"/>
<rect x="216.0" y="76.88" width="161.0" height="2.98" fill="url(#gB18)"/>
<rect x="216.0" y="79.36" width="161.0" height="2.98" fill="url(#gB19)"/>
<rect x="216.0" y="81.85" width="161.0" height="2.98" fill="url(#gB20)"/>
<rect x="216.0" y="84.33" width="161.0" height="2.98" fill="url(#gB21)"/>
<rect x="216.0" y="86.81" width="161.0" height="2.98" fill="url(#gB22)"/>
<rect x="216.0" y="89.29" width="161.0" height="2.98" fill="url(#gB23)"/>
<rect x="216.0" y="91.78" width="161.0" height="2.98" fill="url(#gB24)"/>
<rect x="216.0" y="94.26" width="161.0" height="2.98" fill="url(#gB25)"/>
<rect x="216.0" y="96.74" width="161.0" height="2.98" fill="url(#gB26)"/>
<rect x="216.0" y="99.22" width="161.0" height="2.98" fill="url(#gB27)"/>
<rect x="216.0" y="101.71" width="161.0" height="2.98" fill="url(#gB28)"/>
<rect x="216.0" y="104.19" width="161.0" height="2.98" fill="url(#gB29)"/>
<rect x="216.0" y="106.67" width="161.0" height="2.98" fill="url(#gB30)"/>
<rect x="216.0" y="109.15" width="161.0" height="2.98" fill="url(#gB31)"/>
<rect x="216.0" y="111.64" width="161.0" height="2.98" fill="url(#gB32)"/>
<rect x="216.0" y="114.12" width="161.0" height="2.98" fill="url(#gB33)"/>
<rect x="216.0" y="116.60" width="161.0" height="2.98" fill="url(#gB34)"/>
<rect x="216.0" y="119.08" width="161.0" height="2.98" fill="url(#gB35)"/>
<rect x="216.0" y="121.56" width="161.0" height="2.98" fill="url(#gB36)"/>
<rect x="216.0" y="124.05" width="161.0" height="2.98" fill="url(#gB37)"/>
<rect x="216.0" y="126.53" width="161.0" height="2.98" fill="url(#gB38)"/>
<rect x="216.0" y="129.01" width="161.0" height="2.98" fill="url(#gB39)"/>
<rect x="216.0" y="131.49" width="161.0" height="2.98" fill="url(#gB40)"/>
<rect x="216.0" y="133.98" width="161.0" height="2.98" fill="url(#gB41)"/>
<rect x="216.0" y="136.46" width="161.0" height="2.98" fill="url(#gB42)"/>
<rect x="216.0" y="138.94" width="161.0" height="2.98" fill="url(#gB43)"/>
<rect x="216.0" y="141.42" width="161.0" height="2.98" fill="url(#gB44)"/>
<rect x="216.0" y="143.91" width="161.0" height="2.98" fill="url(#gB45)"/>
<rect x="216.0" y="146.39" width="161.0" height="2.98" fill="url(#gB46)"/>
<rect x="216.0" y="148.87" width="161.0" height="2.98" fill="url(#gB47)"/>
<rect x="216.0" y="151.35" width="161.0" height="2.98" fill="url(#gB48)"/>
<rect x="216.0" y="153.84" width="161.0" height="2.98" fill="url(#gB49)"/>
<rect x="216.0" y="156.32" width="161.0" height="2.98" fill="url(#gB50)"/>
<rect x="216.0" y="158.80" width="161.0" height="2.98" fill="url(#gB51)"/>
<rect x="216.0" y="161.28" width="161.0" height="2.98" fill="url(#gB52)"/>
<rect x="216.0" y="163.76" width="161.0" height="2.98" fill="url(#gB53)"/>
<rect x="216.0" y="166.25" width="161.0" height="2.98" fill="url(#gB54)"/>
<rect x="216.0" y="168.73" width="161.0" height="2.98" fill="url(#gB55)"/>
<rect x="216.0" y="171.21" width="161.0" height="2.98" fill="url(#gB56)"/>
<rect x="216.0" y="173.69" width="161.0" height="2.98" fill="url(#gB57)"/>
<rect x="216.0" y="176.18" width="161.0" height="2.98" fill="url(#gB58)"/>
<rect x="216.0" y="178.66" width="161.0" height="2.98" fill="url(#gB59)"/>
<rect x="216.0" y="181.14" width="161.0" height="2.98" fill="url(#gB60)"/>
<rect x="216.0" y="183.62" width="161.0" height="2.98" fill="url(#gB61)"/>
<rect x="216.0" y="186.11" width="161.0" height="2.98" fill="url(#gB62)"/>
<rect x="216.0" y="188.59" width="161.0" height="2.98" fill="url(#gB63)"/>
<rect x="216.0" y="191.07" width="161.0" height="2.98" fill="url(#gB64)"/>
<rect x="216.0" y="193.55" width="161.0" height="2.98" fill="url(#gB65)"/>
<rect x="216.0" y="196.04" width="161.0" height="2.98" fill="url(#gB66)"/>
<rect x="216.0" y="198.52" width="161.0" height="8.98" fill="url(#gB67)"/>
</g>
<rect x="221" y="30" width="3.8" height="175" fill="url(#bstrip)"/><rect x="266" y="196.2" width="66" height="1" fill="#f0b020" opacity="0.55"/><rect x="294.6" y="88" width="1.8" height="108" fill="#e03018" opacity="0.3"/><rect x="236" y="116" width="100" height="1.8" fill="#e03018" opacity="0.3"/>
</g>
<defs><linearGradient id="gC0" x1="407.0" x2="547.2" y1="0" y2="0" gradientUnits="userSpaceOnUse"><stop offset="0.036" stop-color="#2489d2"/><stop offset="0.107" stop-color="#1c70bc"/><stop offset="0.179" stop-color="#1b5aa8"/><stop offset="0.250" stop-color="#1c70bc"/><stop offset="0.321" stop-color="#2489d2"/><stop offset="0.393" stop-color="#2489d2"/><stop offset="0.464" stop-color="#2489d2"/><stop offset="0.536" stop-color="#2489d2"/><stop offset="0.607" stop-color="#2489d2"/><stop offset="0.679" stop-color="#2489d2"/><stop offset="0.750" stop-color="#2489d2"/><stop offset="0.821" stop-color="#2489d2"/><stop offset="0.893" stop-color="#2489d2"/><stop offset="0.964" stop-color="#2489d2"/></linearGradient><linearGradient id="gC1" x1="407.0" x2="547.2" y1="0" y2="0" gradientUnits="userSpaceOnUse"><stop offset="0.036" stop-color="#2489d2"/><stop offset="0.107" stop-color="#1c70bc"/><stop offset="0.179" stop-color="#1b5aa8"/><stop offset="0.250" stop-color="#1c70bc"/><stop offset="0.321" stop-color="#2489d2"/><stop offset="0.393" stop-color="#2489d2"/><stop offset="0.464" stop-color="#2489d2"/><stop offset="0.536" stop-color="#2489d2"/><stop offset="0.607" stop-color="#2489d2"/><stop offset="0.679" stop-color="#2489d2"/><stop offset="0.750" stop-color="#2489d2"/><stop offset="0.821" stop-color="#2489d2"/><stop offset="0.893" stop-color="#2489d2"/><stop offset="0.964" stop-color="#2489d2"/></linearGradient><linearGradient id="gC2" x1="407.0" x2="547.2" y1="0" y2="0" gradientUnits="userSpaceOnUse"><stop offset="0.036" stop-color="#2489d2"/><stop offset="0.107" stop-color="#2076c0"/><stop offset="0.179" stop-color="#1f62ae"/><stop offset="0.250" stop-color="#1d73bf"/><stop offset="0.321" stop-color="#278bd3"/><stop offset="0.393" stop-color="#3592d2"/><stop offset="0.464" stop-color="#2c8ed4"/><stop offset="0.536" stop-color="#3592d2"/><stop offset="0.607" stop-color="#3b93c9"/><stop offset="0.679" stop-color="#3b93c9"/><stop offset="0.750" stop-color="#3592d2"/><stop offset="0.821" stop-color="#3592d2"/><stop offset="0.893" stop-color="#3b93c9"/><stop offset="0.964" stop-color="#278bd3"/></linearGradient><linearGradient id="gC3" x1="407.0" x2="547.2" y1="0" y2="0" gradientUnits="userSpaceOnUse"><stop offset="0.036" stop-color="#2489d2"/><stop offset="0.107" stop-color="#2980c6"/><stop offset="0.179" stop-color="#2873ba"/><stop offset="0.250" stop-color="#1f79c4"/><stop offset="0.321" stop-color="#2e90d4"/><stop offset="0.393" stop-color="#56a4d4"/><stop offset="0.464" stop-color="#3d98d7"/><stop offset="0.536" stop-color="#56a4d4"/><stop offset="0.607" stop-color="#69a8b7"/><stop offset="0.679" stop-color="#69a8b7"/><stop offset="0.750" stop-color="#56a4d4"/><stop offset="0.821" stop-color="#56a4d4"/><stop offset="0.893" stop-color="#69a8b7"/><stop offset="0.964" stop-color="#2e90d4"/></linearGradient><linearGradient id="gC4" x1="407.0" x2="547.2" y1="0" y2="0" gradientUnits="userSpaceOnUse"><stop offset="0.036" stop-color="#2489d2"/><stop offset="0.107" stop-color="#318cce"/><stop offset="0.179" stop-color="#3183c6"/><stop offset="0.250" stop-color="#2180ca"/><stop offset="0.321" stop-color="#3495d6"/><stop offset="0.393" stop-color="#77b5d4"/><stop offset="0.464" stop-color="#4da3db"/><stop offset="0.536" stop-color="#77b5d4"/><stop offset="0.607" stop-color="#97bda5"/><stop offset="0.679" stop-color="#97bda5"/><stop offset="0.750" stop-color="#77b5d4"/><stop offset="0.821" stop-color="#77b5d4"/><stop offset="0.893" stop-color="#97bda5"/><stop offset="0.964" stop-color="#3495d6"/></linearGradient><linearGradient id="gC5" x1="407.0" x2="547.2" y1="0" y2="0" gradientUnits="userSpaceOnUse"><stop offset="0.036" stop-color="#2489d2"/><stop offset="0.107" stop-color="#3a96d4"/><stop offset="0.179" stop-color="#3a94d2"/><stop offset="0.250" stop-color="#2386cf"/><stop offset="0.321" stop-color="#3b9ad7"/><stop offset="0.393" stop-color="#98c7d6"/><stop offset="0.464" stop-color="#5eadde"/><stop offset="0.536" stop-color="#98c7d6"/><stop offset="0.607" stop-color="#c5d293"/><stop offset="0.679" stop-color="#c5d293"/><stop offset="0.750" stop-color="#98c7d6"/><stop offset="0.821" stop-color="#98c7d6"/><stop offset="0.893" stop-color="#c5d293"/><stop offset="0.964" stop-color="#3b9ad7"/></linearGradient><linearGradient id="gC6" x1="407.0" x2="547.2" y1="0" y2="0" gradientUnits="userSpaceOnUse"><stop offset="0.036" stop-color="#2386cf"/><stop offset="0.107" stop-color="#3b9ad7"/><stop offset="0.179" stop-color="#3b9ad7"/><stop offset="0.250" stop-color="#2489d2"/><stop offset="0.321" stop-color="#3b9ad7"/><stop offset="0.393" stop-color="#98c7d6"/><stop offset="0.464" stop-color="#5eadde"/><stop offset="0.536" stop-color="#9ccad6"/><stop offset="0.607" stop-color="#cdd795"/><stop offset="0.679" stop-color="#c8d494"/><stop offset="0.750" stop-color="#a9d0d6"/><stop offset="0.821" stop-color="#a1ccd7"/><stop offset="0.893" stop-color="#d6da94"/><stop offset="0.964" stop-color="#3b9ad7"/></linearGradient><linearGradient id="gC7" x1="407.0" x2="547.2" y1="0" y2="0" gradientUnits="userSpaceOnUse"><stop offset="0.036" stop-color="#2180ca"/><stop offset="0.107" stop-color="#3495d6"/><stop offset="0.179" stop-color="#3495d6"/><stop offset="0.250" stop-color="#2489d2"/><stop offset="0.321" stop-color="#3495d6"/><stop offset="0.393" stop-color="#77b5d4"/><stop offset="0.464" stop-color="#4da3db"/><stop offset="0.536" stop-color="#81bcd7"/><stop offset="0.607" stop-color="#b0ccaa"/><stop offset="0.679" stop-color="#a1c4a7"/><stop offset="0.750" stop-color="#a9d0d6"/><stop offset="0.821" stop-color="#90c5da"/><stop offset="0.893" stop-color="#c9d8a6"/><stop offset="0.964" stop-color="#3495d6"/></linearGradient><linearGradient id="gC8" x1="407.0" x2="547.2" y1="0" y2="0" gradientUnits="userSpaceOnUse"><stop offset="0.036" stop-color="#1f79c4"/><stop offset="0.107" stop-color="#2e90d4"/><stop offset="0.179" stop-color="#2e90d4"/><stop offset="0.250" stop-color="#2489d2"/><stop offset="0.321" stop-color="#2e90d4"/><stop offset="0.393" stop-color="#56a4d4"/><stop offset="0.464" stop-color="#3d98d7"/><stop offset="0.536" stop-color="#66b0d7"/><stop offset="0.607" stop-color="#92c2c0"/><stop offset="0.679" stop-color="#79b4bb"/><stop offset="0.750" stop-color="#a9d0d6"/><stop offset="0.821" stop-color="#7fbddc"/><stop offset="0.893" stop-color="#bcd4ba"/><stop offset="0.964" stop-color="#2e90d4"/></linearGradient><linearGradient id="gC9" x1="407.0" x2="547.2" y1="0" y2="0" gradientUnits="userSpaceOnUse"><stop offset="0.036" stop-color="#1d73bf"/><stop offset="0.107" stop-color="#278bd3"/><stop offset="0.179" stop-color="#278bd3"/><stop offset="0.250" stop-color="#2489d2"/><stop offset="0.321" stop-color="#278bd3"/><stop offset="0.393" stop-color="#3592d2"/><stop offset="0.464" stop-color="#2c8ed4"/><stop offset="0.536" stop-color="#4ba2d8"/><stop offset="0.607" stop-color="#75b7d5"/><stop offset="0.679" stop-color="#52a4ce"/><stop offset="0.750" stop-color="#a9d0d6"/><stop offset="0.821" stop-color="#6eb6df"/><stop offset="0.893" stop-color="#afd2cc"/><stop offset="0.964" stop-color="#278bd3"/></linearGradient><linearGradient id="gC10" x1="407.0" x2="547.2" y1="0" y2="0" gradientUnits="userSpaceOnUse"><stop offset="0.036" stop-color="#387aa6"/><stop offset="0.107" stop-color="#2489d2"/><stop offset="0.179" stop-color="#3b93c9"/><stop offset="0.250" stop-color="#3592d2"/><stop offset="0.321" stop-color="#3592d2"/><stop offset="0.393" stop-color="#3b93c9"/><stop offset="0.464" stop-color="#3592d2"/><stop offset="0.536" stop-color="#54a4c7"/><stop offset="0.607" stop-color="#77b7ce"/><stop offset="0.679" stop-color="#55a4c0"/><stop offset="0.750" stop-color="#afd2cc"/><stop offset="0.821" stop-color="#78b7c6"/><stop offset="0.893" stop-color="#a9d0d6"/><stop offset="0.964" stop-color="#2489d2"/></linearGradient><linearGradient id="gC11" x1="407.0" x2="547.2" y1="0" y2="0" gradientUnits="userSpaceOnUse"><stop offset="0.036" stop-color="#6e8e7c"/><stop offset="0.107" stop-color="#2489d2"/><stop offset="0.179" stop-color="#69a8b7"/><stop offset="0.250" stop-color="#56a4d4"/><stop offset="0.321" stop-color="#56a4d4"/><stop offset="0.393" stop-color="#69a8b7"/><stop offset="0.464" stop-color="#56a4d4"/><stop offset="0.536" stop-color="#80b4a5"/><stop offset="0.607" stop-color="#99c2aa"/><stop offset="0.679" stop-color="#84b38e"/><stop offset="0.750" stop-color="#bcd4ba"/><stop offset="0.821" stop-color="#9dc194"/><stop offset="0.893" stop-color="#a9d0d6"/><stop offset="0.964" stop-color="#2489d2"/></linearGradient><linearGradient id="gC12" x1="407.0" x2="547.2" y1="0" y2="0" gradientUnits="userSpaceOnUse"><stop offset="0.036" stop-color="#a6a250"/><stop offset="0.107" stop-color="#2489d2"/><stop offset="0.179" stop-color="#97bda5"/><stop offset="0.250" stop-color="#77b5d4"/><stop offset="0.321" stop-color="#77b5d4"/><stop offset="0.393" stop-color="#97bda5"/><stop offset="0.464" stop-color="#77b5d4"/><stop offset="0.536" stop-color="#acc483"/><stop offset="0.607" stop-color="#bbcc86"/><stop offset="0.679" stop-color="#b2c35e"/><stop offset="0.750" stop-color="#c9d8a6"/><stop offset="0.821" stop-color="#c1cb60"/><stop offset="0.893" stop-color="#a9d0d6"/><stop offset="0.964" stop-color="#2489d2"/></linearGradient><linearGradient id="gC13" x1="407.0" x2="547.2" y1="0" y2="0" gradientUnits="userSpaceOnUse"><stop offset="0.036" stop-color="#dcb626"/><stop offset="0.107" stop-color="#2489d2"/><stop offset="0.179" stop-color="#c5d293"/><stop offset="0.250" stop-color="#98c7d6"/><stop offset="0.321" stop-color="#98c7d6"/><stop offset="0.393" stop-color="#c5d293"/><stop offset="0.464" stop-color="#98c7d6"/><stop offset="0.536" stop-color="#d8d461"/><stop offset="0.607" stop-color="#ddd762"/><stop offset="0.679" stop-color="#e1d22c"/><stop offset="0.750" stop-color="#d6da94"/><stop offset="0.821" stop-color="#e6d52e"/><stop offset="0.893" stop-color="#a9d0d6"/><stop offset="0.964" stop-color="#2489d2"/></linearGradient><linearGradient id="gC14" x1="407.0" x2="547.2" y1="0" y2="0" gradientUnits="userSpaceOnUse"><stop offset="0.036" stop-color="#f8c010"/><stop offset="0.107" stop-color="#3e90ba"/><stop offset="0.179" stop-color="#e0d87b"/><stop offset="0.250" stop-color="#b3cebd"/><stop offset="0.321" stop-color="#b3cebd"/><stop offset="0.393" stop-color="#e0d87b"/><stop offset="0.464" stop-color="#b3cebd"/><stop offset="0.536" stop-color="#efdc48"/><stop offset="0.607" stop-color="#eedc50"/><stop offset="0.679" stop-color="#f4da23"/><stop offset="0.750" stop-color="#d6da94"/><stop offset="0.821" stop-color="#f8d714"/><stop offset="0.893" stop-color="#afd2cc"/><stop offset="0.964" stop-color="#2489d2"/></linearGradient><linearGradient id="gC15" x1="407.0" x2="547.2" y1="0" y2="0" gradientUnits="userSpaceOnUse"><stop offset="0.036" stop-color="#f8c010"/><stop offset="0.107" stop-color="#749e89"/><stop offset="0.179" stop-color="#e6d25c"/><stop offset="0.250" stop-color="#c7ca8c"/><stop offset="0.321" stop-color="#c7ca8c"/><stop offset="0.393" stop-color="#e6d25c"/><stop offset="0.464" stop-color="#c7ca8c"/><stop offset="0.536" stop-color="#f2db3a"/><stop offset="0.607" stop-color="#eedc50"/><stop offset="0.679" stop-color="#eedb40"/><stop offset="0.750" stop-color="#c9d8a6"/><stop offset="0.821" stop-color="#f8d012"/><stop offset="0.893" stop-color="#bcd4ba"/><stop offset="0.964" stop-color="#2489d2"/></linearGradient><linearGradient id="gC16" x1="407.0" x2="547.2" y1="0" y2="0" gradientUnits="userSpaceOnUse"><stop offset="0.036" stop-color="#f8c010"/><stop offset="0.107" stop-color="#a8ab59"/><stop offset="0.179" stop-color="#eeca3e"/><stop offset="0.250" stop-color="#dac65a"/><stop offset="0.321" stop-color="#dac65a"/><stop offset="0.393" stop-color="#eeca3e"/><stop offset="0.464" stop-color="#dac65a"/><stop offset="0.536" stop-color="#f4db2a"/><stop offset="0.607" stop-color="#eedc50"/><stop offset="0.679" stop-color="#e6db5e"/><stop offset="0.750" stop-color="#bcd4ba"/><stop offset="0.821" stop-color="#f8ca12"/><stop offset="0.893" stop-color="#c9d8a6"/><stop offset="0.964" stop-color="#2489d2"/></linearGradient><linearGradient id="gC17" x1="407.0" x2="547.2" y1="0" y2="0" gradientUnits="userSpaceOnUse"><stop offset="0.036" stop-color="#f8c010"/><stop offset="0.107" stop-color="#deb928"/><stop offset="0.179" stop-color="#f4c41f"/><stop offset="0.250" stop-color="#eec229"/><stop offset="0.321" stop-color="#eec229"/><stop offset="0.393" stop-color="#f4c41f"/><stop offset="0.464" stop-color="#eec229"/><stop offset="0.536" stop-color="#f7da1c"/><stop offset="0.607" stop-color="#eedc50"/><stop offset="0.679" stop-color="#e0dc7b"/><stop offset="0.750" stop-color="#afd2cc"/><stop offset="0.821" stop-color="#f8c310"/><stop offset="0.893" stop-color="#d6da94"/><stop offset="0.964" stop-color="#2489d2"/></linearGradient><linearGradient id="gC18" x1="407.0" x2="547.2" y1="0" y2="0" gradientUnits="userSpaceOnUse"><stop offset="0.036" stop-color="#f7b411"/><stop offset="0.107" stop-color="#f8bc10"/><stop offset="0.179" stop-color="#f8bc10"/><stop offset="0.250" stop-color="#f8bc10"/><stop offset="0.321" stop-color="#f8bc10"/><stop offset="0.393" stop-color="#f8bc10"/><stop offset="0.464" stop-color="#f8bc10"/><stop offset="0.536" stop-color="#f8d714"/><stop offset="0.607" stop-color="#efdc48"/><stop offset="0.679" stop-color="#e0dc7b"/><stop offset="0.750" stop-color="#afd2cc"/><stop offset="0.821" stop-color="#f8c310"/><stop offset="0.893" stop-color="#d6da94"/><stop offset="0.964" stop-color="#2489d2"/></linearGradient><linearGradient id="gC19" x1="407.0" x2="547.2" y1="0" y2="0" gradientUnits="userSpaceOnUse"><stop offset="0.036" stop-color="#f59c14"/><stop offset="0.107" stop-color="#f8b411"/><stop offset="0.179" stop-color="#f8b411"/><stop offset="0.250" stop-color="#f8b411"/><stop offset="0.321" stop-color="#f8b411"/><stop offset="0.393" stop-color="#f8b411"/><stop offset="0.464" stop-color="#f8b411"/><stop offset="0.536" stop-color="#f8d012"/><stop offset="0.607" stop-color="#f2db3a"/><stop offset="0.679" stop-color="#e6db5e"/><stop offset="0.750" stop-color="#bcd4ba"/><stop offset="0.821" stop-color="#f8ca12"/><stop offset="0.893" stop-color="#c9d8a6"/><stop offset="0.964" stop-color="#2489d2"/></linearGradient><linearGradient id="gC20" x1="407.0" x2="547.2" y1="0" y2="0" gradientUnits="userSpaceOnUse"><stop offset="0.036" stop-color="#f38416"/><stop offset="0.107" stop-color="#f8ac11"/><stop offset="0.179" stop-color="#f8ac11"/><stop offset="0.250" stop-color="#f8ac11"/><stop offset="0.321" stop-color="#f8ac11"/><stop offset="0.393" stop-color="#f8ac11"/><stop offset="0.464" stop-color="#f8ac11"/><stop offset="0.536" stop-color="#f8ca12"/><stop offset="0.607" stop-color="#f4db2a"/><stop offset="0.679" stop-color="#eedb40"/><stop offset="0.750" stop-color="#c9d8a6"/><stop offset="0.821" stop-color="#f8d012"/><stop offset="0.893" stop-color="#bcd4ba"/><stop offset="0.964" stop-color="#2489d2"/></linearGradient><linearGradient id="gC21" x1="407.0" x2="547.2" y1="0" y2="0" gradientUnits="userSpaceOnUse"><stop offset="0.036" stop-color="#f16c19"/><stop offset="0.107" stop-color="#f8a412"/><stop offset="0.179" stop-color="#f8a412"/><stop offset="0.250" stop-color="#f8a412"/><stop offset="0.321" stop-color="#f8a412"/><stop offset="0.393" stop-color="#f8a412"/><stop offset="0.464" stop-color="#f8a412"/><stop offset="0.536" stop-color="#f8c310"/><stop offset="0.607" stop-color="#f7da1c"/><stop offset="0.679" stop-color="#f4da23"/><stop offset="0.750" stop-color="#d6da94"/><stop offset="0.821" stop-color="#f8d714"/><stop offset="0.893" stop-color="#afd2cc"/><stop offset="0.964" stop-color="#2489d2"/></linearGradient><linearGradient id="gC22" x1="407.0" x2="547.2" y1="0" y2="0" gradientUnits="userSpaceOnUse"><stop offset="0.036" stop-color="#ec561a"/><stop offset="0.107" stop-color="#f79813"/><stop offset="0.179" stop-color="#f79813"/><stop offset="0.250" stop-color="#f8a012"/><stop offset="0.321" stop-color="#f79813"/><stop offset="0.393" stop-color="#f8a012"/><stop offset="0.464" stop-color="#f8a012"/><stop offset="0.536" stop-color="#f8bc10"/><stop offset="0.607" stop-color="#f8da14"/><stop offset="0.679" stop-color="#f8da14"/><stop offset="0.750" stop-color="#dcdc8a"/><stop offset="0.821" stop-color="#f4da23"/><stop offset="0.893" stop-color="#a9d0d6"/><stop offset="0.964" stop-color="#2489d2"/></linearGradient><linearGradient id="gC23" x1="407.0" x2="547.2" y1="0" y2="0" gradientUnits="userSpaceOnUse"><stop offset="0.036" stop-color="#e6441a"/><stop offset="0.107" stop-color="#f58815"/><stop offset="0.179" stop-color="#f58815"/><stop offset="0.250" stop-color="#f8a012"/><stop offset="0.321" stop-color="#f58815"/><stop offset="0.393" stop-color="#f8a012"/><stop offset="0.464" stop-color="#f8a012"/><stop offset="0.536" stop-color="#f8b411"/><stop offset="0.607" stop-color="#f8da14"/><stop offset="0.679" stop-color="#f8da14"/><stop offset="0.750" stop-color="#dcdc8a"/><stop offset="0.821" stop-color="#eedb40"/><stop offset="0.893" stop-color="#a9d0d6"/><stop offset="0.964" stop-color="#2489d2"/></linearGradient><linearGradient id="gC24" x1="407.0" x2="547.2" y1="0" y2="0" gradientUnits="userSpaceOnUse"><stop offset="0.036" stop-color="#de301a"/><stop offset="0.107" stop-color="#f37817"/><stop offset="0.179" stop-color="#f37817"/><stop offset="0.250" stop-color="#f8a012"/><stop offset="0.321" stop-color="#f37817"/><stop offset="0.393" stop-color="#f8a012"/><stop offset="0.464" stop-color="#f8a012"/><stop offset="0.536" stop-color="#f8ac11"/><stop offset="0.607" stop-color="#f8da14"/><stop offset="0.679" stop-color="#f8da14"/><stop offset="0.750" stop-color="#dcdc8a"/><stop offset="0.821" stop-color="#e6db5e"/><stop offset="0.893" stop-color="#a9d0d6"/><stop offset="0.964" stop-color="#2489d2"/></linearGradient><linearGradient id="gC25" x1="407.0" x2="547.2" y1="0" y2="0" gradientUnits="userSpaceOnUse"><stop offset="0.036" stop-color="#d81e1a"/><stop offset="0.107" stop-color="#f16819"/><stop offset="0.179" stop-color="#f16819"/><stop offset="0.250" stop-color="#f8a012"/><stop offset="0.321" stop-color="#f16819"/><stop offset="0.393" stop-color="#f8a012"/><stop offset="0.464" stop-color="#f8a012"/><stop offset="0.536" stop-color="#f8a412"/><stop offset="0.607" stop-color="#f8da14"/><stop offset="0.679" stop-color="#f8da14"/><stop offset="0.750" stop-color="#dcdc8a"/><stop offset="0.821" stop-color="#e0dc7b"/><stop offset="0.893" stop-color="#a9d0d6"/><stop offset="0.964" stop-color="#2489d2"/></linearGradient><linearGradient id="gC26" x1="407.0" x2="547.2" y1="0" y2="0" gradientUnits="userSpaceOnUse"><stop offset="0.036" stop-color="#d4141a"/><stop offset="0.107" stop-color="#ec561a"/><stop offset="0.179" stop-color="#f0601a"/><stop offset="0.250" stop-color="#f38e13"/><stop offset="0.321" stop-color="#ec561a"/><stop offset="0.393" stop-color="#f79813"/><stop offset="0.464" stop-color="#f79813"/><stop offset="0.536" stop-color="#f79813"/><stop offset="0.607" stop-color="#f8d314"/><stop offset="0.679" stop-color="#f8da14"/><stop offset="0.750" stop-color="#dcdc8a"/><stop offset="0.821" stop-color="#dcdc8a"/><stop offset="0.893" stop-color="#b3d1be"/><stop offset="0.964" stop-color="#2489d2"/></linearGradient><linearGradient id="gC27" x1="407.0" x2="547.2" y1="0" y2="0" gradientUnits="userSpaceOnUse"><stop offset="0.036" stop-color="#d4141a"/><stop offset="0.107" stop-color="#e6441a"/><stop offset="0.179" stop-color="#f0601a"/><stop offset="0.250" stop-color="#ea6c15"/><stop offset="0.321" stop-color="#e6441a"/><stop offset="0.393" stop-color="#f58815"/><stop offset="0.464" stop-color="#f58815"/><stop offset="0.536" stop-color="#f58815"/><stop offset="0.607" stop-color="#f8c413"/><stop offset="0.679" stop-color="#f8da14"/><stop offset="0.750" stop-color="#dcdc8a"/><stop offset="0.821" stop-color="#dcdc8a"/><stop offset="0.893" stop-color="#c7d48d"/><stop offset="0.964" stop-color="#2489d2"/></linearGradient><linearGradient id="gC28" x1="407.0" x2="547.2" y1="0" y2="0" gradientUnits="userSpaceOnUse"><stop offset="0.036" stop-color="#d4141a"/><stop offset="0.107" stop-color="#de301a"/><stop offset="0.179" stop-color="#f0601a"/><stop offset="0.250" stop-color="#e24817"/><stop offset="0.321" stop-color="#de301a"/><stop offset="0.393" stop-color="#f37817"/><stop offset="0.464" stop-color="#f37817"/><stop offset="0.536" stop-color="#f37817"/><stop offset="0.607" stop-color="#f8b613"/><stop offset="0.679" stop-color="#f8da14"/><stop offset="0.750" stop-color="#dcdc8a"/><stop offset="0.821" stop-color="#dcdc8a"/><stop offset="0.893" stop-color="#dad65d"/><stop offset="0.964" stop-color="#2489d2"/></linearGradient><linearGradient id="gC29" x1="407.0" x2="547.2" y1="0" y2="0" gradientUnits="userSpaceOnUse"><stop offset="0.036" stop-color="#d4141a"/><stop offset="0.107" stop-color="#d81e1a"/><stop offset="0.179" stop-color="#f0601a"/><stop offset="0.250" stop-color="#d92619"/><stop offset="0.321" stop-color="#d81e1a"/><stop offset="0.393" stop-color="#f16819"/><stop offset="0.464" stop-color="#f16819"/><stop offset="0.536" stop-color="#f16819"/><stop offset="0.607" stop-color="#f8a712"/><stop offset="0.679" stop-color="#f8da14"/><stop offset="0.750" stop-color="#dcdc8a"/><stop offset="0.821" stop-color="#dcdc8a"/><stop offset="0.893" stop-color="#eed92c"/><stop offset="0.964" stop-color="#2489d2"/></linearGradient><linearGradient id="gC30" x1="407.0" x2="547.2" y1="0" y2="0" gradientUnits="userSpaceOnUse"><stop offset="0.036" stop-color="#d4141a"/><stop offset="0.107" stop-color="#d4141a"/><stop offset="0.179" stop-color="#ec561a"/><stop offset="0.250" stop-color="#d4141a"/><stop offset="0.321" stop-color="#d4141a"/><stop offset="0.393" stop-color="#f0601a"/><stop offset="0.464" stop-color="#ee5b1a"/><stop offset="0.536" stop-color="#f0601a"/><stop offset="0.607" stop-color="#f8a012"/><stop offset="0.679" stop-color="#f8d713"/><stop offset="0.750" stop-color="#e0dc7b"/><stop offset="0.821" stop-color="#dedc83"/><stop offset="0.893" stop-color="#e1d22d"/><stop offset="0.964" stop-color="#2489d2"/></linearGradient><linearGradient id="gC31" x1="407.0" x2="547.2" y1="0" y2="0" gradientUnits="userSpaceOnUse"><stop offset="0.036" stop-color="#d4141a"/><stop offset="0.107" stop-color="#d4141a"/><stop offset="0.179" stop-color="#e6441a"/><stop offset="0.250" stop-color="#d4141a"/><stop offset="0.321" stop-color="#d4141a"/><stop offset="0.393" stop-color="#f0601a"/><stop offset="0.464" stop-color="#ec521a"/><stop offset="0.536" stop-color="#f0601a"/><stop offset="0.607" stop-color="#f8a012"/><stop offset="0.679" stop-color="#f8d012"/><stop offset="0.750" stop-color="#e6db5e"/><stop offset="0.821" stop-color="#e3dc74"/><stop offset="0.893" stop-color="#b2c35e"/><stop offset="0.964" stop-color="#2489d2"/></linearGradient><linearGradient id="gC32" x1="407.0" x2="547.2" y1="0" y2="0" gradientUnits="userSpaceOnUse"><stop offset="0.036" stop-color="#d4141a"/><stop offset="0.107" stop-color="#d4141a"/><stop offset="0.179" stop-color="#de301a"/><stop offset="0.250" stop-color="#d4141a"/><stop offset="0.321" stop-color="#d4141a"/><stop offset="0.393" stop-color="#f0601a"/><stop offset="0.464" stop-color="#e84a1a"/><stop offset="0.536" stop-color="#f0601a"/><stop offset="0.607" stop-color="#f8a012"/><stop offset="0.679" stop-color="#f8ca12"/><stop offset="0.750" stop-color="#eedb40"/><stop offset="0.821" stop-color="#e7dc66"/><stop offset="0.893" stop-color="#84b38e"/><stop offset="0.964" stop-color="#2489d2"/></linearGradient><linearGradient id="gC33" x1="407.0" x2="547.2" y1="0" y2="0" gradientUnits="userSpaceOnUse"><stop offset="0.036" stop-color="#d4141a"/><stop offset="0.107" stop-color="#d4141a"/><stop offset="0.179" stop-color="#d81e1a"/><stop offset="0.250" stop-color="#d4141a"/><stop offset="0.321" stop-color="#d4141a"/><stop offset="0.393" stop-color="#f0601a"/><stop offset="0.464" stop-color="#e6401a"/><stop offset="0.536" stop-color="#f0601a"/><stop offset="0.607" stop-color="#f8a012"/><stop offset="0.679" stop-color="#f8c310"/><stop offset="0.750" stop-color="#f4da23"/><stop offset="0.821" stop-color="#ecdc57"/><stop offset="0.893" stop-color="#55a4c0"/><stop offset="0.964" stop-color="#2489d2"/></linearGradient><linearGradient id="gC34" x1="407.0" x2="547.2" y1="0" y2="0" gradientUnits="userSpaceOnUse"><stop offset="0.036" stop-color="#d4141a"/><stop offset="0.107" stop-color="#d4141a"/><stop offset="0.179" stop-color="#d4141a"/><stop offset="0.250" stop-color="#d4141a"/><stop offset="0.321" stop-color="#d4141a"/><stop offset="0.393" stop-color="#ec561a"/><stop offset="0.464" stop-color="#e2371a"/><stop offset="0.536" stop-color="#f0601a"/><stop offset="0.607" stop-color="#f8a012"/><stop offset="0.679" stop-color="#f8c010"/><stop offset="0.750" stop-color="#f7da1c"/><stop offset="0.821" stop-color="#e5da61"/><stop offset="0.893" stop-color="#3e9cd8"/><stop offset="0.964" stop-color="#2489d2"/></linearGradient><linearGradient id="gC35" x1="407.0" x2="547.2" y1="0" y2="0" gradientUnits="userSpaceOnUse"><stop offset="0.036" stop-color="#d4141a"/><stop offset="0.107" stop-color="#d4141a"/><stop offset="0.179" stop-color="#d4141a"/><stop offset="0.250" stop-color="#d4141a"/><stop offset="0.321" stop-color="#d4141a"/><stop offset="0.393" stop-color="#e6441a"/><stop offset="0.464" stop-color="#de2d1a"/><stop offset="0.536" stop-color="#f0601a"/><stop offset="0.607" stop-color="#f8a012"/><stop offset="0.679" stop-color="#f8c010"/><stop offset="0.750" stop-color="#f4db2a"/><stop offset="0.821" stop-color="#d4d882"/><stop offset="0.893" stop-color="#3e9cd8"/><stop offset="0.964" stop-color="#2489d2"/></linearGradient><linearGradient id="gC36" x1="407.0" x2="547.2" y1="0" y2="0" gradientUnits="userSpaceOnUse"><stop offset="0.036" stop-color="#d4141a"/><stop offset="0.107" stop-color="#d4141a"/><stop offset="0.179" stop-color="#d4141a"/><stop offset="0.250" stop-color="#d4141a"/><stop offset="0.321" stop-color="#d4141a"/><stop offset="0.393" stop-color="#de301a"/><stop offset="0.464" stop-color="#da231a"/><stop offset="0.536" stop-color="#f0601a"/><stop offset="0.607" stop-color="#f8a012"/><stop offset="0.679" stop-color="#f8c010"/><stop offset="0.750" stop-color="#f2db3a"/><stop offset="0.821" stop-color="#c3d4a4"/><stop offset="0.893" stop-color="#3e9cd8"/><stop offset="0.964" stop-color="#2489d2"/></linearGradient><linearGradient id="gC37" x1="407.0" x2="547.2" y1="0" y2="0" gradientUnits="userSpaceOnUse"><stop offset="0.036" stop-color="#d4141a"/><stop offset="0.107" stop-color="#d4141a"/><stop offset="0.179" stop-color="#d4141a"/><stop offset="0.250" stop-color="#d4141a"/><stop offset="0.321" stop-color="#d4141a"/><stop offset="0.393" stop-color="#d81e1a"/><stop offset="0.464" stop-color="#d6191a"/><stop offset="0.536" stop-color="#f0601a"/><stop offset="0.607" stop-color="#f8a012"/><stop offset="0.679" stop-color="#f8c010"/><stop offset="0.750" stop-color="#efdc48"/><stop offset="0.821" stop-color="#b2d2c5"/><stop offset="0.893" stop-color="#3e9cd8"/><stop offset="0.964" stop-color="#2489d2"/></linearGradient><linearGradient id="gC38" x1="407.0" x2="547.2" y1="0" y2="0" gradientUnits="userSpaceOnUse"><stop offset="0.036" stop-color="#d4141a"/><stop offset="0.107" stop-color="#d4141a"/><stop offset="0.179" stop-color="#d4141a"/><stop offset="0.250" stop-color="#d4141a"/><stop offset="0.321" stop-color="#d4141a"/><stop offset="0.393" stop-color="#d4141a"/><stop offset="0.464" stop-color="#d4141a"/><stop offset="0.536" stop-color="#ee5c1a"/><stop offset="0.607" stop-color="#f8a012"/><stop offset="0.679" stop-color="#f8c010"/><stop offset="0.750" stop-color="#efdc48"/><stop offset="0.821" stop-color="#a1ccd7"/><stop offset="0.893" stop-color="#3b9ad7"/><stop offset="0.964" stop-color="#2489d2"/></linearGradient><linearGradient id="gC39" x1="407.0" x2="547.2" y1="0" y2="0" gradientUnits="userSpaceOnUse"><stop offset="0.036" stop-color="#d4141a"/><stop offset="0.107" stop-color="#d4141a"/><stop offset="0.179" stop-color="#d4141a"/><stop offset="0.250" stop-color="#d4141a"/><stop offset="0.321" stop-color="#d4141a"/><stop offset="0.393" stop-color="#d4141a"/><stop offset="0.464" stop-color="#d4141a"/><stop offset="0.536" stop-color="#ec521a"/><stop offset="0.607" stop-color="#f8a012"/><stop offset="0.679" stop-color="#f8c010"/><stop offset="0.750" stop-color="#f2db3a"/><stop offset="0.821" stop-color="#90c5da"/><stop offset="0.893" stop-color="#3495d6"/><stop offset="0.964" stop-color="#2489d2"/></linearGradient><linearGradient id="gC40" x1="407.0" x2="547.2" y1="0" y2="0" gradientUnits="userSpaceOnUse"><stop offset="0.036" stop-color="#d4141a"/><stop offset="0.107" stop-color="#d4141a"/><stop offset="0.179" stop-color="#d4141a"/><stop offset="0.250" stop-color="#d4141a"/><stop offset="0.321" stop-color="#d4141a"/><stop offset="0.393" stop-color="#d4141a"/><stop offset="0.464" stop-color="#d4141a"/><stop offset="0.536" stop-color="#e84a1a"/><stop offset="0.607" stop-color="#f8a012"/><stop offset="0.679" stop-color="#f8c010"/><stop offset="0.750" stop-color="#f4db2a"/><stop offset="0.821" stop-color="#7fbddc"/><stop offset="0.893" stop-color="#2e90d4"/><stop offset="0.964" stop-color="#2489d2"/></linearGradient><linearGradient id="gC41" x1="407.0" x2="547.2" y1="0" y2="0" gradientUnits="userSpaceOnUse"><stop offset="0.036" stop-color="#d4141a"/><stop offset="0.107" stop-color="#d4141a"/><stop offset="0.179" stop-color="#d4141a"/><stop offset="0.250" stop-color="#d4141a"/><stop offset="0.321" stop-color="#d4141a"/><stop offset="0.393" stop-color="#d4141a"/><stop offset="0.464" stop-color="#d4141a"/><stop offset="0.536" stop-color="#e6401a"/><stop offset="0.607" stop-color="#f8a012"/><stop offset="0.679" stop-color="#f8c010"/><stop offset="0.750" stop-color="#f7da1c"/><stop offset="0.821" stop-color="#6eb6df"/><stop offset="0.893" stop-color="#278bd3"/><stop offset="0.964" stop-color="#2489d2"/></linearGradient><linearGradient id="gC42" x1="407.0" x2="547.2" y1="0" y2="0" gradientUnits="userSpaceOnUse"><stop offset="0.036" stop-color="#d4141a"/><stop offset="0.107" stop-color="#d4141a"/><stop offset="0.179" stop-color="#d4141a"/><stop offset="0.250" stop-color="#d4141a"/><stop offset="0.321" stop-color="#d4141a"/><stop offset="0.393" stop-color="#d4141a"/><stop offset="0.464" stop-color="#d4141a"/><stop offset="0.536" stop-color="#e43c1a"/><stop offset="0.607" stop-color="#f79813"/><stop offset="0.679" stop-color="#f8bc10"/><stop offset="0.750" stop-color="#f4da23"/><stop offset="0.821" stop-color="#6eb6df"/><stop offset="0.893" stop-color="#2489d2"/><stop offset="0.964" stop-color="#2489d2"/></linearGradient><linearGradient id="gC43" x1="407.0" x2="547.2" y1="0" y2="0" gradientUnits="userSpaceOnUse"><stop offset="0.036" stop-color="#d4141a"/><stop offset="0.107" stop-color="#d4141a"/><stop offset="0.179" stop-color="#d4141a"/><stop offset="0.250" stop-color="#d4141a"/><stop offset="0.321" stop-color="#d4141a"/><stop offset="0.393" stop-color="#d4141a"/><stop offset="0.464" stop-color="#d4141a"/><stop offset="0.536" stop-color="#e43c1a"/><stop offset="0.607" stop-color="#f58815"/><stop offset="0.679" stop-color="#f8b411"/><stop offset="0.750" stop-color="#eedb40"/><stop offset="0.821" stop-color="#7fbddc"/><stop offset="0.893" stop-color="#2489d2"/><stop offset="0.964" stop-color="#2489d2"/></linearGradient><linearGradient id="gC44" x1="407.0" x2="547.2" y1="0" y2="0" gradientUnits="userSpaceOnUse"><stop offset="0.036" stop-color="#d4141a"/><stop offset="0.107" stop-color="#d4141a"/><stop offset="0.179" stop-color="#d4141a"/><stop offset="0.250" stop-color="#d4141a"/><stop offset="0.321" stop-color="#d4141a"/><stop offset="0.393" stop-color="#d4141a"/><stop offset="0.464" stop-color="#d4141a"/><stop offset="0.536" stop-color="#e43c1a"/><stop offset="0.607" stop-color="#f37817"/><stop offset="0.679" stop-color="#f8ac11"/><stop offset="0.750" stop-color="#e6db5e"/><stop offset="0.821" stop-color="#90c5da"/><stop offset="0.893" stop-color="#2489d2"/><stop offset="0.964" stop-color="#2489d2"/></linearGradient><linearGradient id="gC45" x1="407.0" x2="547.2" y1="0" y2="0" gradientUnits="userSpaceOnUse"><stop offset="0.036" stop-color="#d4141a"/><stop offset="0.107" stop-color="#d4141a"/><stop offset="0.179" stop-color="#d4141a"/><stop offset="0.250" stop-color="#d4141a"/><stop offset="0.321" stop-color="#d4141a"/><stop offset="0.393" stop-color="#d4141a"/><stop offset="0.464" stop-color="#d4141a"/><stop offset="0.536" stop-color="#e43c1a"/><stop offset="0.607" stop-color="#f16819"/><stop offset="0.679" stop-color="#f8a412"/><stop offset="0.750" stop-color="#e0dc7b"/><stop offset="0.821" stop-color="#a1ccd7"/><stop offset="0.893" stop-color="#2489d2"/><stop offset="0.964" stop-color="#2489d2"/></linearGradient><linearGradient id="gC46" x1="407.0" x2="547.2" y1="0" y2="0" gradientUnits="userSpaceOnUse"><stop offset="0.036" stop-color="#d4141a"/><stop offset="0.107" stop-color="#d4141a"/><stop offset="0.179" stop-color="#d4141a"/><stop offset="0.250" stop-color="#d4141a"/><stop offset="0.321" stop-color="#d4141a"/><stop offset="0.393" stop-color="#d4141a"/><stop offset="0.464" stop-color="#d4141a"/><stop offset="0.536" stop-color="#e43c1a"/><stop offset="0.607" stop-color="#f0601a"/><stop offset="0.679" stop-color="#f8a012"/><stop offset="0.750" stop-color="#cdd795"/><stop offset="0.821" stop-color="#9ccad6"/><stop offset="0.893" stop-color="#2489d2"/><stop offset="0.964" stop-color="#2489d2"/></linearGradient><linearGradient id="gC47" x1="407.0" x2="547.2" y1="0" y2="0" gradientUnits="userSpaceOnUse"><stop offset="0.036" stop-color="#d4141a"/><stop offset="0.107" stop-color="#d4141a"/><stop offset="0.179" stop-color="#d4141a"/><stop offset="0.250" stop-color="#d4141a"/><stop offset="0.321" stop-color="#d4141a"/><stop offset="0.393" stop-color="#d4141a"/><stop offset="0.464" stop-color="#d4141a"/><stop offset="0.536" stop-color="#e43c1a"/><stop offset="0.607" stop-color="#f0601a"/><stop offset="0.679" stop-color="#f8a012"/><stop offset="0.750" stop-color="#b0ccaa"/><stop offset="0.821" stop-color="#81bcd7"/><stop offset="0.893" stop-color="#2489d2"/><stop offset="0.964" stop-color="#2489d2"/></linearGradient><linearGradient id="gC48" x1="407.0" x2="547.2" y1="0" y2="0" gradientUnits="userSpaceOnUse"><stop offset="0.036" stop-color="#d4141a"/><stop offset="0.107" stop-color="#d4141a"/><stop offset="0.179" stop-color="#d4141a"/><stop offset="0.250" stop-color="#d4141a"/><stop offset="0.321" stop-color="#d4141a"/><stop offset="0.393" stop-color="#d4141a"/><stop offset="0.464" stop-color="#d4141a"/><stop offset="0.536" stop-color="#e43c1a"/><stop offset="0.607" stop-color="#f0601a"/><stop offset="0.679" stop-color="#f8a012"/><stop offset="0.750" stop-color="#92c2c0"/><stop offset="0.821" stop-color="#66b0d7"/><stop offset="0.893" stop-color="#2489d2"/><stop offset="0.964" stop-color="#2489d2"/></linearGradient><linearGradient id="gC49" x1="407.0" x2="547.2" y1="0" y2="0" gradientUnits="userSpaceOnUse"><stop offset="0.036" stop-color="#d4141a"/><stop offset="0.107" stop-color="#d4141a"/><stop offset="0.179" stop-color="#d4141a"/><stop offset="0.250" stop-color="#d4141a"/><stop offset="0.321" stop-color="#d4141a"/><stop offset="0.393" stop-color="#d4141a"/><stop offset="0.464" stop-color="#d4141a"/><stop offset="0.536" stop-color="#e43c1a"/><stop offset="0.607" stop-color="#f0601a"/><stop offset="0.679" stop-color="#f8a012"/><stop offset="0.750" stop-color="#75b7d5"/><stop offset="0.821" stop-color="#4ba2d8"/><stop offset="0.893" stop-color="#2489d2"/><stop offset="0.964" stop-color="#2489d2"/></linearGradient><linearGradient id="gC50" x1="407.0" x2="547.2" y1="0" y2="0" gradientUnits="userSpaceOnUse"><stop offset="0.036" stop-color="#d4141a"/><stop offset="0.107" stop-color="#d4141a"/><stop offset="0.179" stop-color="#d4141a"/><stop offset="0.250" stop-color="#d4141a"/><stop offset="0.321" stop-color="#d4141a"/><stop offset="0.393" stop-color="#d4141a"/><stop offset="0.464" stop-color="#d4141a"/><stop offset="0.536" stop-color="#e43c1a"/><stop offset="0.607" stop-color="#f16819"/><stop offset="0.679" stop-color="#f8a412"/><stop offset="0.750" stop-color="#66b2e0"/><stop offset="0.821" stop-color="#3e9cd8"/><stop offset="0.893" stop-color="#2489d2"/><stop offset="0.964" stop-color="#2386cf"/></linearGradient><linearGradient id="gC51" x1="407.0" x2="547.2" y1="0" y2="0" gradientUnits="userSpaceOnUse"><stop offset="0.036" stop-color="#d4141a"/><stop offset="0.107" stop-color="#d4141a"/><stop offset="0.179" stop-color="#d4141a"/><stop offset="0.250" stop-color="#d4141a"/><stop offset="0.321" stop-color="#d4141a"/><stop offset="0.393" stop-color="#d4141a"/><stop offset="0.464" stop-color="#d4141a"/><stop offset="0.536" stop-color="#e43c1a"/><stop offset="0.607" stop-color="#f37817"/><stop offset="0.679" stop-color="#f8ac11"/><stop offset="0.750" stop-color="#66b2e0"/><stop offset="0.821" stop-color="#3e9cd8"/><stop offset="0.893" stop-color="#2489d2"/><stop offset="0.964" stop-color="#2180ca"/></linearGradient><linearGradient id="gC52" x1="407.0" x2="547.2" y1="0" y2="0" gradientUnits="userSpaceOnUse"><stop offset="0.036" stop-color="#d4141a"/><stop offset="0.107" stop-color="#d4141a"/><stop offset="0.179" stop-color="#d4141a"/><stop offset="0.250" stop-color="#d4141a"/><stop offset="0.321" stop-color="#d4141a"/><stop offset="0.393" stop-color="#d4141a"/><stop offset="0.464" stop-color="#d4141a"/><stop offset="0.536" stop-color="#e43c1a"/><stop offset="0.607" stop-color="#f58815"/><stop offset="0.679" stop-color="#f8b411"/><stop offset="0.750" stop-color="#66b2e0"/><stop offset="0.821" stop-color="#3e9cd8"/><stop offset="0.893" stop-color="#2489d2"/><stop offset="0.964" stop-color="#1f79c4"/></linearGradient><linearGradient id="gC53" x1="407.0" x2="547.2" y1="0" y2="0" gradientUnits="userSpaceOnUse"><stop offset="0.036" stop-color="#d4141a"/><stop offset="0.107" stop-color="#d4141a"/><stop offset="0.179" stop-color="#d4141a"/><stop offset="0.250" stop-color="#d4141a"/><stop offset="0.321" stop-color="#d4141a"/><stop offset="0.393" stop-color="#d4141a"/><stop offset="0.464" stop-color="#d4141a"/><stop offset="0.536" stop-color="#e43c1a"/><stop offset="0.607" stop-color="#f79813"/><stop offset="0.679" stop-color="#f8bc10"/><stop offset="0.750" stop-color="#66b2e0"/><stop offset="0.821" stop-color="#3e9cd8"/><stop offset="0.893" stop-color="#2489d2"/><stop offset="0.964" stop-color="#1d73bf"/></linearGradient><linearGradient id="gC54" x1="407.0" x2="547.2" y1="0" y2="0" gradientUnits="userSpaceOnUse"><stop offset="0.036" stop-color="#d4141a"/><stop offset="0.107" stop-color="#d4141a"/><stop offset="0.179" stop-color="#d4141a"/><stop offset="0.250" stop-color="#d4141a"/><stop offset="0.321" stop-color="#d4141a"/><stop offset="0.393" stop-color="#d4141a"/><stop offset="0.464" stop-color="#d4141a"/><stop offset="0.536" stop-color="#e2371a"/><stop offset="0.607" stop-color="#f79813"/><stop offset="0.679" stop-color="#f8c010"/><stop offset="0.750" stop-color="#61afdf"/><stop offset="0.821" stop-color="#3b9ad7"/><stop offset="0.893" stop-color="#2489d2"/><stop offset="0.964" stop-color="#1c70bc"/></linearGradient><linearGradient id="gC55" x1="407.0" x2="547.2" y1="0" y2="0" gradientUnits="userSpaceOnUse"><stop offset="0.036" stop-color="#d4141a"/><stop offset="0.107" stop-color="#d4141a"/><stop offset="0.179" stop-color="#d4141a"/><stop offset="0.250" stop-color="#d4141a"/><stop offset="0.321" stop-color="#d4141a"/><stop offset="0.393" stop-color="#d4141a"/><stop offset="0.464" stop-color="#d4141a"/><stop offset="0.536" stop-color="#de2d1a"/><stop offset="0.607" stop-color="#f58815"/><stop offset="0.679" stop-color="#f8c010"/><stop offset="0.750" stop-color="#57aadd"/><stop offset="0.821" stop-color="#3495d6"/><stop offset="0.893" stop-color="#2489d2"/><stop offset="0.964" stop-color="#1c70bc"/></linearGradient><linearGradient id="gC56" x1="407.0" x2="547.2" y1="0" y2="0" gradientUnits="userSpaceOnUse"><stop offset="0.036" stop-color="#d4141a"/><stop offset="0.107" stop-color="#d4141a"/><stop offset="0.179" stop-color="#d4141a"/><stop offset="0.250" stop-color="#d4141a"/><stop offset="0.321" stop-color="#d4141a"/><stop offset="0.393" stop-color="#d4141a"/><stop offset="0.464" stop-color="#d4141a"/><stop offset="0.536" stop-color="#da231a"/><stop offset="0.607" stop-color="#f37817"/><stop offset="0.679" stop-color="#f8c010"/><stop offset="0.750" stop-color="#4da4db"/><stop offset="0.821" stop-color="#2e90d4"/><stop offset="0.893" stop-color="#2489d2"/><stop offset="0.964" stop-color="#1c70bc"/></linearGradient><linearGradient id="gC57" x1="407.0" x2="547.2" y1="0" y2="0" gradientUnits="userSpaceOnUse"><stop offset="0.036" stop-color="#d4141a"/><stop offset="0.107" stop-color="#d4141a"/><stop offset="0.179" stop-color="#d4141a"/><stop offset="0.250" stop-color="#d4141a"/><stop offset="0.321" stop-color="#d4141a"/><stop offset="0.393" stop-color="#d4141a"/><stop offset="0.464" stop-color="#d4141a"/><stop offset="0.536" stop-color="#d6191a"/><stop offset="0.607" stop-color="#f16819"/><stop offset="0.679" stop-color="#f8c010"/><stop offset="0.750" stop-color="#439fd9"/><stop offset="0.821" stop-color="#278bd3"/><stop offset="0.893" stop-color="#2489d2"/><stop offset="0.964" stop-color="#1c70bc"/></linearGradient><linearGradient id="gC58" x1="407.0" x2="547.2" y1="0" y2="0" gradientUnits="userSpaceOnUse"><stop offset="0.036" stop-color="#d4141a"/><stop offset="0.107" stop-color="#d4141a"/><stop offset="0.179" stop-color="#d4141a"/><stop offset="0.250" stop-color="#d4141a"/><stop offset="0.321" stop-color="#d4141a"/><stop offset="0.393" stop-color="#d4141a"/><stop offset="0.464" stop-color="#d4141a"/><stop offset="0.536" stop-color="#d6191a"/><stop offset="0.607" stop-color="#f16819"/><stop offset="0.679" stop-color="#f8c010"/><stop offset="0.750" stop-color="#3e9cd8"/><stop offset="0.821" stop-color="#2489d2"/><stop offset="0.893" stop-color="#2489d2"/><stop offset="0.964" stop-color="#1d73bf"/></linearGradient><linearGradient id="gC59" x1="407.0" x2="547.2" y1="0" y2="0" gradientUnits="userSpaceOnUse"><stop offset="0.036" stop-color="#d4141a"/><stop offset="0.107" stop-color="#d4141a"/><stop offset="0.179" stop-color="#d4141a"/><stop offset="0.250" stop-color="#d4141a"/><stop offset="0.321" stop-color="#d4141a"/><stop offset="0.393" stop-color="#d4141a"/><stop offset="0.464" stop-color="#d4141a"/><stop offset="0.536" stop-color="#da231a"/><stop offset="0.607" stop-color="#f37817"/><stop offset="0.679" stop-color="#f8c010"/><stop offset="0.750" stop-color="#3e9cd8"/><stop offset="0.821" stop-color="#2489d2"/><stop offset="0.893" stop-color="#2489d2"/><stop offset="0.964" stop-color="#1f79c4"/></linearGradient><linearGradient id="gC60" x1="407.0" x2="547.2" y1="0" y2="0" gradientUnits="userSpaceOnUse"><stop offset="0.036" stop-color="#d4141a"/><stop offset="0.107" stop-color="#d4141a"/><stop offset="0.179" stop-color="#d4141a"/><stop offset="0.250" stop-color="#d4141a"/><stop offset="0.321" stop-color="#d4141a"/><stop offset="0.393" stop-color="#d4141a"/><stop offset="0.464" stop-color="#d4141a"/><stop offset="0.536" stop-color="#de2d1a"/><stop offset="0.607" stop-color="#f58815"/><stop offset="0.679" stop-color="#f8c010"/><stop offset="0.750" stop-color="#3e9cd8"/><stop offset="0.821" stop-color="#2489d2"/><stop offset="0.893" stop-color="#2489d2"/><stop offset="0.964" stop-color="#2180ca"/></linearGradient><linearGradient id="gC61" x1="407.0" x2="547.2" y1="0" y2="0" gradientUnits="userSpaceOnUse"><stop offset="0.036" stop-color="#d4141a"/><stop offset="0.107" stop-color="#d4141a"/><stop offset="0.179" stop-color="#d4141a"/><stop offset="0.250" stop-color="#d4141a"/><stop offset="0.321" stop-color="#d4141a"/><stop offset="0.393" stop-color="#d4141a"/><stop offset="0.464" stop-color="#d4141a"/><stop offset="0.536" stop-color="#e2371a"/><stop offset="0.607" stop-color="#f79813"/><stop offset="0.679" stop-color="#f8c010"/><stop offset="0.750" stop-color="#3e9cd8"/><stop offset="0.821" stop-color="#2489d2"/><stop offset="0.893" stop-color="#2489d2"/><stop offset="0.964" stop-color="#2386cf"/></linearGradient><linearGradient id="gC62" x1="407.0" x2="547.2" y1="0" y2="0" gradientUnits="userSpaceOnUse"><stop offset="0.036" stop-color="#d4141a"/><stop offset="0.107" stop-color="#d4141a"/><stop offset="0.179" stop-color="#d4141a"/><stop offset="0.250" stop-color="#d4141a"/><stop offset="0.321" stop-color="#d4141a"/><stop offset="0.393" stop-color="#d4141a"/><stop offset="0.464" stop-color="#d4141a"/><stop offset="0.536" stop-color="#e2371a"/><stop offset="0.607" stop-color="#f79813"/><stop offset="0.679" stop-color="#f8c010"/><stop offset="0.750" stop-color="#3b9ad7"/><stop offset="0.821" stop-color="#2489d2"/><stop offset="0.893" stop-color="#2489d2"/><stop offset="0.964" stop-color="#2489d2"/></linearGradient><linearGradient id="gC63" x1="407.0" x2="547.2" y1="0" y2="0" gradientUnits="userSpaceOnUse"><stop offset="0.036" stop-color="#d4141a"/><stop offset="0.107" stop-color="#d4141a"/><stop offset="0.179" stop-color="#d4141a"/><stop offset="0.250" stop-color="#d4141a"/><stop offset="0.321" stop-color="#d4141a"/><stop offset="0.393" stop-color="#d4141a"/><stop offset="0.464" stop-color="#d4141a"/><stop offset="0.536" stop-color="#de2d1a"/><stop offset="0.607" stop-color="#f58815"/><stop offset="0.679" stop-color="#f8c010"/><stop offset="0.750" stop-color="#3495d6"/><stop offset="0.821" stop-color="#2489d2"/><stop offset="0.893" stop-color="#2489d2"/><stop offset="0.964" stop-color="#2489d2"/></linearGradient><linearGradient id="gC64" x1="407.0" x2="547.2" y1="0" y2="0" gradientUnits="userSpaceOnUse"><stop offset="0.036" stop-color="#d4141a"/><stop offset="0.107" stop-color="#d4141a"/><stop offset="0.179" stop-color="#d4141a"/><stop offset="0.250" stop-color="#d4141a"/><stop offset="0.321" stop-color="#d4141a"/><stop offset="0.393" stop-color="#d4141a"/><stop offset="0.464" stop-color="#d4141a"/><stop offset="0.536" stop-color="#da231a"/><stop offset="0.607" stop-color="#f37817"/><stop offset="0.679" stop-color="#f8c010"/><stop offset="0.750" stop-color="#2e90d4"/><stop offset="0.821" stop-color="#2489d2"/><stop offset="0.893" stop-color="#2489d2"/><stop offset="0.964" stop-color="#2489d2"/></linearGradient><linearGradient id="gC65" x1="407.0" x2="547.2" y1="0" y2="0" gradientUnits="userSpaceOnUse"><stop offset="0.036" stop-color="#d4141a"/><stop offset="0.107" stop-color="#d4141a"/><stop offset="0.179" stop-color="#d4141a"/><stop offset="0.250" stop-color="#d4141a"/><stop offset="0.321" stop-color="#d4141a"/><stop offset="0.393" stop-color="#d4141a"/><stop offset="0.464" stop-color="#d4141a"/><stop offset="0.536" stop-color="#d6191a"/><stop offset="0.607" stop-color="#f16819"/><stop offset="0.679" stop-color="#f8c010"/><stop offset="0.750" stop-color="#278bd3"/><stop offset="0.821" stop-color="#2489d2"/><stop offset="0.893" stop-color="#2489d2"/><stop offset="0.964" stop-color="#2489d2"/></linearGradient><linearGradient id="gC66" x1="407.0" x2="547.2" y1="0" y2="0" gradientUnits="userSpaceOnUse"><stop offset="0.036" stop-color="#d4141a"/><stop offset="0.107" stop-color="#d4141a"/><stop offset="0.179" stop-color="#d4141a"/><stop offset="0.250" stop-color="#d4141a"/><stop offset="0.321" stop-color="#d4141a"/><stop offset="0.393" stop-color="#d4141a"/><stop offset="0.464" stop-color="#d4141a"/><stop offset="0.536" stop-color="#d4141a"/><stop offset="0.607" stop-color="#f0601a"/><stop offset="0.679" stop-color="#f8c010"/><stop offset="0.750" stop-color="#2489d2"/><stop offset="0.821" stop-color="#2489d2"/><stop offset="0.893" stop-color="#2489d2"/><stop offset="0.964" stop-color="#2489d2"/></linearGradient><linearGradient id="gC67" x1="407.0" x2="547.2" y1="0" y2="0" gradientUnits="userSpaceOnUse"><stop offset="0.036" stop-color="#d4141a"/><stop offset="0.107" stop-color="#d4141a"/><stop offset="0.179" stop-color="#d4141a"/><stop offset="0.250" stop-color="#d4141a"/><stop offset="0.321" stop-color="#d4141a"/><stop offset="0.393" stop-color="#d4141a"/><stop offset="0.464" stop-color="#d4141a"/><stop offset="0.536" stop-color="#d4141a"/><stop offset="0.607" stop-color="#f0601a"/><stop offset="0.679" stop-color="#f8c010"/><stop offset="0.750" stop-color="#2489d2"/><stop offset="0.821" stop-color="#2489d2"/><stop offset="0.893" stop-color="#2489d2"/><stop offset="0.964" stop-color="#2489d2"/></linearGradient><filter id="blurC" x="387.0" y="15.0" width="180.2" height="206.0" filterUnits="userSpaceOnUse"><feGaussianBlur stdDeviation="0.8 0.8"/></filter></defs>
<clipPath id="cC"><rect x="407.0" y="35.0" width="140.2" height="166.0"/></clipPath>
<g clip-path="url(#cC)"><g filter="url(#blurC)">
<rect x="401.0" y="29.00" width="152.2" height="8.94" fill="url(#gC0)"/>
<rect x="401.0" y="37.44" width="152.2" height="2.94" fill="url(#gC1)"/>
<rect x="401.0" y="39.88" width="152.2" height="2.94" fill="url(#gC2)"/>
<rect x="401.0" y="42.32" width="152.2" height="2.94" fill="url(#gC3)"/>
<rect x="401.0" y="44.76" width="152.2" height="2.94" fill="url(#gC4)"/>
<rect x="401.0" y="47.21" width="152.2" height="2.94" fill="url(#gC5)"/>
<rect x="401.0" y="49.65" width="152.2" height="2.94" fill="url(#gC6)"/>
<rect x="401.0" y="52.09" width="152.2" height="2.94" fill="url(#gC7)"/>
<rect x="401.0" y="54.53" width="152.2" height="2.94" fill="url(#gC8)"/>
<rect x="401.0" y="56.97" width="152.2" height="2.94" fill="url(#gC9)"/>
<rect x="401.0" y="59.41" width="152.2" height="2.94" fill="url(#gC10)"/>
<rect x="401.0" y="61.85" width="152.2" height="2.94" fill="url(#gC11)"/>
<rect x="401.0" y="64.29" width="152.2" height="2.94" fill="url(#gC12)"/>
<rect x="401.0" y="66.74" width="152.2" height="2.94" fill="url(#gC13)"/>
<rect x="401.0" y="69.18" width="152.2" height="2.94" fill="url(#gC14)"/>
<rect x="401.0" y="71.62" width="152.2" height="2.94" fill="url(#gC15)"/>
<rect x="401.0" y="74.06" width="152.2" height="2.94" fill="url(#gC16)"/>
<rect x="401.0" y="76.50" width="152.2" height="2.94" fill="url(#gC17)"/>
<rect x="401.0" y="78.94" width="152.2" height="2.94" fill="url(#gC18)"/>
<rect x="401.0" y="81.38" width="152.2" height="2.94" fill="url(#gC19)"/>
<rect x="401.0" y="83.82" width="152.2" height="2.94" fill="url(#gC20)"/>
<rect x="401.0" y="86.26" width="152.2" height="2.94" fill="url(#gC21)"/>
<rect x="401.0" y="88.71" width="152.2" height="2.94" fill="url(#gC22)"/>
<rect x="401.0" y="91.15" width="152.2" height="2.94" fill="url(#gC23)"/>
<rect x="401.0" y="93.59" width="152.2" height="2.94" fill="url(#gC24)"/>
<rect x="401.0" y="96.03" width="152.2" height="2.94" fill="url(#gC25)"/>
<rect x="401.0" y="98.47" width="152.2" height="2.94" fill="url(#gC26)"/>
<rect x="401.0" y="100.91" width="152.2" height="2.94" fill="url(#gC27)"/>
<rect x="401.0" y="103.35" width="152.2" height="2.94" fill="url(#gC28)"/>
<rect x="401.0" y="105.79" width="152.2" height="2.94" fill="url(#gC29)"/>
<rect x="401.0" y="108.24" width="152.2" height="2.94" fill="url(#gC30)"/>
<rect x="401.0" y="110.68" width="152.2" height="2.94" fill="url(#gC31)"/>
<rect x="401.0" y="113.12" width="152.2" height="2.94" fill="url(#gC32)"/>
<rect x="401.0" y="115.56" width="152.2" height="2.94" fill="url(#gC33)"/>
<rect x="401.0" y="118.00" width="152.2" height="2.94" fill="url(#gC34)"/>
<rect x="401.0" y="120.44" width="152.2" height="2.94" fill="url(#gC35)"/>
<rect x="401.0" y="122.88" width="152.2" height="2.94" fill="url(#gC36)"/>
<rect x="401.0" y="125.32" width="152.2" height="2.94" fill="url(#gC37)"/>
<rect x="401.0" y="127.76" width="152.2" height="2.94" fill="url(#gC38)"/>
<rect x="401.0" y="130.21" width="152.2" height="2.94" fill="url(#gC39)"/>
<rect x="401.0" y="132.65" width="152.2" height="2.94" fill="url(#gC40)"/>
<rect x="401.0" y="135.09" width="152.2" height="2.94" fill="url(#gC41)"/>
<rect x="401.0" y="137.53" width="152.2" height="2.94" fill="url(#gC42)"/>
<rect x="401.0" y="139.97" width="152.2" height="2.94" fill="url(#gC43)"/>
<rect x="401.0" y="142.41" width="152.2" height="2.94" fill="url(#gC44)"/>
<rect x="401.0" y="144.85" width="152.2" height="2.94" fill="url(#gC45)"/>
<rect x="401.0" y="147.29" width="152.2" height="2.94" fill="url(#gC46)"/>
<rect x="401.0" y="149.74" width="152.2" height="2.94" fill="url(#gC47)"/>
<rect x="401.0" y="152.18" width="152.2" height="2.94" fill="url(#gC48)"/>
<rect x="401.0" y="154.62" width="152.2" height="2.94" fill="url(#gC49)"/>
<rect x="401.0" y="157.06" width="152.2" height="2.94" fill="url(#gC50)"/>
<rect x="401.0" y="159.50" width="152.2" height="2.94" fill="url(#gC51)"/>
<rect x="401.0" y="161.94" width="152.2" height="2.94" fill="url(#gC52)"/>
<rect x="401.0" y="164.38" width="152.2" height="2.94" fill="url(#gC53)"/>
<rect x="401.0" y="166.82" width="152.2" height="2.94" fill="url(#gC54)"/>
<rect x="401.0" y="169.26" width="152.2" height="2.94" fill="url(#gC55)"/>
<rect x="401.0" y="171.71" width="152.2" height="2.94" fill="url(#gC56)"/>
<rect x="401.0" y="174.15" width="152.2" height="2.94" fill="url(#gC57)"/>
<rect x="401.0" y="176.59" width="152.2" height="2.94" fill="url(#gC58)"/>
<rect x="401.0" y="179.03" width="152.2" height="2.94" fill="url(#gC59)"/>
<rect x="401.0" y="181.47" width="152.2" height="2.94" fill="url(#gC60)"/>
<rect x="401.0" y="183.91" width="152.2" height="2.94" fill="url(#gC61)"/>
<rect x="401.0" y="186.35" width="152.2" height="2.94" fill="url(#gC62)"/>
<rect x="401.0" y="188.79" width="152.2" height="2.94" fill="url(#gC63)"/>
<rect x="401.0" y="191.24" width="152.2" height="2.94" fill="url(#gC64)"/>
<rect x="401.0" y="193.68" width="152.2" height="2.94" fill="url(#gC65)"/>
<rect x="401.0" y="196.12" width="152.2" height="2.94" fill="url(#gC66)"/>
<rect x="401.0" y="198.56" width="152.2" height="8.94" fill="url(#gC67)"/>
</g>
<linearGradient id="vC" x1="0" y1="60" x2="0" y2="121" gradientUnits="userSpaceOnUse"><stop offset="0" stop-color="#2489d2"/><stop offset="0.55" stop-color="#2e90d4"/><stop offset="0.72" stop-color="#66b2e0"/><stop offset="0.88" stop-color="#b8d4c0"/><stop offset="1" stop-color="#f0d850"/></linearGradient><polygon points="409.2,60 421,60 420.5,76 416.5,90 414.6,105 413.6,121 412.8,121 411.8,105 410.8,90 409.3,76" fill="url(#vC)" filter="url(#fv)"/><rect x="440" y="195.4" width="68" height="1.2" fill="#f0c020" opacity="0.6" filter="url(#fv)"/>
</g>
<rect x="22.5" y="197.8" width="2" height="2" fill="#111"/>
<rect x="57.8" y="197.8" width="2" height="2" fill="#111"/>
<rect x="92.8" y="197.8" width="2" height="2" fill="#111"/>
<rect x="127.8" y="197.8" width="2" height="2" fill="#111"/>
<rect x="162.5" y="197.8" width="2" height="2" fill="#111"/>
<rect x="21.5" y="32" width="2" height="2" fill="#111"/>
<rect x="21.5" y="73" width="2" height="2" fill="#111"/>
<rect x="21.5" y="114.5" width="2" height="2" fill="#111"/>
<rect x="21.5" y="156" width="2" height="2" fill="#111"/>
<rect x="21.5" y="196" width="2" height="2" fill="#111"/>
<rect x="221.5" y="201.5" width="2" height="2" fill="#111"/>
<rect x="258.8" y="201.5" width="2" height="2" fill="#111"/>
<rect x="296" y="201.5" width="2" height="2" fill="#111"/>
<rect x="332.5" y="201.5" width="2" height="2" fill="#111"/>
<rect x="369.7" y="201.5" width="2" height="2" fill="#111"/>
<rect x="219.8" y="32.5" width="2" height="2" fill="#111"/>
<rect x="219.8" y="74" width="2" height="2" fill="#111"/>
<rect x="219.8" y="116.5" width="2" height="2" fill="#111"/>
<rect x="219.8" y="157.5" width="2" height="2" fill="#111"/>
<rect x="219.8" y="199.5" width="2" height="2" fill="#111"/>
<rect x="406.3" y="201.3" width="2" height="2" fill="#111"/>
<rect x="441.5" y="201.3" width="2" height="2" fill="#111"/>
<rect x="476.5" y="201.3" width="2" height="2" fill="#111"/>
<rect x="511.6" y="201.3" width="2" height="2" fill="#111"/>
<rect x="546" y="201.3" width="2" height="2" fill="#111"/>
<rect x="404.8" y="35" width="2" height="2" fill="#111"/>
<rect x="404.8" y="77" width="2" height="2" fill="#111"/>
<rect x="404.8" y="118" width="2" height="2" fill="#111"/>
<rect x="404.8" y="159" width="2" height="2" fill="#111"/>
<rect x="404.8" y="200" width="2" height="2" fill="#111"/>
<rect x="176.5" y="98.9" width="7.4" height="44.1" fill="url(#cbar)"/>
<line x1="42.5" y1="246" x2="42.5" y2="353.4" stroke="#888" stroke-width="0.9"/>
<line x1="42" y1="353.4" x2="187" y2="353.4" stroke="#888" stroke-width="0.9"/>
<line x1="40.5" y1="246.5" x2="42.5" y2="246.5" stroke="#888" stroke-width="0.9"/>
<line x1="40.5" y1="300" x2="42.5" y2="300" stroke="#888" stroke-width="0.9"/>
<line x1="42.60" y1="353.4" x2="42.60" y2="355.8" stroke="#888" stroke-width="0.9"/>
<line x1="58.43" y1="353.4" x2="58.43" y2="355.8" stroke="#888" stroke-width="0.9"/>
<line x1="74.26" y1="353.4" x2="74.26" y2="355.8" stroke="#888" stroke-width="0.9"/>
<line x1="90.09" y1="353.4" x2="90.09" y2="355.8" stroke="#888" stroke-width="0.9"/>
<line x1="105.92" y1="353.4" x2="105.92" y2="355.8" stroke="#888" stroke-width="0.9"/>
<line x1="121.75" y1="353.4" x2="121.75" y2="355.8" stroke="#888" stroke-width="0.9"/>
<line x1="137.58" y1="353.4" x2="137.58" y2="355.8" stroke="#888" stroke-width="0.9"/>
<line x1="153.41" y1="353.4" x2="153.41" y2="355.8" stroke="#888" stroke-width="0.9"/>
<line x1="169.24" y1="353.4" x2="169.24" y2="355.8" stroke="#888" stroke-width="0.9"/>
<line x1="185.07" y1="353.4" x2="185.07" y2="355.8" stroke="#888" stroke-width="0.9"/>
<rect x="46.30" y="348.3" width="3.5" height="5.10" fill="#3c7cc4"/>
<rect x="49.80" y="334" width="3.5" height="19.40" fill="#d0403e"/>
<rect x="53.30" y="332" width="3.5" height="21.40" fill="#a0c656"/>
<rect x="62.11" y="353.0" width="3.5" height="0.40" fill="#3c7cc4"/>
<rect x="65.61" y="351" width="3.5" height="2.40" fill="#d0403e"/>
<rect x="69.11" y="348" width="3.5" height="5.40" fill="#a0c656"/>
<rect x="77.92" y="352" width="3.5" height="1.40" fill="#3c7cc4"/>
<rect x="81.42" y="347.8" width="3.5" height="5.60" fill="#d0403e"/>
<rect x="84.92" y="345.5" width="3.5" height="7.90" fill="#a0c656"/>
<rect x="93.73" y="346.3" width="3.5" height="7.10" fill="#3c7cc4"/>
<rect x="97.23" y="344.6" width="3.5" height="8.80" fill="#d0403e"/>
<rect x="100.73" y="343.4" width="3.5" height="10.00" fill="#a0c656"/>
<rect x="109.54" y="250" width="3.5" height="103.40" fill="#3c7cc4"/>
<rect x="113.04" y="292.3" width="3.5" height="61.10" fill="#d0403e"/>
<rect x="116.54" y="311.3" width="3.5" height="42.10" fill="#a0c656"/>
<rect x="125.35" y="346.9" width="3.5" height="6.50" fill="#3c7cc4"/>
<rect x="128.85" y="345.2" width="3.5" height="8.20" fill="#d0403e"/>
<rect x="132.35" y="344" width="3.5" height="9.40" fill="#a0c656"/>
<rect x="141.16" y="352" width="3.5" height="1.40" fill="#3c7cc4"/>
<rect x="144.66" y="347.8" width="3.5" height="5.60" fill="#d0403e"/>
<rect x="148.16" y="345.5" width="3.5" height="7.90" fill="#a0c656"/>
<rect x="156.97" y="353.0" width="3.5" height="0.40" fill="#3c7cc4"/>
<rect x="160.47" y="351" width="3.5" height="2.40" fill="#d0403e"/>
<rect x="163.97" y="347.8" width="3.5" height="5.60" fill="#a0c656"/>
<rect x="172.78" y="348.3" width="3.5" height="5.10" fill="#3c7cc4"/>
<rect x="176.28" y="334" width="3.5" height="19.40" fill="#d0403e"/>
<rect x="179.78" y="332" width="3.5" height="21.40" fill="#a0c656"/>
<rect x="132" y="259.4" width="5.6" height="6.4" fill="#70a8c8"/>
<rect x="132" y="274.7" width="5.6" height="6.2" fill="#e86a30"/>
<rect x="132" y="289.5" width="5.6" height="5.7" fill="#c8dc78"/>
<line x1="232.2" y1="269" x2="232.2" y2="331.5" stroke="#222" stroke-width="1"/>
<line x1="229.2" y1="269" x2="232.2" y2="269" stroke="#222" stroke-width="1"/>
<line x1="228.5" y1="331.5" x2="232.2" y2="331.5" stroke="#222" stroke-width="1"/>
<line x1="232.2" y1="307.2" x2="565" y2="307.2" stroke="#a0a0a0" stroke-width="1"/>
<line x1="231" y1="336" x2="231" y2="396.5" stroke="#222" stroke-width="1"/>
<line x1="227.5" y1="336" x2="231" y2="336" stroke="#222" stroke-width="1"/>
<line x1="231" y1="396.7" x2="565" y2="396.7" stroke="#a0a0a0" stroke-width="1"/>
<g shape-rendering="crispEdges"><rect x="236.84" y="277.4" width="5.18" height="29.30" fill="#f0c818"/>
<rect x="241.67" y="287.1" width="5.18" height="19.60" fill="#f0c818"/>
<rect x="251.34" y="287.1" width="5.18" height="19.60" fill="#f0c818"/>
<rect x="270.68" y="287.1" width="5.18" height="19.60" fill="#f0c818"/>
<rect x="275.51" y="277.4" width="5.18" height="29.30" fill="#f0c818"/>
<rect x="280.35" y="287.1" width="5.18" height="19.60" fill="#f0c818"/>
<rect x="285.19" y="268.5" width="5.18" height="38.20" fill="#f0c818"/>
<rect x="304.52" y="268.2" width="5.18" height="38.50" fill="#f0c818"/>
<rect x="309.36" y="273.7" width="5.18" height="33.00" fill="#f0c818"/>
<rect x="314.19" y="268.2" width="5.18" height="38.50" fill="#f0c818"/>
<rect x="319.03" y="276.5" width="5.18" height="30.20" fill="#f0c818"/>
<rect x="348.04" y="281.1" width="5.18" height="25.60" fill="#f0c818"/>
<rect x="352.88" y="281.1" width="5.18" height="25.60" fill="#f0c818"/>
<rect x="367.38" y="287.0" width="5.18" height="19.70" fill="#f0c818"/>
<rect x="386.72" y="289.6" width="5.18" height="17.10" fill="#f0c818"/>
<rect x="406.06" y="285.1" width="5.18" height="21.60" fill="#f0c818"/>
<rect x="425.40" y="291.8" width="5.18" height="14.90" fill="#f0c818"/>
<rect x="439.90" y="272.7" width="5.18" height="34.00" fill="#f0c818"/>
<rect x="464.08" y="272.7" width="5.18" height="34.00" fill="#f0c818"/>
<rect x="478.59" y="273.6" width="5.18" height="33.10" fill="#f0c818"/>
<rect x="483.42" y="286.0" width="5.18" height="20.70" fill="#f0c818"/>
<rect x="488.25" y="273.6" width="5.18" height="33.10" fill="#f0c818"/>
<rect x="497.93" y="284.5" width="5.18" height="22.20" fill="#f0c818"/>
<rect x="502.76" y="295.6" width="5.18" height="11.10" fill="#f0c818"/>
<rect x="507.59" y="295.6" width="5.18" height="11.10" fill="#f0c818"/>
<rect x="522.10" y="284.5" width="5.18" height="22.20" fill="#f0c818"/>
<rect x="541.44" y="286.8" width="5.18" height="19.90" fill="#f0c818"/>
<rect x="546.27" y="291.0" width="5.18" height="15.70" fill="#f0c818"/>
<rect x="551.11" y="277.0" width="5.18" height="29.70" fill="#f0c818"/>
<rect x="290.02" y="283.3" width="4.83" height="23.40" fill="#e8201c"/>
<rect x="294.86" y="307.7" width="4.83" height="21.70" fill="#e8201c"/>
<rect x="270.68" y="365.8" width="5.18" height="30.40" fill="#f0c818"/>
<rect x="280.35" y="335.3" width="5.18" height="60.90" fill="#f0c818"/>
<rect x="314.19" y="381.9" width="5.18" height="14.30" fill="#f0c818"/>
<rect x="319.03" y="381.9" width="5.18" height="14.30" fill="#f0c818"/>
<rect x="348.04" y="366.3" width="5.18" height="29.90" fill="#f0c818"/>
<rect x="352.88" y="381.9" width="5.18" height="14.30" fill="#f0c818"/>
<rect x="367.38" y="376.0" width="5.18" height="20.20" fill="#f0c818"/>
<rect x="386.72" y="356.0" width="5.18" height="40.20" fill="#f0c818"/>
<rect x="406.06" y="366.3" width="5.18" height="29.90" fill="#f0c818"/>
<rect x="439.90" y="384.3" width="5.18" height="11.90" fill="#f0c818"/>
<rect x="464.08" y="384.3" width="5.18" height="11.90" fill="#f0c818"/>
<rect x="478.59" y="384.3" width="5.18" height="11.90" fill="#f0c818"/>
<rect x="483.42" y="384.3" width="5.18" height="11.90" fill="#f0c818"/>
<rect x="488.25" y="384.3" width="5.18" height="11.90" fill="#f0c818"/>
<rect x="497.93" y="376.0" width="5.18" height="20.20" fill="#f0c818"/>
<rect x="502.76" y="381.6" width="5.18" height="14.60" fill="#f0c818"/>
<rect x="507.59" y="381.6" width="5.18" height="14.60" fill="#f0c818"/>
<rect x="522.10" y="376.0" width="5.18" height="20.20" fill="#f0c818"/>
<rect x="541.44" y="376.0" width="5.18" height="20.20" fill="#f0c818"/>
<rect x="546.27" y="366.4" width="5.18" height="29.80" fill="#f0c818"/>
<rect x="236.84" y="395.0" width="4.83" height="1.2" fill="#f0c818"/>
<rect x="241.67" y="395.0" width="4.83" height="1.2" fill="#f0c818"/>
<rect x="251.34" y="395.0" width="4.83" height="1.2" fill="#f0c818"/>
<rect x="304.52" y="395.0" width="4.83" height="1.2" fill="#f0c818"/>
<rect x="309.36" y="395.0" width="4.83" height="1.2" fill="#f0c818"/>
<rect x="425.40" y="395.0" width="4.83" height="1.2" fill="#f0c818"/>
<rect x="551.11" y="395.0" width="4.83" height="1.2" fill="#f0c818"/>
<rect x="290.02" y="395.0" width="9.67" height="1.2" fill="#e8201c"/></g>
<rect x="417.3" y="324.7" width="9.7" height="10" fill="#e8201c"/>
<rect x="417.3" y="342.2" width="9.7" height="9" fill="#f0c818"/>
<g fill="#111" font-family="Liberation Sans, sans-serif"><text x="1.2" y="14.6" font-size="19" font-weight="bold" text-anchor="start">A</text>
<text x="197.3" y="14.7" font-size="19" font-weight="bold" text-anchor="start">B</text>
<text x="393.0" y="14.6" font-size="19" font-weight="bold" text-anchor="start">C</text>
<text x="0.8" y="243.7" font-size="19" font-weight="bold" text-anchor="start">D</text>
<text x="200.0" y="243.7" font-size="19" font-weight="bold" text-anchor="start">E</text>
<text x="75.6" y="26.8" font-size="13.5" font-weight="bold" text-anchor="start" textLength="20.2" lengthAdjust="spacingAndGlyphs">WT</text>
<text x="284.0" y="26.7" font-size="13.5" font-weight="bold" text-anchor="start" textLength="25.6" lengthAdjust="spacingAndGlyphs">1KO</text>
<text x="463.0" y="27.8" font-size="13.5" font-weight="bold" text-anchor="start" textLength="28.2" lengthAdjust="spacingAndGlyphs">DKO</text>
<text x="90.0" y="181.2" font-size="12.5" font-weight="bold" text-anchor="start">Cor:</text>
<text x="125.0" y="181.2" font-size="12.5" font-weight="bold" text-anchor="start">0.8948</text>
<text x="304.2" y="45.2" font-size="12" font-weight="bold" text-anchor="start">Cor:</text>
<text x="334.5" y="45.2" font-size="12" font-weight="bold" text-anchor="start">0.1883</text>
<text x="480.3" y="46.5" font-size="11.5" font-weight="bold" text-anchor="start">Cor:</text>
<text x="508.9" y="46.5" font-size="11.5" font-weight="bold" text-anchor="start">0.4429</text>
<text x="166.3" y="79.2" font-size="9.5" font-weight="bold" text-anchor="start" textLength="51.3" lengthAdjust="spacingAndGlyphs">Normalized</text>
<text x="170.0" y="88.4" font-size="9.5" font-weight="bold" text-anchor="start" textLength="33.2" lengthAdjust="spacingAndGlyphs">density</text>
<text x="188.3" y="101.6" font-size="9" font-weight="bold" text-anchor="start">3</text>
<text x="188.6" y="114.8" font-size="9" font-weight="bold" text-anchor="start">1</text>
<text x="188.3" y="121.6" font-size="9" font-weight="bold" text-anchor="start">0</text>
<text x="188.6" y="129.7" font-size="9" font-weight="bold" text-anchor="start">1</text>
<text x="188.3" y="144.8" font-size="9" font-weight="bold" text-anchor="start">3</text>
<rect x="186.3" y="124.7" width="2" height="1" fill="#222"/>
<rect x="186.3" y="138.5" width="2" height="1" fill="#222"/>
<text transform="translate(10.3,131.8) rotate(-90)" font-size="12.5" font-weight="bold" text-anchor="middle" textLength="108" lengthAdjust="spacingAndGlyphs">Methyl rate on (-)</text>
<text x="33.3" y="223.8" font-size="12.5" font-weight="bold" text-anchor="start" textLength="115.8" lengthAdjust="spacingAndGlyphs">Methyl rate on (+)</text>
<text x="20.9" y="210.6" font-size="11.5" font-weight="normal" text-anchor="middle">0</text>
<text x="92.7" y="210.6" font-size="11.5" font-weight="normal" text-anchor="middle">0.5</text>
<text x="159.6" y="211.6" font-size="11.5" font-weight="normal" text-anchor="middle">1.0</text>
<text transform="translate(20.7,43.7) rotate(-90)" font-size="11.5" font-weight="normal" text-anchor="middle">1.0</text>
<text transform="translate(20.1,119.0) rotate(-90)" font-size="11.5" font-weight="normal" text-anchor="middle">0.5</text>
<text x="217.8" y="213.0" font-size="11.5" font-weight="normal" text-anchor="middle">0</text>
<text x="294.2" y="214.0" font-size="11.5" font-weight="normal" text-anchor="middle">0.5</text>
<text x="367.9" y="214.2" font-size="11.5" font-weight="normal" text-anchor="middle">1.0</text>
<text transform="translate(218.9,39.5) rotate(-90)" font-size="11.5" font-weight="normal" text-anchor="middle">1.0</text>
<text transform="translate(217.0,119.5) rotate(-90)" font-size="11.5" font-weight="normal" text-anchor="middle">0.50</text>
<text x="475.4" y="213.8" font-size="11.5" font-weight="normal" text-anchor="middle">0.5</text>
<text x="541.9" y="213.8" font-size="11.5" font-weight="normal" text-anchor="middle">1.0</text>
<text transform="translate(404.4,45.1) rotate(-90)" font-size="11.5" font-weight="normal" text-anchor="middle">1.0</text>
<text transform="translate(404.9,122.9) rotate(-90)" font-size="11.5" font-weight="normal" text-anchor="middle">0.5</text>
<text x="40.5" y="249.5" font-size="11.5" font-weight="bold" text-anchor="end">80%</text>
<text x="40.5" y="305.5" font-size="11.5" font-weight="bold" text-anchor="end">40%</text>
<text transform="translate(10.6,298.5) rotate(-90)" font-size="11" font-weight="bold" text-anchor="middle" textLength="73.2" lengthAdjust="spacingAndGlyphs">CG sites (%)</text>
<text transform="translate(53.70,358.3) rotate(-90)" font-size="10" font-weight="bold" text-anchor="end" textLength="41.0" lengthAdjust="spacingAndGlyphs">0.8~ 1.0</text>
<text transform="translate(69.70,358.3) rotate(-90)" font-size="10" font-weight="bold" text-anchor="end" textLength="41.0" lengthAdjust="spacingAndGlyphs">0.6~ 0.8</text>
<text transform="translate(85.70,358.3) rotate(-90)" font-size="10" font-weight="bold" text-anchor="end" textLength="41.0" lengthAdjust="spacingAndGlyphs">0.4~ 0.6</text>
<text transform="translate(101.70,358.3) rotate(-90)" font-size="10" font-weight="bold" text-anchor="end" textLength="41.0" lengthAdjust="spacingAndGlyphs">0.2~ 0.4</text>
<text transform="translate(117.70,358.3) rotate(-90)" font-size="10" font-weight="bold" text-anchor="end" textLength="45.5" lengthAdjust="spacingAndGlyphs">-0.2~-0.2</text>
<text transform="translate(133.70,358.3) rotate(-90)" font-size="10" font-weight="bold" text-anchor="end" textLength="45.5" lengthAdjust="spacingAndGlyphs">-0.4~-0.2</text>
<text transform="translate(149.70,358.3) rotate(-90)" font-size="10" font-weight="bold" text-anchor="end" textLength="45.5" lengthAdjust="spacingAndGlyphs">-0.6~-0.4</text>
<text transform="translate(165.70,358.3) rotate(-90)" font-size="10" font-weight="bold" text-anchor="end" textLength="45.5" lengthAdjust="spacingAndGlyphs">-0.8~-0.6</text>
<text transform="translate(181.70,358.3) rotate(-90)" font-size="10" font-weight="bold" text-anchor="end" textLength="45.5" lengthAdjust="spacingAndGlyphs">-1.0~-0.8</text>
<text x="79.0" y="416.8" font-size="11" font-weight="bold" text-anchor="start" textLength="57.0" lengthAdjust="spacingAndGlyphs">Bias index</text>
<text x="141.0" y="266.0" font-size="11" font-weight="bold" text-anchor="start">WT</text>
<text x="141.0" y="281.3" font-size="11" font-weight="bold" text-anchor="start">DKO</text>
<text x="141.0" y="295.8" font-size="11" font-weight="bold" text-anchor="start">1KO</text>
<text x="231.8" y="265.5" font-size="12" font-weight="bold" textLength="96.30" lengthAdjust="spacingAndGlyphs">TCCTCTTTCCCCCGTCCCCT</text>
<text x="329.30" y="265.5" font-size="12" font-weight="bold" textLength="229.40" lengthAdjust="spacingAndGlyphs">ATTTCCTTCATTCATTCTTTCTTCTTTACTTCCCTCCCTTCAATCCCT</text>
<text x="222.6" y="276.8" font-size="11" font-weight="bold" text-anchor="end">1</text>
<text x="223.2" y="309.0" font-size="11.5" font-weight="bold" text-anchor="end">0</text>
<text x="228.0" y="330.0" font-size="11" font-weight="bold" text-anchor="end">-0.6</text>
<text transform="translate(212.4,293.1) rotate(-90)" font-size="11" font-weight="bold" text-anchor="middle" textLength="20.5" lengthAdjust="spacingAndGlyphs">WT</text>
<text x="221.0" y="344.0" font-size="11" font-weight="bold" text-anchor="end">1</text>
<text x="225.4" y="398.5" font-size="11" font-weight="bold" text-anchor="end">0</text>
<text transform="translate(216.0,366.1) rotate(-90)" font-size="11" font-weight="bold" text-anchor="middle" textLength="26.0" lengthAdjust="spacingAndGlyphs">1KO</text>
<text x="433.0" y="331.6" font-size="9.5" font-weight="normal" text-anchor="start" fill="#222">CG</text>
<text x="432.8" y="350.2" font-size="9.5" font-weight="normal" text-anchor="start" fill="#222">CHH</text></g>
</svg>
</body></html>
